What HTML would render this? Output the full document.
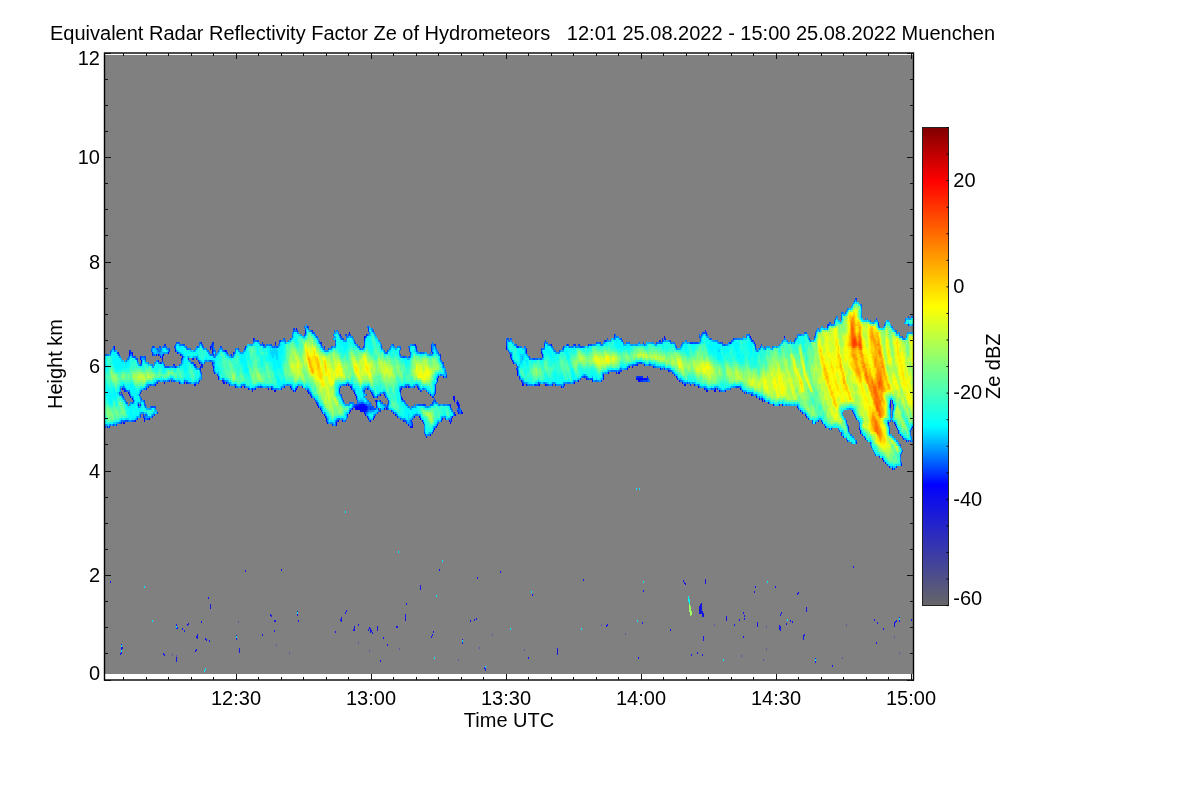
<!DOCTYPE html>
<html><head><meta charset="utf-8"><title>Ze</title>
<style>html,body{margin:0;padding:0;background:#fff}body{width:1200px;height:800px;overflow:hidden}svg{display:block}</style>
</head><body>
<svg style="will-change:transform" width="1200" height="800" viewBox="0 0 1200 800">
<rect width="1200" height="800" fill="#fff"/>
<rect x="105" y="55" width="808" height="619" fill="#808080"/>
<g fill="none" stroke-width="1" shape-rendering="crispEdges">
<path stroke="#1212e4" d="M252.5 390v2"/>
<path stroke="#0a0af0" d="M351.5 388v2m100 30v2"/>
<path stroke="#0303fb" d="M124.5 390v2m20 28v2m14-68v2m26 26v2m39-2v2m45 4v2m3-2v2m24 0v2m41 30v2m2-4v2m12-36v2m10 18v4m1-4v4m1-4v4m1-4v4m1-4v4m1-4v4m0 4v2m36-28v2m7-4v2m4 38v2m39-10v2m2-24v2m1-2v2m4 14v2m64-32v4m4-2v2m13-2v2m35-4v2m45-12v2m8-6v2m10-6v2m27-30v2m4 32v2m38 18v2m34-4v2m22 10v2"/>
<path stroke="#0000ff" d="M123.5 422v2m1-2v2m5-30v2m6 24v2m6-62v2m3 56v2m5-2v2m6-36v2m8-32v2m1 26v2m4-32v2m14 2v2m4 24v2m13-22v2m11-18v4m12 30v2m2 0v2m20 2v2m30 2v2m1-50v2m0 46v2m15-6v2m6 0v2m12 2v2m9 10v2m1 0v2m8 10v2m1 2v2m9 0v2m12-42v2m6 6v2m3 12v4m1-4v4m1-4v4m1 0v2m6-6v2m7-12v2m22 16v2m8 4v2m7 4v2m10-10v2m14 8v2m15-10v2m1 0v2m3-26v2m2 14v2m7-4v2m44-66v2m7 12v2m4 6v4m6 10v2m22-2v2m16 0v2m17-8v2m8-4v2m32-8v2m14-8v2m6 10v2m1-2v2m1-2v2m20-12v2m22 12v2m2 0v2m14 0v2m9 2v2m7-2v2m1-4v4m36 2v2m5 0v2m3 0v2m47 16v2m82 4v2m2-20v2m2 62v2"/>
<path stroke="#000bff" d="M109.5 426v2m5-82v4m7 72v2m1-36v2m6 2v2m1-42v4m1 40v2m2-46v4m0 42v2m6 4v2m2-48v2m1 2v2m5 24v2m10-36v2m1 26v2m3-28v2m2-2v4m13-10v2m2 0v2m2 28v2m1-30v2m13 2v2m1 4v2m0 18v2m1-2v2m5-20v2m1-4v2m1-2v2m10-18v6m0 8v2m1 2v2m1 4v2m4 2v4m7-30v2m1 30v2m3 0v2m6 0v2m6-2v2m7 0v2m5-52v2m2 48v2m29-4v2m7 0v2m2 0v2m3-64v2m1 56v2m8-56v2m2 56v2m3 2v2m1 0v2m5 4v2m4 4v2m4 4v2m1 0v2m1 2v2m16-2v2m4-38v2m3-54v2m0 78v2m1-4v2m2-4v2m3-16v2m0 10v4m1-14v2m0 8v4m3-6v2m1-2v2m1-2v2m0 4v2m1-8v2m0 4v2m1-8v2m0 4v2m1-76v4m0 64v2m0 4v4m1-4v2m1-4v2m1-22v2m0 26v2m1 0v2m2 0v2m1-30v2m1 0v2m1 22v2m1-4v2m2-18v4m1-8v2m3-4v2m4-2v2m0 12v2m2-2v2m7 2v2m4 2v2m3-28v2m2 6v2m4-14v2m2 36v2m4-2v2m2-10v2m1-74v2m2 40v2m1 0v2m1 26v2m3 2v2m4 14v2m4-44v2m0 38v2m3-6v2m3-6v2m1-50v2m1-4v2m4 40v2m1-44v2m9 38v2m2-20v4m3 0v4m1-4v6m3 4v2m45-68v2m4 6v2m1 2v2m1 0v2m5 12v2m4 4v2m5-32v2m15 0v2m1 0v2m9-12v2m1 38v2m12-2v2m28-6v2m11-8v6m5-8v2m8-2v2m13-8v2m7 10v2m1-2v2m1 0v2m1-2v2m2-4v2m1-2v2m1-2v2m1-16v2m0 12v2m1-2v2m1-2v2m7-14v2m23 8v2m1 0v2m2 0v2m6 2v2m9-2v2m10 2v2m15 0v2m6-2v2m25-56v2m14 62v2m4 0v2m5 0v2m9-2v2m2-70v2m13 68v2m3 2v2m2 0v2m3 0v2m17 6v2m3 2v2m3-104v2m31 102v2m1 0v4m5 4v2m17 18v2m1 0v2m6 4v2m1-68v4m0 2v2m4 14v2m1 0v2m1 0v2m5 36v2m5-26v2"/>
<path stroke="#002dff" d="M105.5 426v2m2-2v2m9-4v2m1-74v2m1-2v2m3 38v2m1 0v2m2-8v2m1 0v2m4-42v2m1-2v4m1-2v2m2 46v2m4 16v2m3-64v2m0 34v2m0 10v2m1-16v2m2 22v4m5-32v2m4-36v4m0 60v2m1-72v2m1 66v2m3-4v2m1-54v2m2 0v2m2-4v2m2-18v2m1-2v2m4 4v2m0 28v2m2-2v2m2-18v2m1-20v2m0 16v2m1-18v2m0 16v2m6-10v2m7-2v2m4-2v2m3 4v2m1-8v2m2 0v2m0 20v2m1-4v2m1-14v4m1-30v2m1 22v2m9-22v2m1-6v6m0 16v2m1-24v2m0 10v2m0 12v4m4 2v2m6 4v2m3-32v2m5 2v2m2-4v2m12-8v2m7 40v2m1-50v2m1-4v2m6 46v2m2-46v2m1 0v2m12-2v2m5-6v2m1 46v2m13-62v2m3 0v2m5 54v2m3-58v2m2-6v2m5 2v2m8 10v2m1-2v4m0 64v2m1 0v2m2-68v2m8 76v2m7-38v4m1-58v2m0 50v2m7 26v2m4-30v2m2 2v2m1 14v2m2-10v2m0 4v2m1-2v2m1-2v2m5-60v2m1-8v2m0 48v2m1-56v2m0 66v2m1-72v2m0 74v2m1-6v4m1-82v4m2 58v2m0 16v2m5-10v2m1 2v4m2 0v2m2-10v2m0 8v2m5-16v2m3 4v2m3 6v2m10-16v2m5 24v2m3-76v2m2 70v2m0 4v2m3-42v2m2-42v4m4 40v2m3 12v2m0 16v2m1-20v2m1 28v2m6-90v6m1 0v2m0 42v2m0 4v2m0 28v2m2-40v2m1-52v2m0 40v8m0 6v2m2-22v2m0 42v2m3-72v4m1 62v2m4-4v2m1-44v2m4 26v4m4 4v4m2-14v2m1-4v2m0 8v2m2-8v4m2 2v2m45-70v4m4 10v2m6 10v2m1-24v2m0 18v2m1-22v2m1 28v2m7-30v2m0 2v2m9 30v2m3-2v2m3-36v2m1 4v2m2-14v2m2 38v2m9-2v2m8-40v2m0 38v2m4-44v2m7-2v2m1-2v2m4-2v2m5 30v2m4-34v2m13 34v2m4-42v2m9-8v4m7 32v2m16 4v2m1-2v2m1-2v2m1-2v2m0 2v2m1-6v2m0 2v2m1-6v2m0 2v2m4-2v2m1-6v4m12-40v2m1-2v2m2-4v4m2-4v2m0 28v2m1-32v2m7 32v2m2 0v2m16 8v2m2-44v2m13-14v2m1 0v2m11 54v2m13-48v2m3-6v2m4 46v2m5 2v2m2 0v2m2-2v2m5-56v2m1 0v2m2 0v2m1 0v4m7 50v2m17 4v2m19 2v2m10 8v2m7 2v2m3-4v2m3-2v2m6-96v2m4 100v2m10 2v4m2 0v2m4 2v2m1-16v4m4-20v2m1 0v2m1 0v2m1 0v2m1-120v2m0 118v2m0 22v2m6-10v2m16-112v2m1 130v2m6 4v2m3-40v2m4-26v4m1 0v2m1 62v2m2-4v2m1-40v2m1 0v4m2 0v2m2 0v2m1 0v2m5-116v2m0 114v2m3-14v2m1-4v2"/>
<path stroke="#004fff" d="M106.5 354v2m4-4v2m3-8v2m0 76v2m6-72v2m0 36v2m4-6v2m0 6v2m2 22v2m1-32v2m0 10v2m0 16v2m1-2v2m2-30v2m3 8v2m0 16v2m1-66v2m0 62v2m1-66v2m0 62v2m1-66v2m1 0v2m1-2v4m2 32v2m1-32v2m0 48v4m1-62v2m0 40v2m3-44v2m0 42v4m0 12v2m1-62v4m0 44v2m0 8v2m2 2v2m1-2v2m2-36v2m1-36v2m0 54v2m1-62v2m0 58v2m1-2v2m1-54v2m0 50v2m1-2v2m2-60v2m2-4v2m0 6v2m1-10v2m1 14v2m2-18v2m1 16v2m1 0v2m1-2v2m1-2v2m1-2v2m1-20v2m4 30v2m1-16v2m0 12v2m1-38v2m1-4v2m2-2v2m3 16v2m1-4v2m1-16v2m1-2v2m2 0v2m1 0v2m0 32v2m1-2v2m3-22v2m1-2v2m1-2v2m2 2v2m1-2v2m1-22v2m2 20v2m1-28v2m1 22v2m0 4v2m1-30v2m1 0v2m1 14v2m6-4v2m1-18v2m2-2v2m0 4v2m7-6v2m1-2v2m3 2v2m3 0v2m6 0v2m1-4v2m4-6v2m6-2v2m1-2v2m12-10v2m1-2v2m0 44v2m3-2v2m3-44v2m7-2v2m0 40v2m1 0v2m2-44v2m2-2v2m1-2v2m2-8v4m5-6v2m9-12v4m2 56v2m9-56v2m1-8v2m3-4v2m0 62v2m1 0v2m2-64v2m1 0v2m1-2v2m1 64v2m1 0v2m1-66v2m8 10v2m4-2v2m3-4v2m4-8v2m0 2v2m1 74v2m1-2v2m2-88v2m0 56v2m1-58v2m1-2v2m0 56v4m1-60v2m0 58v2m1-62v2m0 60v2m2-68v2m0 84v2m1-88v2m1 80v2m1-84v2m1-2v2m1-2v2m3 70v2m1-68v2m0 62v2m1-64v2m0 60v2m2-6v2m2-56v2m2 54v2m1-2v2m2-62v4m1 42v2m0 22v2m1-20v2m0 8v2m1-72v2m0 74v2m1-86v2m0 78v4m1-4v4m0 10v2m1-16v2m1-2v4m1-4v4m1-80v2m0 74v4m1-2v2m1-2v2m0 4v2m2-16v2m0 10v2m2-4v2m1-4v2m1-64v2m1 54v2m1-12v2m3-42v2m0 52v2m1-58v2m0 46v2m0 4v6m1-10v2m5-58v2m7 2v2m0 4v2m0 32v2m0 2v2m0 24v2m1-34v2m0 10v2m2-44v2m1-2v2m0 42v2m0 18v2m1-36v2m0 32v2m4-72v2m0 4v2m0 28v2m1-36v2m1 68v2m1-6v2m0 2v2m2-80v2m1 0v2m1 2v2m3 52v2m1-54v2m0 50v2m1-16v2m1 12v2m2 26v2m1-30v2m1-16v2m2 0v2m3-50v2m2 50v2m0 2v2m1-58v2m0 52v2m1-54v2m0 36v2m1-4v2m2-32v2m0 68v2m2-66v2m2 2v2m1-2v4m3 8v2m3 28v2m2 2v2m7-2v4m1-4v6m47-74v2m1-4v2m1-2v2m0 10v2m1 0v2m1-16v2m1 14v2m5-12v2m0 18v2m1 2v2m2 8v2m4 2v2m6-28v2m4 0v2m1-2v2m0 24v2m2-2v2m1-28v2m1 22v2m2-26v2m1-12v2m3-8v2m0 2v2m1-8v2m2 42v2m1-2v2m2-42v2m9 4v2m4-4v2m5-6v2m5-2v2m5-2v2m2 0v2m0 30v2m1-34v2m1-2v2m1 28v2m2-2v2m1-2v2m1 0v2m1-2v2m2-36v2m0 32v2m1-36v2m0 32v2m1-2v2m4-38v2m4-2v2m4-4v2m2-2v2m1-4v2m12 30v2m1-2v2m1-34v2m1 0v2m11 22v2m2-2v2m1-2v2m0 10v2m3-16v2m1-2v2m1-2v2m2-22v2m0 36v2m1-2v2m1-2v2m2-2v2m1-4v2m1-16v2m7-24v2m6 24v2m7 0v2m1-32v2m0 28v2m6-26v2m11 34v2m3-42v2m1-2v2m3-2v2m1-2v2m1-2v2m1-2v2m2-8v2m2-4v2m1-4v2m1-2v2m1-2v2m1-2v2m1 0v2m0 52v2m4-52v2m1 48v2m3-2v2m6-48v2m2-2v2m2 0v2m5-4v2m1 44v2m1-50v2m5 44v2m2-2v2m11-54v2m2 4v2m1 52v2m1-56v2m6 6v2m1-4v2m1-4v2m0 52v2m33-60v2m1-4v2m10-8v2m4 4v2m3 80v4m2-88v2m1-6v4m9 88v2m3-102v2m2-4v2m0 104v2m1-108v2m4-2v2m1-6v2m4 110v2m7-12v2m0 16v2m1-16v2m1 4v2m6-132v2m1-4v2m4 126v2m5 8v2m6 4v2m1 2v2m4 6v2m1-138v2m2 2v2m6 0v2m3 138v2m2-38v6m1-26v2m0 10v2m2-2v2m1-16v4m7 34v2m0 8v2m1-4v2m0 8v2m1-128v2m0 112v2m6-136v2m2 112v2m0 8v2"/>
<path stroke="#0071ff" d="M105.5 354v2m2-2v2m1-2v2m2-6v2m0 72v2m1-76v2m2-4v2m1 0v2m0 72v2m4-72v2m1 66v2m1-36v2m0 4v2m0 26v2m1-30v2m0 24v2m1-26v2m0 22v2m1-36v2m0 32v2m1-24v2m0 20v2m1-34v2m0 10v2m1-42v2m1-4v2m0 30v2m0 10v2m1-48v4m0 60v2m1-66v2m0 32v2m1-38v2m1 64v2m1-66v2m6 48v2m2-12v2m1-34v2m1-10v2m1-2v2m0 42v2m1-14v2m0 14v2m1-46v2m0 44v2m0 10v2m1-34v2m0 26v2m0 2v2m2-58v2m1 20v2m1 20v2m1-60v2m0 34v2m1-22v2m1-12v2m0 28v2m1-40v2m0 36v2m1 22v2m1-28v2m1-24v2m1-14v4m0 28v2m1-32v2m0 10v2m0 16v2m1-34v4m1-4v2m1 4v2m1 6v2m0 16v2m1-36v2m1-2v2m0 32v2m1-36v2m1 0v2m0 30v2m1-34v2m0 30v2m1-16v2m3-2v2m3-22v2m1 18v2m1-26v2m1 8v2m1-12v2m0 20v2m1-22v2m1-2v2m0 8v2m0 6v2m1-20v2m2 34v2m4-34v2m1 32v2m1-36v2m0 32v2m5-2v2m1-2v2m2-38v2m1-6v4m1 16v2m1-20v2m0 16v2m0 10v2m0 2v2m1-34v2m4 0v2m0 10v2m1-12v2m1-2v2m1 0v2m0 6v2m1-8v2m1-2v2m0 4v2m1-8v2m1-10v4m0 12v2m1-14v2m0 4v2m1-8v6m3-6v2m4-4v2m1 0v2m1 28v2m2-30v2m2 28v2m2-30v2m1 0v2m1-2v2m2 26v2m1-38v4m0 32v2m2 0v2m6-4v2m1-2v2m5 2v2m2-2v2m2-2v2m1-50v2m0 46v2m1-50v2m1-2v2m1 44v2m2-2v2m1-44v2m1-2v2m1-2v2m0 40v2m2-42v2m2-4v2m1-2v2m0 40v2m2-44v2m1-2v2m2 0v2m0 38v2m1-42v2m0 40v2m2-2v2m1-2v2m2-46v2m5-8v2m2 0v2m2 42v2m3-48v2m1 46v2m1-54v4m2-8v2m1-2v2m1-2v2m8-6v2m1 6v2m0 52v2m2-2v2m1-62v2m2 0v2m0 60v2m1 0v2m3-64v2m1 0v2m2 0v2m0 64v2m1 0v2m1-66v4m1 62v2m2-62v2m1 0v2m3 66v2m6-72v2m1-14v2m1-6v2m1 10v2m0 78v4m2-96v2m1 0v2m0 84v2m1-2v2m1-26v2m1-58v2m2 44v2m1-2v2m2-50v2m0 80v2m1-84v2m2 46v2m0 16v2m0 6v2m1-10v2m1-2v2m0 4v2m1-74v2m0 50v2m0 12v2m1 0v2m1-64v2m0 46v2m3-48v2m0 56v2m1-58v2m0 54v2m1-2v2m1-56v2m0 52v2m2-56v2m1 40v2m0 10v2m1-58v2m0 44v2m2-58v2m0 74v2m1-88v2m0 76v2m1-20v4m0 10v2m0 2v2m0 4v2m1-80v2m0 68v4m1-4v4m1-2v2m1-78v4m0 60v2m1 0v2m0 20v2m1-22v2m4 12v2m1-18v2m0 4v2m2-58v2m0 56v2m3-54v2m0 40v2m0 10v2m1-54v2m0 50v4m2-56v2m1 50v2m0 2v2m1-62v2m1-4v2m2-4v2m4 68v2m1-70v2m2-2v2m0 2v4m1-8v2m1 8v2m1-2v2m0 28v2m0 12v2m1-2v2m1-16v2m1-32v2m0 44v2m1-48v2m0 46v2m0 14v2m1-38v2m0 18v2m1-60v2m0 8v2m0 26v2m0 20v2m1-62v2m1 6v2m0 30v2m0 32v2m1 2v2m1-82v2m0 60v2m1-64v2m1 58v2m1 8v2m1-32v2m0 28v2m1-66v2m0 52v2m0 8v2m1-30v2m0 16v2m1-18v2m1 26v2m1-66v2m0 50v2m1-54v2m1-2v2m0 34v2m1 34v2m0 4v2m4 2v2m2-84v2m0 50v2m1-2v2m1-64v2m0 60v2m1-62v2m0 56v2m1-4v2m1 24v2m1-80v2m0 52v2m1-54v2m2 2v2m0 48v2m1-32v2m1-16v2m0 12v2m2-10v2m0 36v2m1-2v2m1-36v2m2 32v2m1-2v2m2 14v2m2-12v2m1 0v2m4-6v2m3-2v6m46-76v2m2 0v2m1-2v2m2-4v2m0 16v2m4-14v2m1 0v2m4-2v2m2 32v2m2-36v2m1-2v2m2 36v2m2-28v2m0 24v2m1-28v2m1 24v2m1-28v2m3-2v2m1-2v2m1 24v2m2-4v2m2-26v2m1-12v2m1-2v2m1 32v2m2-42v2m1-2v2m2 0v2m2 0v2m1-2v2m1 0v2m0 32v2m1-34v2m1-2v2m3 0v2m4-6v2m1 34v2m3-42v2m1 36v2m1-2v2m1-38v2m0 34v2m2-38v2m1-2v2m1 34v2m1-4v2m1-36v2m4-2v2m3 28v2m1-32v2m6-4v2m0 32v2m5-36v2m1 34v2m1-2v2m1-40v2m1-2v2m0 36v2m1-40v2m2 0v2m1-2v2m9 24v2m1-2v2m1-2v2m1-34v2m0 30v2m1-38v2m0 34v2m1-36v2m0 32v2m2-2v2m2-34v2m0 28v2m3-28v2m3-2v2m1 22v2m1-26v2m0 22v2m1-26v2m3 20v2m2-2v2m3-4v2m1-2v2m1-22v2m5 0v2m4 34v2m1-2v2m1-18v2m4 0v2m1-2v2m2-26v2m1-2v2m1-2v2m1-2v2m1-2v2m2-4v2m4 26v2m1-2v2m1-30v2m2 0v2m0 26v2m2-30v2m1-2v2m1 0v2m5 34v2m1-38v2m0 34v2m1-40v2m2 38v2m1-2v2m1-44v2m3 0v2m0 38v2m4-42v2m5-2v2m0 40v2m1-52v2m0 50v2m1-52v6m5 46v2m2-56v2m0 52v2m2-52v2m2-2v2m1 48v2m1-2v2m4-50v2m2 0v2m1 46v2m1-50v2m0 46v2m1-48v2m1-2v2m2-2v2m6-4v2m1-4v2m2-4v2m1-2v2m0 46v2m1-50v2m2-2v2m1 46v2m1-2v2m6-52v2m1-4v2m1-2v2m0 56v2m1-58v2m1 0v2m2 52v2m1 0v2m2-48v2m0 44v2m1-48v2m0 44v2m1-46v2m2 44v2m5-52v2m1 0v2m7-4v2m10-8v2m2-4v2m3 0v2m4 0v2m6-10v4m2-4v2m1-2v2m4-4v2m2-2v2m4 6v2m4-4v2m2-10v2m2-4v2m11-6v2m2-2v2m3-6v2m2-6v2m2 110v2m3-118v8m1-8v2m3-2v2m1-4v2m0 110v2m1-116v2m3 124v2m1-2v2m5-136v2m0 138v2m2-22v2m1 0v4m2-122v4m4 10v2m2 120v2m3-122v2m0 122v2m3 4v2m1 0v2m5-128v2m6-6v2m4 102v2m1-14v2m2-90v2m0 82v6m0 50v2m3-138v2m1-2v4m3 0v2m1 120v2m0 2v2m3-124v2m1-2v2m1-22v4m5 110v4m1-120v2m0 120v2m1-124v2m0 122v2"/>
<path stroke="#0093ff" d="M105.5 424v2m1-2v2m2 0v2m1-4v2m1-72v2m2-8v2m0 74v2m3-76v2m2 70v2m1-2v2m1-68v2m0 36v2m1-40v2m0 32v2m2-6v2m1 10v2m1-14v2m4 2v2m1 12v2m0 14v2m1-28v2m0 6v2m0 16v2m1-68v2m0 40v2m0 4v2m1-8v2m1 0v2m0 2v2m2-46v2m1 58v2m1-4v2m1-56v2m0 38v2m1-40v2m0 40v2m1-10v2m0 2v2m1-46v2m0 40v2m0 10v2m1-2v2m1-56v2m0 28v2m0 22v2m1-56v2m1 28v2m0 26v2m1-12v2m0 8v2m1-34v4m0 28v2m1-34v2m1 22v2m0 6v2m1-10v2m1-46v2m0 50v2m1-70v2m0 16v2m0 16v2m0 28v2m1-64v2m0 12v2m0 46v2m1-54v4m1-12v2m0 6v2m0 18v2m1-36v2m0 10v2m1-12v2m0 28v2m1-30v2m0 8v2m1-16v2m0 2v2m1 0v2m1 0v2m1-12v2m1 4v2m1-2v2m0 12v2m0 12v2m2-34v2m0 2v2m1-2v2m1-4v2m2 14v2m1-2v2m0 10v2m1-2v4m1-16v2m2 12v2m1-32v2m2 28v2m1-38v2m0 6v2m1 10v2m0 16v2m2-30v2m1 0v2m2-12v2m0 32v2m1-34v2m0 30v2m1-2v2m1-26v2m1-10v2m0 10v2m1-2v2m3 2v2m1-16v2m0 14v2m0 14v2m1-36v2m1-4v2m0 8v2m0 10v2m1-14v4m0 8v2m2-10v2m1 10v2m1 2v2m2-30v2m1-2v2m1 10v2m3-10v2m0 6v2m4-2v2m1-10v2m0 2v2m0 6v2m1-18v2m0 12v2m0 2v2m0 2v2m1-16v2m0 14v2m1-20v2m1-4v2m2-6v2m1-2v2m1-2v2m1 0v2m0 26v2m1-2v2m2 0v2m1-2v2m1-28v2m0 24v4m1-30v2m3 28v2m4-34v2m1-6v2m0 36v2m1-40v2m1 0v2m1-2v2m1 0v2m0 32v2m1-4v2m1-34v2m0 30v2m1-36v2m1-2v2m1 34v2m1-42v2m0 38v2m5-44v2m2-4v2m6-2v2m4 2v2m2-2v2m1 38v2m2-44v2m0 40v2m6 0v2m1-44v2m2 40v2m1-44v2m0 40v2m1-46v2m2-6v2m0 44v2m1-48v2m0 44v2m1-48v2m0 44v2m1-48v2m1 0v2m1 40v2m2-46v2m0 42v2m1-2v2m1-2v2m1-48v2m1-8v2m0 54v2m1-58v2m1 56v2m2-6v2m1-56v2m1-2v2m0 50v2m3-52v2m3 0v2m2-14v4m2 60v2m1 0v2m3 4v2m2-64v2m2 64v2m1-64v2m1-2v4m0 60v2m1 2v2m2-62v2m0 60v2m3 2v2m1-64v2m0 62v2m1-66v2m1-2v2m0 66v4m1 0v2m1-76v2m1-2v2m0 72v2m1-76v2m0 72v2m1-2v2m1-86v2m0 84v2m1-94v2m0 2v2m0 8v2m1-16v2m0 12v2m0 72v2m1-92v2m1 86v2m4-2v2m1-36v2m0 14v2m0 16v2m1-80v2m0 60v2m0 16v2m1-82v2m0 60v2m0 16v2m1-82v2m0 42v2m0 18v2m1-68v4m0 62v2m1-24v2m1-48v2m0 44v2m0 20v2m1-2v2m1-70v2m0 46v2m0 22v2m1-74v2m0 46v2m1 0v2m0 18v2m1-70v2m0 62v2m3-60v2m0 48v2m1-50v2m2 0v2m2-2v2m2-2v2m0 42v2m1-6v2m0 6v2m0 4v2m2-6v2m0 2v2m0 10v2m1-30v2m0 12v2m0 10v2m1-80v2m0 80v2m1-30v2m0 20v2m1-2v2m1-84v2m0 80v2m1-2v2m1-80v2m0 58v2m0 16v2m1-80v2m0 80v2m1-82v2m0 60v2m1-2v2m0 10v2m1-16v2m0 10v2m1-68v2m0 52v2m1-56v2m1 0v2m0 48v2m0 8v2m1-56v2m1-2v2m0 42v2m1 10v2m1-54v2m1 38v4m1 0v2m2-48v2m2-4v2m1-6v2m1 64v2m1-66v2m1-2v2m0 64v2m1-2v2m2 0v2m1-70v2m1 6v2m0 32v4m1-36v2m0 28v2m0 6v2m1 22v2m1-2v2m1-34v2m0 30v2m1-18v2m0 14v2m1-36v2m1-2v2m2 36v2m1-18v2m0 12v6m1-82v2m0 10v2m0 50v2m0 12v4m1-82v2m0 60v2m1-22v2m1-2v2m0 18v2m0 8v2m2-34v2m0 20v2m1-4v2m1-54v2m0 30v2m1-34v2m1-2v2m0 60v2m3-28v2m2-38v2m0 34v2m0 36v4m1-24v2m1-2v2m1-2v2m0 26v2m1-30v2m1-54v2m0 78v2m1-82v2m1-2v2m1-12v8m1 0v2m0 74v2m1-38v2m0 32v2m1-80v2m0 52v2m1-54v2m0 72v2m1-74v2m0 48v2m0 18v2m1-70v2m0 18v2m0 28v2m2-46v2m0 42v2m1 12v2m1-4v2m1-44v2m1-10v2m0 8v2m0 38v2m1-50v2m0 2v2m0 2v2m0 26v2m0 10v2m1-46v2m0 30v2m2 12v2m1-2v2m1-12v2m0 8v2m1-10v2m0 4v2m2-4v2m54-68v2m3 2v2m1-14v2m0 10v2m1-12v2m1 16v2m1-18v2m0 16v2m4 6v6m1-30v2m1 30v2m1-34v2m2 32v2m1 0v2m1-36v6m0 28v2m1-2v2m1-30v2m1 0v2m0 26v2m2-2v2m1-28v2m1 24v2m6-28v2m1-2v2m1 22v2m2-32v2m1 28v2m1-36v2m1-8v2m0 38v2m1-2v2m2-40v2m1 38v2m1-2v2m1-2v2m1-4v2m2-2v2m2-32v2m0 30v2m1-34v2m0 30v2m1-2v2m1-34v2m0 30v2m1-36v2m0 32v2m1-2v2m1 0v2m1-6v2m1-38v2m0 34v2m1-2v2m1-2v2m4-38v2m0 34v2m2-2v2m1-38v2m0 32v2m2-2v2m1-36v2m1-2v2m0 32v2m1-36v2m3 28v2m3-32v2m0 26v2m3 0v2m5-34v2m1-2v2m1 34v2m3-2v2m3-38v2m2 28v2m1-34v2m1-2v2m1 28v2m2-34v2m0 30v2m1-34v2m0 28v2m1-2v2m1-32v2m0 28v2m3-34v2m2-4v2m2-2v2m0 32v2m1-36v2m1 0v2m2 0v2m0 26v2m3-2v2m1-2v2m1-2v2m1-28v2m4 0v2m0 18v2m1-22v2m3-2v2m1-2v2m0 16v2m1-20v2m1-4v2m4 18v2m3-20v2m1 18v2m2-2v2m3-24v2m0 20v2m1-24v2m1-2v2m2 0v2m1-2v2m0 20v2m1-2v2m1-2v2m2-2v2m1 0v2m1-28v2m3-4v2m1 26v2m2-30v2m1 26v2m1-28v2m2-2v2m1 28v2m2-28v2m1 0v2m1-2v2m0 26v2m3-32v2m0 30v2m1-34v2m1-4v2m0 34v2m1-40v2m0 38v2m2-44v2m1 40v2m1-42v2m1 38v2m4-2v2m3 0v2m2-2v2m2-44v2m1 42v2m1-52v2m1-4v2m2 50v2m1-2v2m2-52v2m1-2v2m2 50v2m3-50v2m1-2v2m1-2v2m1-2v2m2 0v2m1 44v2m3 0v2m1-2v2m1-2v2m2-48v2m1-2v2m0 42v2m1-48v2m0 44v2m5-50v2m0 44v2m1-2v2m3-50v2m2-2v2m1-2v2m1-2v2m0 48v2m1-52v2m1-4v2m2 52v2m1-58v2m3 56v2m1-2v2m1-2v2m2-52v2m1 0v2m2 4v2m4 46v2m1-4v2m2 0v2m3-54v2m2-2v2m1 54v2m3-56v2m1-4v2m3-2v2m3-4v2m6-8v2m0 64v2m1-2v2m3-2v2m1-66v2m4 0v2m0 60v2m1-66v2m1-4v2m1 64v2m1-72v2m3-2v2m2-2v2m5 0v2m7-2v2m2-10v2m2 0v2m3-6v2m5 0v2m5-6v2m1-2v2m4-10v2m5 94v2m1-102v2m2 104v2m2 6v2m1-120v2m1 98v2m0 22v2m1-26v2m1-104v2m0 134v2m1-140v2m0 130v2m1-136v2m0 132v2m2 2v2m5-138v2m1 2v10m6 0v2m5 128v2m1-128v2m1-4v2m1-2v2m2-2v2m1 4v2m5-2v2m4-8v2m0 100v2m1-104v2m0 98v2m1-18v4m1 2v4m0 2v2m1-92v2m0 70v2m0 18v2m1-4v2m0 18v2m1-110v2m0 138v2m2-48v2m1 16v2m1-2v2m1-110v2m0 108v2m1-112v2m0 110v2m1-110v2m0 108v2m0 10v2m1-124v2m3-16v2m0 114v2m1-2v2m1-104v2m1-6v2m1-2v2m1-16v2m1 12v2m1-2v2m0 102v2m0 2v2m1-118v2"/>
<path stroke="#00b5ff" d="M107.5 424v2m2-72v2m2 68v2m4-2v2m1-76v2m0 70v2m4-38v2m0 32v2m1-64v2m0 26v2m1-28v2m1 22v2m1 14v2m1-42v2m0 40v2m2 0v2m3-2v2m3-10v2m1 2v2m1 16v2m1-4v2m1-56v2m0 38v4m1-42v2m0 50v2m1-26v2m0 2v2m0 4v2m0 10v4m1-28v2m0 8v2m0 4v2m0 4v2m2-56v4m0 38v2m3-16v2m1-26v2m0 20v2m0 22v2m0 2v2m1-52v2m0 44v2m0 4v2m1-52v2m0 42v2m0 6v2m2-54v2m0 50v2m1-4v2m1-66v2m1 60v2m1-66v2m0 2v2m0 28v2m0 28v2m1-66v2m0 60v2m1-62v4m0 26v2m0 28v4m1-62v2m3-2v2m0 26v2m1-32v6m1-4v2m0 8v2m0 16v2m1-18v2m2-14v2m1 26v2m4-4v2m6-36v2m0 34v2m1-32v2m0 14v2m2-2v2m0 12v2m1-30v2m1 10v2m0 16v2m1-24v4m1 18v2m1-38v2m0 8v2m4 2v2m2 0v2m1-14v2m0 30v2m2-34v2m0 4v2m0 24v2m1-28v2m1-8v2m0 4v2m1-10v2m1 32v2m1-26v2m0 8v2m0 10v2m1-36v2m0 30v2m1-20v2m0 14v4m2-18v2m2-4v2m1-14v2m2 10v2m2-8v2m4 4v2m1 2v2m0 2v2m4-18v2m0 18v4m1-26v2m0 24v4m6-28v2m4 2v2m0 24v2m1-28v2m0 24v4m2-2v2m1-30v2m0 26v2m1-32v2m2 28v2m2 0v2m1-2v2m2-36v2m2-2v2m2 30v2m2 0v2m1-2v2m1-44v2m1-2v2m0 42v2m2-46v2m3 40v2m1-2v2m2-46v2m2 40v2m3 0v2m1-2v2m1-2v2m4-2v2m1-2v2m1-42v2m8 40v2m1-2v2m3-6v2m1-2v2m1-2v2m4-46v2m1-2v2m1 42v2m1 0v2m1 0v2m2-4v2m4-4v2m1-52v2m1 48v2m2-50v2m2-12v2m1 4v2m1-6v2m2 0v2m2 60v2m2 2v2m2-62v2m2 62v2m3-58v2m1 60v2m1-60v2m0 58v4m2-62v2m1 60v2m3-64v2m0 66v4m1 0v2m4-78v2m0 74v2m1 0v2m1-90v4m1-8v2m0 84v2m3-84v2m0 48v2m0 6v2m1-58v2m0 44v2m0 32v2m1-36v2m0 12v2m2 18v2m3-38v2m0 30v4m1-14v2m0 6v2m2-6v2m3-72v2m0 44v2m0 18v2m1-66v2m0 46v2m1-2v2m1-46v2m0 46v2m2 2v4m1 0v2m1-2v2m1-2v2m1-2v2m1-14v4m0 8v2m1-14v2m0 4v4m0 2v2m1-16v2m1-50v2m0 46v2m0 6v2m0 6v2m1-18v2m1 14v2m0 10v2m1-14v2m0 8v2m1-88v2m0 6v2m0 82v2m1-8v2m0 4v2m1-90v2m0 58v2m0 26v2m1-30v2m1 22v2m1-82v2m0 58v2m0 14v2m1-76v2m1-2v2m0 74v2m1-10v2m0 2v2m1-10v2m2-58v2m1 46v2m1 10v2m0 2v2m1-60v2m0 56v2m1-4v2m2-14v2m2 10v2m3-62v2m2 62v2m2-64v2m1-2v2m0 62v2m2 2v2m1-32v2m0 28v2m2-18v2m4 2v2m0 12v2m2-62v2m0 46v2m0 12v4m1-66v2m1 24v2m1 32v2m1-34v2m0 20v2m0 8v2m1-4v2m1-34v2m0 28v2m1-10v2m0 6v2m1-68v2m3 34v2m0 28v2m1-30v2m1 0v2m0 24v2m1 2v2m2 0v2m2-70v2m0 34v2m1-38v2m0 80v2m1-82v2m1-2v2m1 50v2m0 24v2m1-42v2m0 38v2m1-40v2m0 36v2m1-80v2m0 38v2m1-50v4m0 44v2m0 8v2m0 20v2m1-44v2m0 4v2m0 10v2m2-52v2m0 24v2m1-4v2m0 42v2m1-2v2m2-2v2m1-60v2m0 40v2m0 10v2m1-54v4m0 6v2m0 28v2m1 10v2m1-50v6m1 0v2m5 40v2m57-78v8m3-8v2m2 16v2m3 2v2m3 2v4m1 4v2m1 0v2m1 0v2m1-24v4m2-12v2m2 4v2m1 26v2m6 0v2m4-4v2m5-26v2m1-6v4m4-14v2m5 2v2m1 0v2m2 0v2m0 28v2m6-34v2m1-2v2m0 32v2m1-36v2m2-6v2m1-2v2m2-2v2m3 34v2m5-4v2m2-4v2m5-6v2m2-2v2m2-30v2m1-2v2m4 28v2m1 2v2m2-38v2m4 34v2m1-2v2m1-4v2m1-8v2m0 2v4m1-8v2m1-2v2m2-2v2m3-34v2m2-4v2m4-2v2m4 28v2m3-2v2m1-26v2m0 22v2m1-26v2m1-2v2m3 18v2m1-2v2m1-22v2m0 18v2m3-22v2m1-2v2m6-2v2m2-2v2m1-2v2m0 16v2m1-2v2m1 0v2m1-24v4m1-4v2m0 20v2m1-24v2m1-2v2m0 18v2m1-22v2m2 20v2m1-2v2m1-2v2m5 0v2m4-2v2m1-28v2m0 24v2m1 0v2m1-30v2m1-2v2m3 26v2m2 0v2m2 0v2m1 0v2m1-2v2m2-28v2m0 28v2m1-32v2m0 28v2m1-32v2m3 30v2m1-40v2m2-2v2m2-2v2m2 38v2m3-2v2m1-2v2m2 0v2m3-2v2m2 0v2m1-2v2m1-2v2m2-54v2m1 0v2m0 48v2m2 0v2m1-2v2m3-50v2m2 44v2m1-2v2m1-2v2m1-46v2m0 42v2m1 0v2m2-2v2m6-2v2m3-2v2m2-4v2m1-2v2m9-2v2m2 2v2m1-2v2m3 0v2m7 0v2m3 0v2m1-50v4m0 44v2m2-50v2m1-4v2m1-2v2m0 48v2m1-50v2m1-2v2m0 48v2m1 0v2m2-56v2m1 52v2m1-56v2m2 0v2m3-4v2m0 56v2m3-60v2m1 56v2m2-62v2m1-4v2m1-2v2m1-4v2m0 62v2m3-66v2m1 62v2m1-64v2m0 60v2m1-64v2m2 60v2m2-64v2m5 62v2m3 2v2m1-78v2m0 74v2m1 0v2m1-2v2m1-2v2m1 0v2m1-82v2m0 80v2m1-80v2m1 0v2m2-2v2m2-2v2m3-10v2m0 86v2m1-92v2m0 88v2m2-4v2m1-92v2m0 88v2m1-94v2m3 0v2m2 96v2m2-102v2m2-4v2m4-2v2m1-6v2m2-4v2m1 0v2m1-2v2m2-2v2m1 92v2m0 16v2m1-120v2m0 94v2m0 22v2m1-122v2m0 102v2m2-108v2m0 110v2m1-116v2m0 96v2m1-2v2m0 30v2m1-2v2m1-134v2m1 98v2m1-2v2m1 0v2m1-110v2m0 108v2m0 24v2m1-140v2m0 112v2m0 26v2m6-14v4m5-114v2m2-2v2m1-2v2m2 120v4m1-124v2m4-4v2m6 134v2m1 0v2m1-134v2m0 132v2m1-138v2m2 94v2m1 4v2m1 6v2m1-112v2m0 92v2m0 14v2m0 30v2m1-34v2m1-108v2m1 106v2m1-108v2m0 106v2m1-2v2m0 26v2m1-44v2m3-90v2m0 94v2m1 28v4m1-18v2m1-112v2m3-2v2m1-22v2m0 14v2m0 102v2m1-122v2m0 120v2m1-124v2m1 4v2m0 6v2m1-16v2m0 116v2m1-114v2m0 100v2m1-96v2"/>
<path stroke="#00d6ff" d="M108.5 424v2m3-74v2m1-4v2m1-2v2m0 70v2m1-2v2m1-2v2m1-72v2m1 0v2m0 36v2m1-2v2m1-6v4m0 28v2m1-64v2m1 0v2m0 34v2m0 20v2m1-22v2m1-40v2m2 0v2m0 54v2m1-32v2m0 28v2m1-60v2m0 56v2m1-60v2m0 44v2m0 10v2m1-62v2m1-4v2m0 34v2m1-38v2m0 36v2m1 22v2m2-18v2m0 14v2m3-26v2m1-2v2m1-6v2m0 20v2m1-26v2m1-2v2m0 14v2m1-44v2m0 24v2m1 12v2m1-44v2m0 44v2m0 4v2m1-52v2m0 48v2m2-32v2m2-20v2m2 42v2m2-62v4m0 30v2m1-34v2m0 56v4m1-62v4m1 8v2m5 16v2m1-34v4m5-2v2m1 26v2m1-2v2m4-2v2m3-32v2m1 30v2m1-38v2m0 4v2m0 14v2m1-22v2m1 32v2m1-30v2m1 28v2m1-30v2m0 2v6m0 16v2m1-4v2m3-24v4m2-4v2m1-8v2m2-2v2m0 4v2m0 24v2m3-16v2m0 10v2m1-2v2m1-34v2m0 4v2m1 22v2m1-10v2m0 4v2m1-34v2m0 28v2m1-16v2m5-12v2m0 6v2m8 0v2m1 8v2m1 0v2m1-20v2m0 16v2m3 4v2m4-2v2m2-26v2m2 0v2m0 22v2m11-30v2m1 30v2m5-36v2m2-8v4m1-4v2m1 40v2m5-46v2m0 42v2m4-4v2m1-42v2m2 38v2m5-40v2m3-2v2m1-2v8m1-4v6m1-8v10m1-10v10m0 28v2m1-40v6m1-6v8m1-8v12m1-10v10m2-14v2m1-6v4m0 40v2m2-4v2m2-44v2m2-2v2m6-6v2m0 44v2m1-52v4m1 50v2m3-6v2m2-52v2m1 48v2m2-50v2m0 46v2m4-58v4m0 2v2m0 50v4m1-4v2m1-58v2m1 56v2m1 0v2m1-60v2m1 60v2m2 0v2m1 0v2m1-2v2m2-58v2m1 60v2m1-60v2m2 58v2m1 4v2m3 0v2m1 0v2m1-2v2m3 2v2m3-88v2m0 2v2m0 80v4m3-92v2m1 0v2m0 50v8m1-10v2m1 10v2m4 6v2m0 12v2m1-6v2m0 2v2m1-8v2m2-2v2m1-78v2m0 44v2m2 22v2m4-20v4m3 6v2m2-2v2m1-2v2m1-2v2m1-14v2m1 6v2m1-56v2m0 56v2m1 0v2m2-18v2m0 28v2m1-88v2m0 56v2m0 24v2m0 2v2m1-90v2m0 2v4m0 52v2m1 22v2m1 4v2m1-30v2m0 20v2m1-2v2m1-4v4m1-76v2m0 70v2m1-74v2m0 62v2m0 6v2m1-6v2m1-66v2m0 48v2m1-48v2m0 56v2m1-2v6m1-4v2m1-18v2m0 14v2m1-18v2m3 4v2m1 0v2m1-50v2m0 48v4m0 4v2m1-2v2m1-2v2m1-64v2m2 0v2m6 46v2m0 18v2m1-2v2m3-34v2m4 28v8m1-64v2m0 48v2m0 8v2m1-74v2m0 2v2m1 0v4m0 60v2m3-68v2m0 32v2m1-36v2m1 0v2m0 52v2m0 4v2m1-2v2m4-26v2m1 28v2m1-34v2m1 18v2m0 14v2m1 4v2m0 2v2m1-46v2m1 0v2m1-2v2m0 40v2m1-44v4m1 12v2m2 22v2m1-82v2m0 40v2m1-48v4m0 36v4m1-40v2m0 72v2m1-50v2m0 2v2m0 40v2m1-50v2m0 28v2m2-48v2m0 14v2m0 44v2m4-54v2m1 4v2m2 42v2m1-2v2m2-14v2m3 4v2m56-66v2m1 0v2m3 0v6m1-16v4m1 14v2m2 0v2m3 0v4m1-14v10m1-10v10m1-16v2m0 4v2m0 4v2m0 16v2m1-32v2m0 4v6m0 18v2m1-30v6m2 4v2m1-6v2m1 24v2m7-2v2m1-2v2m2-4v2m3 0v2m1-34v2m0 30v2m1-26v2m4 22v2m1-2v2m3-2v2m23-38v2m3 30v2m2-2v2m3-6v2m3-30v2m1 26v2m2 0v2m5 0v2m3-36v2m0 32v2m4-2v2m3-36v2m2-4v2m2 26v2m4-32v2m1-4v2m4 0v2m2-4v2m2 26v2m1-2v2m5-24v2m0 20v2m3-24v2m6 16v2m3-20v2m1-2v2m2-2v2m9 16v2m4-20v2m1 18v2m6 0v2m1-2v2m11 2v2m1-28v2m3 28v2m4 2v2m3 0v2m1-40v2m2 36v2m4 0v2m4-2v2m5-42v2m1-6v4m1-6v2m1-4v2m5 2v2m3 0v2m0 44v2m7-40v4m0 34v2m1-38v2m2 36v2m3-2v2m1-2v2m3-46v2m1-2v2m1 40v2m10-4v2m2 2v2m1-52v2m1-2v2m1-2v2m1-2v2m0 50v2m3-54v2m3 2v2m1 48v2m2-44v2m2 42v2m3 0v2m6-50v2m0 50v2m1-2v2m2-2v2m1-54v2m0 52v2m3-2v2m2-58v2m0 56v2m1-2v2m1-2v2m1-60v2m0 54v2m1-58v2m3 54v2m2-64v2m0 62v2m1-66v2m2 0v2m3 60v2m2-64v2m0 60v2m1-2v2m2-2v2m1-2v2m1-68v2m1 64v2m1 2v2m1-2v2m4-76v2m3 0v2m1 78v2m1 0v2m3-80v2m3 78v2m3-92v2m0 86v2m2-90v2m1 86v2m1 0v2m1-94v2m2-2v2m0 94v2m1-98v2m1 96v2m1-2v2m2 0v2m1-4v2m1-2v2m4-110v2m4 2v2m1 106v2m1-2v2m0 2v2m1-20v2m0 14v2m2-120v2m0 104v2m1-14v2m0 26v2m1-10v2m1 2v2m1-126v2m2 126v2m1-132v2m0 134v2m1-36v2m0 28v2m1-30v2m2-110v2m2-2v2m2 124v2m1-112v2m1-2v2m0 112v2m1-114v2m1-2v2m1-2v2m0 114v2m5-116v2m0 116v2m1-120v2m3-2v2m3-2v2m0 130v2m1-2v2m1-2v2m2-128v2m1-2v2m4-10v2m0 140v2m1-40v2m1 38v2m1-64v2m0 4v2m0 10v2m0 42v2m1-68v2m1 66v2m1-50v2m1-10v2m0 8v2m0 44v2m1-64v2m0 14v2m0 44v2m2-134v2m0 128v2m1-132v2m0 106v2m1 0v2m0 18v2m1-36v2m2 2v2m0 14v2m1-18v2m1 0v2m2-116v2m2 10v2m1-14v2m1 106v2m1-108v2m0 102v2m1-112v2"/>
<path stroke="#00f8ff" d="M105.5 356v14m0 24v2m0 26v2m1-60v4m0 26v2m1-6v6m1-8v12m1-10v12m1-10v10m0 20v2m1-70v2m0 38v10m1-52v4m1-4v12m0 24v10m1-46v14m0 24v8m1-46v16m0 24v6m1-44v16m1-14v14m1-14v12m0 26v2m1-38v12m0 16v2m1-28v10m1-8v6m1-6v6m0 16v2m0 32v2m1-58v6m0 50v2m1-58v2m0 20v2m0 32v2m1-56v4m0 18v2m1-26v6m0 36v4m1-46v6m0 20v2m0 16v2m1-46v4m0 22v2m1-30v4m0 22v4m0 16v4m0 2v8m1-36v8m0 14v10m1-32v10m0 10v16m1-36v12m0 8v4m0 6v4m1-32v10m0 8v6m0 4v6m1-62v2m0 28v8m0 2v2m0 4v6m1-20v16m0 2v2m0 2v6m1-58v2m0 30v14m0 6v4m1-24v2m0 2v6m0 4v4m1-18v2m0 6v2m0 6v2m0 4v2m1-8v4m1-46v2m0 40v4m1-10v2m0 2v2m0 2v2m1-48v2m0 36v2m1-44v2m0 42v2m1-20v2m1 20v2m3-28v2m1-2v2m1-2v2m1-2v2m1 28v2m2-48v2m0 12v2m1-2v2m0 30v2m5-50v2m1-2v2m1-2v2m0 12v2m1-32v4m0 14v6m1-24v2m0 18v2m1-22v2m2 28v2m3-4v2m1-2v2m1-2v2m2 0v2m1-12v2m1-24v2m1-4v6m1-4v4m0 28v2m1-32v4m1-6v6m0 14v2m1-22v6m1-6v8m0 10v2m1-20v2m0 2v4m0 10v4m1-14v2m0 2v14m1-18v18m0 6v2m1-20v10m0 8v2m1-2v2m1-30v4m0 24v4m1-2v2m1-26v2m0 22v2m1-26v2m1 6v2m2 2v2m0 10v2m2-4v2m1-30v2m0 28v2m1-26v2m1 0v2m0 12v4m2-30v2m1 0v2m1 10v4m2-6v2m2-8v2m1 0v2m1 0v4m1-4v4m1-4v4m1-4v4m1-2v2m1-8v2m0 4v2m1-2v12m1-4v4m1-4v4m1 0v2m1-20v2m0 18v4m1-26v2m1-2v2m0 26v2m3-28v2m1 0v2m1 22v2m1-24v2m0 20v2m4 2v2m4-2v2m1-34v2m1 32v2m3-32v2m0 2v4m1-8v8m1-8v10m1-10v10m0 18v2m1-32v18m0 12v2m1-28v2m0 2v12m1-24v2m0 14v8m1-4v4m4 14v2m1-2v2m1-44v2m0 40v2m4-46v2m0 40v2m2-2v2m3-40v2m0 36v2m1-38v2m1 34v2m3-40v4m1-4v12m1-10v12m1-6v6m1-12v2m0 6v6m0 22v2m1-28v4m0 22v2m1-28v10m1-14v16m1-14v14m1-10v6m1-18v2m0 10v8m0 8v2m0 2v2m1-34v20m0 10v8m1-38v20m0 12v8m1-42v22m0 14v4m1-44v12m0 28v4m1-42v10m0 28v2m1-42v4m0 34v4m1-2v2m3-42v2m0 38v2m1-42v2m0 38v2m5 2v2m1-56v2m0 52v2m1-56v2m0 2v2m0 46v2m1-54v2m0 4v2m0 44v2m2-52v2m3 0v2m2 48v2m2-52v2m0 48v2m8-54v2m3 2v2m1 0v2m0 56v2m1 0v2m1 0v2m1 0v2m3 4v2m1-2v2m5 6v4m1-2v2m2-74v2m3 68v2m1-80v2m0 2v4m1 44v2m1-10v2m0 8v2m0 20v2m1-80v2m0 76v2m1-78v4m0 54v2m1-60v4m1-4v6m0 56v2m0 12v2m1-76v6m1-6v10m0 64v2m1-76v8m0 32v2m0 28v2m0 2v2m1-76v6m1-10v2m0 2v4m1 64v2m3-30v2m0 20v2m1-24v2m1-42v2m0 42v2m1-44v2m2 42v2m0 2v2m1-6v4m0 2v2m1-8v10m1-8v10m1-8v6m1-2v2m1-12v2m0 4v2m0 2v2m1 0v2m1-52v2m0 48v4m1-60v6m1-8v2m1-6v2m0 46v2m1-50v2m1-8v2m0 4v6m1-12v2m0 8v2m0 74v2m1-30v2m1-58v2m0 78v2m0 2v2m2-82v2m0 54v2m1-56v2m1 0v2m0 52v2m1-56v2m1 50v2m1 8v2m0 2v2m1-60v2m0 56v2m1-58v2m5 40v2m3 10v2m1-56v2m1-4v4m1 56v2m1-62v2m1 60v2m3-64v2m0 62v2m1 0v2m1-68v2m0 6v2m0 34v2m1 4v2m1-16v2m0 16v2m1-20v2m0 16v4m0 10v2m1-60v2m0 24v2m0 16v4m1-48v2m0 44v6m0 6v2m1-60v4m0 44v12m1-60v2m0 46v14m1-12v12m1-12v6m1-2v6m1-70v2m0 34v2m0 28v4m1-68v2m0 4v2m0 52v4m1-60v2m0 52v8m1-8v6m1-68v4m0 58v6m1-62v2m0 54v6m1-32v2m0 24v4m1-30v2m0 24v2m2-26v2m1-32v2m0 30v2m1 28v2m1-32v2m0 18v2m1 10v2m1-34v2m1-2v2m0 38v2m0 2v2m1-78v2m1 32v2m3 0v2m0 38v2m1-40v2m0 36v2m1-4v2m1-76v2m0 26v4m0 4v2m1-40v2m0 28v2m0 40v2m1-74v2m0 28v2m0 38v2m1-70v2m1-2v2m1 16v2m1-18v2m0 2v2m1 10v2m0 42v4m2-52v2m1 0v4m1 40v2m1-2v2m1 0v2m3-10v2m0 6v2m1-4v2m1-4v4m1-2v2m56-74v6m1 0v2m1 0v2m1-10v2m2 14v2m2-14v2m2 0v2m0 14v2m1-18v8m0 6v4m1-16v14m0 8v2m1-24v4m0 10v2m0 8v2m1-28v2m0 2v2m0 10v2m1-14v2m0 8v4m1-14v2m0 6v2m1-6v2m0 22v2m1-28v4m0 2v2m1-6v4m0 2v4m1-6v6m1-8v2m1 22v2m1-2v2m1-2v2m1-24v2m2 20v2m3-4v2m2-2v2m4-30v2m2-10v8m1-8v8m1-6v8m0 26v2m1-36v8m0 26v2m1-36v2m0 2v6m0 26v2m1-38v12m0 24v2m1-36v10m1 22v2m1-30v2m1-2v4m1 22v4m1-2v4m1-2v2m1-2v2m1-2v2m1-2v2m2-2v2m1-4v2m1-34v2m1-2v6m1-6v6m1-8v2m0 2v8m0 22v2m1-28v4m0 22v2m1-2v2m2-10v2m1-4v8m0 2v2m1-10v8m1-4v4m1-2v2m5-4v2m1-4v2m5-30v2m4-2v2m0 28v2m1-4v4m1-4v2m3 0v4m1-4v2m1-34v2m0 32v2m2-36v2m0 32v2m2-8v6m5-36v2m5 24v2m1-2v2m2-30v2m1-2v6m1-8v2m0 2v4m0 22v2m1-32v10m0 20v2m1-30v8m1-8v8m1-8v8m1-6v2m0 2v2m1-6v2m1 2v2m0 18v2m1-2v2m2-22v2m1-4v4m0 16v2m1-22v4m4 14v2m1-2v2m1-2v2m2-4v2m1-2v2m2-2v2m1-2v2m1-2v2m4 0v2m3-2v2m5-20v2m4-2v2m1 18v2m13 2v2m3 0v2m1-24v2m0 22v2m3 2v2m2-2v2m1-30v2m1-4v2m0 30v2m1-36v2m1-2v4m1-4v6m1-6v6m0 30v2m5-38v2m1-2v2m2-2v2m1-2v2m3 36v2m4-44v2m2 42v2m2-48v4m1 44v2m1-44v6m1-6v4m1-8v10m1-8v2m0 2v6m1-8v8m1-10v12m0 32v2m1-46v8m1-8v8m1-8v12m1-10v14m1-14v4m0 4v8m1-16v6m0 2v8m0 26v2m1-44v16m1-16v2m0 10v2m1-12v2m0 40v2m1-44v2m0 40v2m1-44v8m3-6v4m1-2v2m0 34v2m1-2v2m1-44v2m2-4v2m1-2v4m0 38v2m1-46v10m0 34v2m1-46v10m0 34v2m1-44v10m0 32v2m1-44v12m0 30v2m1-44v6m0 2v2m0 2v4m0 26v2m1-32v4m0 26v2m1-26v2m1 22v2m2-30v2m0 30v2m4-54v2m0 52v2m1-56v2m0 52v2m1-52v12m0 38v2m1-52v10m1-8v12m1 36v2m2-46v2m1 8v2m1 34v2m2 0v2m1-46v2m0 42v2m2-2v2m1-48v2m3 48v2m4-52v2m2 52v2m1-2v2m7-2v2m1-2v2m1-2v2m2-2v2m7-62v2m8-8v2m1 68v2m2 0v2m2 0v2m3-78v2m7 84v2m1-82v2m0 80v2m1-86v2m1-6v2m1 82v2m4-92v2m1-2v2m1 92v2m2-2v2m1 0v2m3 0v2m1-2v2m3-2v2m1-2v2m1-2v2m1-2v2m1-108v2m2 0v2m1 106v2m1-20v2m1-98v2m1 100v2m0 10v2m1 2v4m1-30v2m0 26v2m2-8v2m0 6v2m2-6v2m1-30v2m0 28v4m1-132v2m1 128v4m1-138v2m0 136v2m2-32v2m1 2v2m1-116v2m0 114v2m1-2v2m1-116v2m0 114v2m1-106v2m2 2v2m1 112v2m1-2v2m1-2v2m1 2v2m1-120v2m2 118v2m7 12v2m3-128v2m1-2v2m0 126v2m1-2v2m2-130v2m0 126v2m2 2v2m1-2v2m1 0v2m1-142v2m0 108v2m1-112v2m0 76v2m0 8v6m1-90v2m0 136v2m1-30v2m0 26v2m1-68v2m0 64v2m1-136v2m0 82v4m0 20v2m1-34v2m1 32v2m0 22v2m1-44v2m1 2v2m0 36v2m1-132v2m0 92v2m1 34v2m1-34v2m0 18v2m4-18v2m1-2v2m1-100v2m1-18v2m0 114v2m1-2v2m1-8v2m1 4v2m1-16v2m1-2v2"/>
<path stroke="#0dfff2" d="M105.5 370v2m0 16v6m0 2v2m1-42v8m0 4v2m0 14v10m0 2v2m0 24v2m1-60v6m0 16v4m0 6v4m1 0v2m1-14v2m0 12v2m0 18v2m1-34v2m0 10v2m1-48v2m0 4v2m0 22v2m0 2v4m0 10v2m0 16v2m1-68v8m0 24v16m0 18v2m1-60v2m0 32v2m1-34v2m0 20v2m0 8v2m1-32v2m0 28v2m0 20v2m1-52v2m0 20v12m0 16v2m1-52v2m0 18v2m0 2v2m1-28v2m0 18v4m1 4v2m1-14v2m0 10v2m0 20v2m1-52v2m0 12v4m0 12v2m1-32v2m0 12v2m1-16v2m0 12v2m0 16v2m1-38v4m1 0v2m0 14v2m0 18v2m1-38v2m0 16v2m0 20v2m1-26v4m0 20v6m1-48v4m0 14v4m0 20v10m1-54v4m0 16v2m0 24v2m1 4v4m1-38v2m1 24v6m1-30v2m0 24v4m1-28v2m0 8v2m0 12v8m1-30v2m0 16v2m0 2v2m1-50v2m0 24v4m0 14v6m1-48v2m0 24v2m0 18v6m1-26v2m0 4v4m0 10v4m1-26v2m0 8v4m1-16v2m1-22v2m0 18v2m0 20v2m1-4v6m1-26v2m1-26v2m1 20v2m2-22v2m0 46v2m3 0v2m1-6v4m1-32v2m0 24v2m1-30v2m0 26v4m2-48v2m1-2v6m1-8v8m0 8v2m1-16v2m0 12v2m1-16v4m0 10v2m1-14v2m0 10v2m1-14v2m0 10v2m1-14v6m1 6v2m1-30v2m0 18v2m1-22v2m0 16v2m0 8v2m1-30v2m0 16v2m3-2v2m1-2v2m4-2v2m3 8v2m2-2v2m2-14v2m0 12v2m1-16v2m1-20v2m0 18v2m0 8v2m1-30v4m0 18v2m1-26v2m0 2v2m0 18v2m1-24v10m0 10v4m0 2v2m1-28v4m0 6v2m0 2v14m1-24v2m0 8v2m0 2v2m0 4v4m1-28v4m0 24v2m1-28v2m0 24v2m1-28v4m0 8v4m1-16v4m1-4v4m0 10v2m1-16v4m1-4v4m1-6v6m0 14v4m0 2v2m1-26v2m1-6v2m0 26v2m2-20v2m2 0v2m2-4v2m1-4v2m1-2v2m1-4v2m0 2v2m1-4v4m8-4v10m0 4v2m1-14v2m0 2v4m0 4v2m1-18v6m0 6v4m1-4v6m6 6v2m1-24v2m3 22v2m1-2v2m1-24v2m3-4v2m0 24v2m1-30v2m1-4v2m1-4v2m1 0v2m1 0v2m0 2v2m1-4v2m0 4v2m1-2v2m0 18v2m1-20v4m0 14v2m1-20v8m1-2v4m1-22v4m0 2v2m0 12v2m1-24v4m0 4v6m0 8v2m0 10v2m1-36v6m0 16v2m1-22v8m0 10v6m1-18v2m1 24v4m1-4v2m3-42v2m1-4v4m1-4v4m0 38v2m1-42v10m1-4v4m3 2v10m1-10v6m1 22v2m1-38v2m1 34v2m1-30v6m0 22v2m1-36v2m0 4v4m0 24v2m1-28v4m0 22v2m1-26v2m1-2v2m1 0v2m1-2v2m1 4v4m1-2v2m0 14v2m1-18v6m0 10v2m1-22v12m0 8v2m1-20v8m0 2v2m0 2v6m1-12v2m0 8v2m1-20v4m0 6v2m1-12v4m0 8v2m1-28v20m1-32v2m0 10v6m0 12v2m0 6v2m1-36v14m0 18v2m1-36v4m0 2v6m0 22v4m1 0v2m4-2v2m1-2v2m1-44v2m0 40v2m1-2v2m1-46v2m0 44v2m1-52v4m0 46v2m1-52v2m0 2v4m1-8v4m0 2v4m1-10v2m0 6v2m1 38v2m1-2v2m7-48v2m0 46v2m1-56v2m0 52v2m1 0v2m2 0v2m2-56v2m0 56v2m2-58v2m1 58v2m1-2v2m1-56v2m2 0v2m2 2v2m0 54v2m1-2v2m1-56v2m0 56v2m2 0v2m1 0v2m1 0v2m1-2v2m1 0v2m1 0v2m2 0v2m1-2v2m1-4v2m1-86v2m0 12v2m1-14v4m0 2v2m0 48v2m1-52v4m0 40v4m0 4v2m1-60v12m1-8v12m1-8v8m1-8v4m0 52v2m0 14v2m1-72v6m0 30v2m1-36v6m0 28v2m0 20v2m1-54v2m0 28v2m0 28v4m1-66v2m1-4v2m1-10v2m0 4v4m0 30v2m0 28v2m1-70v2m0 2v2m0 32v2m1-44v4m0 64v2m1-70v4m0 40v2m0 20v4m1-70v6m0 36v2m1-42v6m1-2v2m0 38v2m1 0v2m1-2v2m1-2v2m0 2v2m1-6v2m0 4v2m1-46v2m0 36v2m1 0v2m1 0v2m1-4v8m1-2v2m1-12v2m1-2v2m1 14v2m1-64v2m0 2v4m1-8v6m1-6v10m1-6v8m0 64v2m1-80v4m0 2v8m0 64v2m1-84v2m0 8v8m0 64v2m1-70v4m1-16v2m2 58v2m1-54v2m1 46v4m1-52v2m0 46v2m0 10v4m1-2v2m1-16v2m2-42v2m0 38v2m2-38v2m1-2v2m0 34v2m2 2v2m1-44v2m0 42v2m1 0v2m0 6v2m1-56v2m0 48v2m1-52v4m1-8v4m3-2v4m0 56v2m1-62v4m1-4v2m0 38v12m1-50v4m0 28v8m0 2v8m1-18v2m0 8v2m0 18v2m1-32v2m0 14v2m0 4v2m0 6v2m1-12v2m0 4v4m1-56v2m0 52v4m1-10v4m0 2v6m1-58v2m0 20v2m0 26v6m1-54v2m0 18v2m1-24v6m1-6v4m0 18v2m1-24v4m0 18v2m1 26v2m1-54v2m0 50v4m1-68v4m0 64v2m1-64v2m0 30v2m1-40v4m0 32v2m2-2v2m2 22v2m0 2v2m1-6v8m1-60v2m0 56v2m2-60v2m0 58v2m1-62v2m1-2v2m0 50v2m1 12v2m1 2v2m1-40v2m0 38v4m0 2v2m1-6v6m1-46v2m0 18v2m1-22v2m0 40v2m1-76v2m0 70v2m1-2v2m1-38v2m0 32v2m1-42v4m1-40v2m0 28v2m0 22v2m0 16v2m1-48v2m0 42v2m1-48v2m0 28v2m0 14v2m1-4v2m1-62v2m1 12v2m1-12v2m1 0v4m0 4v2m1 40v2m1-2v2m1-6v4m4-8v2m2 2v2m60-70v2m1 6v2m1-8v2m1 10v2m1-12v2m1 12v2m1-14v2m1 0v8m0 4v2m1-8v4m1-12v2m0 18v4m1-24v2m0 16v2m1-18v2m0 14v2m0 8v2m1-28v2m0 14v2m1-18v2m0 10v8m1-12v4m1-4v2m0 2v4m0 6v2m1-4v4m1-16v2m0 6v2m0 12v2m1-22v6m0 14v2m2-2v2m1-22v2m2-2v2m1-2v2m1-2v2m5-2v2m0 18v2m1-22v2m2-12v2m0 28v2m1-32v8m0 22v2m1-30v4m0 18v2m0 2v4m1-30v2m0 24v4m1-28v2m0 22v2m1-26v2m0 22v2m1-32v2m0 6v2m0 22v2m1-24v2m1-2v4m0 18v2m1-32v12m0 16v2m1-26v8m0 10v4m0 4v2m1-26v6m0 10v10m1-28v2m0 16v6m1-24v2m0 2v2m0 14v6m1-24v4m0 14v8m1-28v6m0 18v4m1-6v6m1-6v6m1-6v8m1-10v8m1-4v2m1-30v4m0 26v2m1-2v2m1-28v2m0 24v2m1-34v2m0 8v2m1-10v4m0 4v4m1-14v4m0 4v2m1-10v4m1-4v2m0 18v4m0 2v4m1-30v2m0 18v2m0 8v2m1-32v2m1-2v2m0 24v2m1-28v2m0 26v2m1 0v2m3-4v2m2-30v2m0 20v4m1-26v2m0 20v4m1-2v2m1-2v2m3 0v2m1-28v2m1-4v2m0 28v2m1-6v4m1-30v2m0 22v4m1-4v4m1-2v6m1-6v8m1-8v4m1-2v2m1 0v2m1-34v2m0 32v2m6-36v2m1-2v2m0 24v2m1-28v2m0 24v2m1-30v4m1 22v2m1-2v2m1-2v2m3-2v2m1-28v4m0 22v2m1-24v2m0 20v2m1-24v2m1 0v2m1-2v2m0 18v2m1-22v2m1-2v2m1-6v2m0 2v4m0 12v2m1-22v6m0 14v4m1-20v2m0 14v2m1-20v4m0 14v2m1-20v2m0 18v2m1-20v2m1-2v2m1-2v2m1-4v4m1-4v2m1 14v2m15-2v2m1-20v2m4 16v2m2-2v2m1-2v2m2 0v2m1-2v2m2-22v2m0 18v2m1-22v2m0 18v2m1-22v2m1-2v4m1-6v8m0 14v2m1-24v2m0 20v2m1-24v2m0 22v2m1-22v2m1-2v2m0 18v2m1-2v2m1-26v2m0 22v2m1-24v4m1-4v2m2-2v2m1 0v2m2 24v2m3 2v2m2-28v2m0 24v2m2-32v2m0 30v2m1-32v2m1 0v2m0 28v2m1-32v4m1-10v10m1-4v4m0 26v2m1-2v2m1-38v2m0 34v2m1-2v2m1-36v4m0 30v2m1-38v8m1-6v4m1 30v2m1 0v2m1-40v2m0 36v2m3 0v2m1-44v2m1-6v2m0 2v2m0 40v2m1-50v2m0 46v2m1-52v2m1 0v6m0 42v2m1-44v4m1-8v12m1-10v4m0 6v2m1-12v4m0 4v6m1-4v4m0 32v2m1-44v2m0 6v2m1-12v2m0 8v2m0 32v2m1-34v2m1-6v6m1-6v6m1-2v4m1 0v2m4-14v2m0 6v2m0 2v4m0 22v4m1-40v2m0 6v6m0 22v4m1-40v4m0 4v2m0 28v2m1-34v2m1-10v8m1-8v6m0 34v2m1-42v2m0 4v4m0 30v2m1-42v4m0 2v4m1-10v6m1-6v2m1-4v2m0 38v2m1-42v4m1-2v8m1-4v4m1-4v4m1-14v2m0 10v8m1-20v2m0 12v6m1-20v2m0 6v2m0 2v2m0 4v2m1-18v12m0 4v4m1-16v2m0 2v10m0 2v2m1-14v12m1-8v6m0 26v2m1-44v2m0 2v2m0 2v4m0 2v4m1-14v2m0 6v2m0 30v2m1-2v2m1-48v6m1-6v6m1-10v14m0 2v4m1-6v8m1-10v12m0 28v2m1-38v4m0 32v2m1-48v12m1-12v2m0 6v4m1-8v16m1-12v4m0 2v6m0 28v2m1-42v6m1-6v2m6 42v2m11 4v2m7-60v2m4 56v2m4-2v2m5-2v2m2-64v2m2-4v6m1-8v8m0 60v2m1-70v2m1-2v4m1-4v10m0 62v2m1-74v8m3 68v2m1 0v2m2 0v2m3 0v2m1-2v2m0 2v2m3-88v2m3 78v2m1-2v2m2 0v2m2 2v2m2-2v2m2-96v2m7-8v2m1-4v2m1 104v2m2 0v2m1-2v2m1-20v2m1-98v2m0 2v2m0 96v2m2-10v2m1 12v2m4-18v2m1 32v2m1-36v2m0 30v2m2 0v2m1-34v2m0 30v4m1-142v2m0 106v2m4 6v2m1-114v2m0 114v2m0 2v2m1 0v2m2 2v2m5 6v2m3-2v2m2 6v2m1-4v2m1 4v2m1-2v2m1-130v2m7 132v2m2-138v2m2 104v4m0 30v2m1-140v2m0 72v2m0 16v4m4-18v2m0 8v2m1-12v2m0 4v2m1-6v2m0 14v2m4 6v2m1 18v2m1-18v2m2 0v2m3-116v4m1 98v4m1-106v2m1 0v2m0 104v2m0 4v2m0 2v2m1-14v2"/>
<path stroke="#1effe1" d="M105.5 372v2m0 6v8m0 10v2m0 20v2m1-52v2m0 10v2m0 14v2m1-30v2m0 10v4m0 14v2m0 20v2m1-56v2m0 16v2m0 14v2m0 18v2m1-38v2m0 16v2m1-50v2m0 30v2m0 14v2m1-48v4m0 20v4m0 2v2m1-26v2m0 20v2m0 16v2m1-40v2m0 18v2m1-20v2m0 16v2m1-18v2m0 16v4m0 8v4m1 0v2m1-20v4m0 6v2m0 2v6m0 14v2m1-52v2m0 14v2m0 32v2m1-52v2m0 46v2m1-50v2m0 10v2m3-14v2m1-4v2m0 12v2m0 18v2m1 2v2m1-24v2m0 24v4m1-46v2m0 44v4m1-48v2m0 10v2m1-16v2m1-12v8m0 16v2m1-26v4m1-4v4m0 20v2m1-26v4m2-2v2m2 26v2m1-24v2m0 20v2m1-24v2m3-2v2m0 36v2m1-44v8m0 36v6m1-4v2m1 0v2m1-30v2m0 26v2m1-46v2m0 42v2m1 2v2m1-2v2m1-6v2m1-46v2m1 0v2m1-2v2m1-2v4m1-6v6m1-2v2m0 6v2m1-10v2m1-6v4m3-2v2m2 2v2m1-2v2m0 4v2m1-10v2m2-4v2m1-2v2m3-2v2m2-2v2m0 6v2m1-8v2m1-2v2m0 6v2m1-12v2m0 8v2m4-12v2m0 8v2m1-12v2m0 8v2m1-12v2m0 10v2m1-12v2m1-24v2m0 24v4m1-28v2m0 22v4m1-4v2m1-22v2m0 6v2m1-2v2m0 2v2m0 2v4m1-20v2m0 6v2m0 10v2m1-22v2m0 8v2m1 12v4m1-16v2m1 0v2m0 10v2m1-12v4m1-4v10m1-6v2m1-6v10m1-30v6m0 16v4m1-28v6m0 2v2m1-12v2m0 4v4m1 2v2m1-4v2m1-8v10m1-6v4m1-8v6m1-4v4m1 0v2m10-2v2m0 2v2m1-2v6m1-12v12m1-10v6m0 4v12m1-20v4m0 6v6m1-22v2m0 22v2m1-26v2m0 22v2m1-24v2m0 20v2m4 0v2m1-22v2m1-2v2m2-2v2m0 22v2m3-28v2m0 6v2m1 16v2m1-32v2m0 18v2m1-20v2m0 12v2m0 14v2m1-30v2m0 2v4m0 20v2m1-22v2m1-2v2m1 2v4m1 0v2m2 0v4m0 4v2m1-30v4m0 16v4m1-30v2m0 6v12m0 6v2m1-30v2m0 2v2m0 16v2m0 6v2m1-24v4m0 2v4m0 12v6m0 2v2m1-26v4m0 14v6m1-22v4m0 16v2m4-38v2m0 36v2m1-40v4m0 2v2m1 0v2m1-12v6m0 4v2m0 26v2m1-38v2m0 2v6m1-10v2m0 6v12m1-20v2m0 6v2m0 10v2m1-20v4m0 10v4m1-16v2m0 4v2m0 2v2m0 2v2m1-16v8m0 6v2m1-16v12m1-14v4m0 2v2m1-4v4m0 4v2m2 0v2m0 20v2m1-24v4m0 18v2m1-22v4m1-4v6m1 14v2m1-14v6m1-2v2m1 0v8m2-18v4m0 2v2m1-4v6m1-6v2m0 2v4m1-6v2m0 4v2m1-22v4m0 4v4m0 2v6m1-20v2m0 12v4m1-30v2m0 6v4m1-16v4m0 32v2m1 0v2m3-42v2m4 38v2m1-46v4m1 0v2m1 0v2m1-10v6m0 2v2m0 36v2m1-42v2m2-8v2m0 44v2m1-2v2m2 0v2m1-48v2m0 46v2m5-2v2m2 0v4m2 2v2m3-56v2m1 54v2m2 2v2m1-54v2m0 52v2m2-54v2m1 54v2m3-56v2m1-2v2m0 58v2m2-64v2m1 64v2m1-68v2m5-18v2m0 12v2m0 36v6m0 2v2m1-62v2m0 2v4m0 4v2m0 36v2m0 4v2m0 24v2m1-70v4m0 30v2m1-2v2m0 12v4m1-18v2m0 16v2m0 14v2m1-70v6m1-2v4m0 48v2m1-52v2m0 60v2m2-66v2m1-4v4m0 26v2m1-32v6m1-18v4m0 2v2m0 2v2m1-8v6m1-6v4m1-2v2m1 34v2m1-36v2m0 34v2m1-38v2m0 36v2m1-2v2m1-40v2m0 36v2m4 2v2m1-4v2m1-38v2m1-2v2m2-4v2m0 34v2m1-40v2m0 36v2m1-42v4m1 0v2m1 0v2m0 32v2m1-36v2m0 34v2m1-54v8m0 8v4m0 62v2m1-74v2m0 4v4m0 34v2m0 24v2m1-68v2m0 38v2m1-52v2m0 50v2m1-52v2m1 2v2m0 40v6m1-50v2m0 42v4m1-46v2m0 40v4m1-46v4m0 40v4m1-42v2m0 32v6m1 0v2m2-40v2m0 34v2m1-2v2m2-36v2m1-2v2m2-4v2m0 42v2m1-44v2m0 32v2m0 8v4m0 2v2m2-54v4m1-6v2m0 2v4m0 38v2m0 10v2m1-60v4m0 42v2m1-44v2m0 32v4m1-38v2m0 32v10m0 12v2m1-60v4m0 32v2m0 12v2m1-56v4m0 4v2m0 24v2m0 8v2m0 8v2m0 8v2m1-32v2m0 12v14m1-52v2m0 22v2m0 18v4m0 2v6m1-56v4m0 44v4m0 4v2m1-56v2m0 44v6m1-52v2m0 48v2m1-50v2m0 16v2m1-18v2m1 0v2m0 14v2m1-20v4m1-4v2m1-6v4m2 20v2m1-40v6m0 4v2m0 22v4m1-34v2m1 30v2m3-30v2m1-2v2m0 26v2m1-2v2m0 22v6m1-28v2m0 20v2m0 4v2m1-28v2m3 30v2m1-12v2m0 10v4m1-16v2m0 10v6m0 4v2m1-46v2m0 38v2m1-42v2m0 36v8m1-76v2m0 28v2m0 40v2m1-42v2m1 16v2m0 18v2m1-46v10m0 14v2m1-28v2m0 24v2m0 16v2m1-72v2m0 20v4m1-6v2m0 2v4m2-10v2m1-18v2m0 2v2m0 44v2m0 10v2m1-14v2m0 10v2m1-6v2m1-2v2m1-44v2m0 34v2m1-4v8m1-8v4m1-4v2m0 2v4m2-8v2m0 8v2m1-10v2m0 6v2m1-8v6m1-4v2m59-72v4m1-2v6m2-2v4m1-6v10m1-2v2m0 2v2m1-8v8m1-10v8m0 2v2m1-4v2m1 0v2m5 8v2m1-10v12m0 4v2m1-14v6m0 2v2m0 4v2m1-16v4m0 4v2m0 4v2m1-14v4m0 6v2m1-14v6m0 6v2m1-20v6m0 12v4m1-22v2m0 16v2m1-18v4m0 12v4m1-20v2m0 18v2m1-2v2m3-24v2m0 18v2m1-22v2m3 0v2m1-2v4m0 14v2m1-22v6m0 14v2m1-22v2m1 12v2m0 2v2m1-24v2m0 14v2m0 2v2m1-24v4m0 16v4m1-2v2m1-22v2m1 0v8m0 12v2m1-20v6m0 12v4m1-20v4m0 12v2m1-18v2m0 8v6m1-8v2m0 4v4m1-18v2m0 6v2m1-16v8m0 4v4m1-16v2m0 2v4m0 2v8m1-20v2m0 4v4m0 8v2m1-14v2m0 12v4m1-24v2m0 16v4m1-24v2m0 18v4m1-22v2m0 16v4m1-22v4m1-6v2m0 22v2m1 0v2m1-26v2m1 0v4m2-12v2m0 12v2m0 14v2m1-28v4m0 2v8m0 12v2m1-28v2m0 10v8m1-22v4m0 26v2m1-32v4m1-4v4m0 16v2m1-22v4m0 18v2m1-24v4m0 20v2m1 0v2m2-2v2m1-10v4m1-24v2m0 18v8m1-8v2m1-2v2m1-22v4m1-4v4m0 18v2m1-2v4m1-2v2m1-26v6m0 14v6m1-24v2m0 18v6m1-28v2m0 20v6m1-28v2m0 18v4m1-24v2m0 18v2m1-2v2m1 0v2m1-2v2m1-2v2m1 0v2m1 0v2m1-2v4m1-32v2m0 28v2m1-32v2m0 28v2m1-32v2m1-2v2m1 22v2m1-2v2m3-4v2m1-28v4m2-4v4m1-4v6m2-8v8m1-2v2m2 0v2m2 0v2m1-2v2m0 14v2m1-18v2m0 12v2m1-4v2m1-14v2m3-4v2m0 14v2m3-16v2m1-2v2m1-4v2m1-4v4m1-4v4m3 10v2m3-2v2m4-2v2m2-16v2m1-2v2m1-2v4m1-4v2m2 12v2m3-18v2m0 16v2m3-2v2m1-18v2m1-2v2m4-2v2m0 16v2m1-18v2m0 14v2m2-22v6m1-6v6m1-8v4m0 2v2m1-8v4m0 2v2m1-8v8m1-6v4m1 0v2m0 16v2m1-22v2m1-4v2m0 22v2m1-24v2m3 2v2m2 22v2m2-26v2m0 22v2m2-28v4m1-4v4m1-2v2m0 26v2m1-28v2m2 0v2m1-12v6m0 4v2m0 20v4m1-36v4m0 2v2m0 26v2m1-34v2m0 30v2m1-34v4m1 0v2m0 26v2m1-28v2m0 26v2m1-4v4m1-36v4m0 28v2m1-36v2m2-2v2m1 36v2m2 0v2m2-48v6m1-8v2m0 2v2m1 0v2m1 2v2m0 36v2m2-34v2m0 32v2m1-34v2m0 30v2m1-34v2m2-2v2m1 0v2m1-2v2m1-2v2m0 26v2m1-28v2m1 0v2m0 22v2m1-26v2m0 22v2m1-26v2m1-2v2m0 22v4m1-40v6m0 28v2m1-34v6m0 6v2m0 18v2m1-32v4m0 2v4m0 22v2m1-30v2m0 26v4m1-34v2m0 28v2m1-34v8m0 24v2m1-30v4m0 24v2m1-30v2m0 26v2m1-34v8m1-12v2m0 4v8m1-16v4m0 6v2m0 2v2m1-14v10m0 26v2m1-32v2m1-2v4m1-4v6m2 0v2m1-2v2m1-22v2m1 0v4m0 2v2m1 12v2m1-24v2m0 2v2m0 4v4m0 6v2m0 22v2m1-46v4m0 2v2m0 2v2m0 10v2m1-24v8m0 2v6m0 2v4m1-22v14m1-14v2m0 6v8m1-18v4m0 6v4m0 2v6m1-8v2m0 4v2m1 0v2m1 0v4m1-8v8m1-10v10m1-20v6m0 4v10m0 24v2m1-28v2m0 26v2m1-30v2m1-8v8m1-12v4m0 34v2m1-42v2m1-2v2m1-4v8m0 36v2m1-44v6m1 36v2m1-46v4m1-4v6m0 40v2m2 0v2m2-52v2m5-2v2m4 52v2m2-56v4m1-6v2m2-4v2m1 54v2m3 0v2m2-2v2m3-2v2m2-60v4m1-4v4m1-6v2m1-2v4m1-6v4m0 58v2m3-66v6m1-4v2m1 4v2m1-4v8m1-16v8m0 2v6m0 58v2m1-78v2m0 4v2m0 8v2m0 58v2m1-54v2m1-22v2m3 78v2m1-2v2m3 0v2m1-82v2m0 76v2m1-2v2m1-88v2m1 82v2m3-2v2m2 0v4m4 2v2m2-2v2m5-2v2m1-102v2m0 98v2m3 0v2m3-106v2m0 84v2m0 4v2m1-6v2m4 22v2m1-124v2m0 92v2m0 24v2m1-28v2m0 30v2m1-4v4m2 0v2m1-36v2m4 6v2m1 0v2m1-114v2m2 2v2m0 4v2m0 2v2m0 100v2m0 2v2m1-6v4m1 6v2m2 0v2m2 2v2m1 0v2m1-2v2m1-2v2m1-2v2m2 6v2m1-2v2m1 0v4m1-6v6m1-130v2m0 126v2m1 0v2m1-2v2m2 0v2m4-128v2m2 90v4m1-102v2m0 102v2m1-24v2m0 12v2m0 14v2m1 26v2m2-68v2m1-68v2m1 86v2m1 44v2m1-134v2m1 86v2m0 20v2m3 2v2m0 4v4m1-28v4m4 2v2m2-16v4m0 12v2m1-118v2m0 14v2m0 82v2m1 2v4m1-2v2m0 8v2m1-14v2m2-104v2"/>
<path stroke="#2fffd0" d="M105.5 374v2m0 2v2m0 20v4m0 12v4m1-48v2m0 4v4m0 18v4m0 14v4m1-66v8m0 8v2m0 28v2m1-48v2m0 2v2m0 2v4m0 2v4m0 10v2m0 18v2m1-42v6m0 14v2m1-28v8m0 18v4m1-24v2m0 40v2m1-42v2m0 16v2m1-18v2m0 30v2m0 18v2m1-52v2m0 28v2m0 18v2m1-18v2m1-16v2m1-20v2m0 24v2m1-28v2m0 22v2m1-26v2m0 10v2m1-14v2m0 24v2m1-30v2m0 8v2m0 18v2m1-32v2m0 28v2m1 0v2m0 12v2m1-48v2m0 32v2m1-36v2m0 10v2m0 24v2m0 6v2m1-48v2m0 10v2m0 30v4m1-48v2m0 10v2m2-2v2m1-18v2m0 12v2m1-20v4m0 14v2m1-20v8m1-8v6m0 14v2m1-24v2m0 2v4m1-6v4m0 20v2m1-24v2m1 0v2m0 18v2m5-20v2m0 16v2m2-24v6m0 14v2m0 24v2m1-48v2m1-2v4m2-2v2m0 42v4m1-34v2m0 28v4m1-2v2m2-34v2m0 28v2m1-42v2m1 6v2m1-2v2m1-8v2m1-2v2m2-6v2m1-2v2m1 0v2m0 4v2m1-6v2m3-2v2m1-4v2m0 6v2m3-4v2m1-4v2m2-8v2m1 0v2m3-2v2m1 2v4m1-2v2m1-10v2m1 0v2m1-2v4m1-4v2m0 2v2m0 2v2m1-8v6m6-14v6m0 2v2m0 2v2m1-12v2m0 6v4m1-10v2m1-2v2m0 10v2m1-12v4m1 0v6m4-10v2m1-18v2m1-6v2m0 4v2m1-10v10m1-8v6m0 2v2m2-10v4m16-2v2m0 8v4m1-10v2m0 4v6m0 6v4m1-22v2m0 6v2m0 2v8m1-8v2m0 2v4m1-2v2m1-20v2m2 0v2m1-2v2m3 0v2m0 18v2m1-22v4m1-6v6m0 2v2m0 14v2m1-20v2m1-6v4m0 2v2m1-14v2m0 8v8m1-18v2m0 8v8m0 2v2m1-18v10m0 2v6m1-12v6m1-4v2m0 14v2m1-18v2m0 2v2m1 0v2m2 0v4m1 0v4m1-4v6m1-8v6m0 2v2m1-38v2m0 10v4m0 2v2m0 10v8m1-40v2m0 4v2m0 20v2m0 6v2m1-26v2m0 4v2m1-20v2m0 12v2m0 4v2m1-4v2m0 18v2m1-2v2m1-2v2m1-38v2m1 0v2m0 2v2m1 0v2m1-2v2m0 4v6m1-20v2m0 6v10m0 16v2m1-36v6m0 12v2m0 14v2m1-34v2m0 16v2m1-16v2m0 10v2m1-14v2m0 2v2m0 2v2m0 2v6m1-14v6m0 2v6m0 10v2m1-36v2m1 2v2m1 8v2m1-2v4m1-2v2m1 0v4m1-2v2m1 0v2m1 10v2m1-6v2m0 2v4m1-8v2m0 4v2m3-14v2m2 0v2m1 0v4m1-16v4m1-6v2m0 8v2m1-14v2m0 14v2m1-30v8m0 22v2m1 0v2m1-2v2m1-2v2m1-2v2m2-2v2m1-2v2m1-42v2m1 0v2m3 2v2m1-12v4m0 4v4m1-12v2m2 6v2m1 36v2m1-46v2m2 44v2m2-54v4m0 46v2m1 0v2m2-54v2m0 52v2m1-54v2m2 0v2m1 0v2m0 54v2m1-58v2m0 48v2m3-46v2m0 52v2m1-54v2m2 54v2m3 4v2m1-58v2m0 54v2m1 0v2m2-60v2m0 58v2m1 0v2m1-66v2m1 66v2m1-70v2m1-4v2m0 68v2m1-72v2m0 66v2m1-34v4m0 28v2m1-34v2m0 30v2m1-82v2m0 10v2m0 32v2m0 12v2m1-2v2m1-46v2m0 46v2m1-50v2m0 48v2m1-50v4m0 24v2m0 18v2m1-48v2m1-2v2m1-4v2m0 50v2m1-2v2m0 2v2m1-58v2m0 54v2m1-56v2m1-8v2m0 54v4m1-62v2m1-4v2m1-2v2m0 30v2m1-34v2m0 30v2m1-32v2m0 30v2m1-34v2m1-4v4m2-2v2m0 34v2m2 0v2m1-38v2m1-2v2m1 32v2m6-36v2m0 30v2m2-32v2m2-20v2m0 4v4m0 10v2m1-20v2m0 8v2m0 2v4m1-8v2m0 40v2m1-34v2m0 26v6m0 2v2m1-38v2m0 34v2m1-50v4m1-2v2m1 0v2m0 34v4m2-36v2m0 30v6m1-2v2m1-4v2m1-32v2m0 28v2m2 2v2m1 0v2m1-40v2m0 38v2m1-42v2m0 32v6m1-38v2m0 32v4m0 12v2m1-52v2m0 30v10m0 8v2m1-52v2m0 34v2m0 2v2m1-46v2m0 40v2m0 2v4m1-48v4m0 36v2m0 2v2m0 8v2m1-24v2m0 4v4m1-10v2m0 10v4m1-46v2m0 26v4m0 22v2m1-54v2m0 18v4m0 22v2m0 4v2m1-54v2m0 50v4m1-54v2m1 20v2m1-2v2m1-22v2m0 16v4m1-10v2m0 2v2m1-14v2m0 10v4m1-14v4m1-4v6m1-8v4m1-6v4m0 14v2m1-24v4m0 16v4m1-4v4m2-32v2m1-2v2m1 0v2m1-2v2m0 24v2m4-26v2m0 24v2m0 24v2m1-26v2m0 20v2m0 4v2m1 2v2m1-2v2m1-64v2m0 52v2m1-56v2m0 62v2m1-2v2m1-12v2m0 12v4m1-4v2m1-16v2m0 14v4m1-2v2m1-72v2m0 32v2m3 14v2m0 12v2m1-68v2m0 48v2m0 4v6m0 2v2m1-48v2m0 44v2m1-64v2m0 56v4m1-10v2m1-48v2m0 44v2m1-4v8m1-6v6m1-44v2m0 34v2m0 2v4m3-6v2m1-4v2m0 6v2m1-8v2m62-64v2m2-2v4m1-4v2m2 0v6m0 2v2m1-10v4m1 6v2m1 0v2m3 6v2m1-2v2m0 4v2m1-8v2m0 6v2m1-6v2m0 2v2m1-4v4m1-2v4m1-4v4m1-8v6m1-6v6m1-12v6m0 4v2m1-16v4m0 8v4m1-12v2m0 8v2m1-14v2m0 12v4m1-20v2m1-2v2m0 16v2m1-20v2m0 16v2m2-20v2m1 14v2m1-20v4m2 2v2m1-2v4m1-8v4m1-8v2m0 12v2m0 2v2m1-20v2m1-2v2m0 12v2m1-18v6m0 12v2m1-18v8m0 10v2m1-2v2m1-2v2m1-12v2m0 6v4m1-14v4m0 2v2m1-10v4m1-2v2m0 2v2m1-6v4m1-4v2m1 0v6m1-10v12m1-12v10m1-18v2m0 14v2m1-20v2m0 2v2m1-6v2m0 18v2m1-18v2m0 16v2m1-22v2m0 20v2m1-22v2m1 14v6m1-18v2m0 12v6m1-6v4m1-12v2m1-14v4m0 2v4m0 8v2m0 6v2m1-18v4m0 10v2m1-26v2m1 12v2m3-22v2m0 24v2m1 0v2m1-12v10m1-28v2m0 16v2m0 4v4m1-10v2m3 0v4m1-4v2m1-22v4m0 16v2m1-22v4m0 16v4m1-6v2m1 0v2m1-2v2m1-20v2m1-2v2m0 14v2m1-2v2m1 0v2m1-2v2m1-2v2m1 0v2m1-26v2m0 24v2m1-28v2m1 26v2m1-4v4m1-28v2m0 20v2m1-2v2m1-26v2m3-2v2m1-2v2m1-2v2m1-6v4m1 0v2m1 0v2m1-10v10m1-2v2m1-2v2m1-2v2m2 0v2m3 10v2m1-12v2m1 8v2m1-14v2m0 10v2m1-14v2m2 12v2m1-16v2m1 0v2m0 8v2m1-12v2m0 8v2m1-14v2m0 10v2m5-18v2m2-2v2m6-2v2m0 12v2m1-2v2m1-14v2m0 10v2m2-14v2m0 12v2m3-4v2m1-18v2m4 0v2m3-4v4m1-2v2m1-2v2m1 0v2m4 0v2m1-2v2m0 14v2m1-18v2m1-2v2m1-4v2m2-2v2m1-4v2m1 20v2m1-22v2m0 18v2m3-20v2m0 20v2m1-24v2m1-2v2m0 22v2m2-24v2m1-2v2m0 22v2m2-26v2m2 0v2m1 22v2m1-6v2m1-28v2m0 2v4m0 20v2m1-30v2m0 26v2m1-2v4m1-28v2m0 22v2m1-2v4m1-30v2m0 24v2m2-32v4m0 30v2m1-36v2m0 32v2m2-38v2m1 36v2m4-46v2m0 2v2m1 0v2m2 4v2m4 2v2m1 0v2m1 0v2m0 24v2m1-28v2m0 24v2m1-28v2m1 24v2m2-24v2m1-2v2m0 20v2m1-24v2m0 18v2m1-22v2m0 16v2m1-18v2m1-4v4m0 16v2m1-26v2m0 20v4m1-28v4m0 22v2m0 2v2m1-28v2m0 20v2m1-2v2m1-26v4m1-2v2m0 22v2m1-36v4m0 8v2m0 20v2m1-36v6m0 2v2m0 2v2m1-6v4m1-6v2m1 0v2m0 22v2m2-24v2m2 0v2m1-2v2m1-24v2m0 22v2m0 16v2m1-44v2m0 2v6m0 14v2m0 16v2m1-42v2m0 2v4m0 12v4m1-2v2m0 20v2m1-26v2m0 22v2m1-34v4m1-2v2m0 30v2m1-38v2m0 6v2m0 26v2m1-30v2m0 26v2m1-28v2m1 2v2m1-2v2m1-2v2m1-2v2m1-2v2m1-2v2m1-2v2m1-10v10m1-14v2m0 2v2m0 4v6m1-16v2m1 2v2m1-12v4m0 6v6m1-14v10m1-6v6m1-4v2m1-8v6m0 4v2m2-14v2m1 2v2m0 44v2m1-2v2m1 0v2m3-2v2m3 0v2m2-54v2m1 0v2m1-6v4m2 48v2m1-60v2m1 58v2m1-62v2m1-2v4m1 56v2m3-2v2m1-60v4m1-4v4m0 54v2m1-56v2m0 52v2m1-56v2m1-6v6m0 52v2m1-58v6m0 50v2m1-60v10m1 48v2m2 2v2m1-66v2m1 4v2m2-6v2m0 6v2m1-18v4m0 2v2m0 4v2m0 2v4m1-20v8m0 12v2m0 2v2m1-22v2m0 2v4m0 64v2m1-74v2m0 72v2m1-74v2m1-2v4m2 52v4m1-2v2m1 16v2m3-4v2m2-12v2m1-2v4m1-80v2m1 84v2m1-4v4m5 6v2m8-2v2m2-104v2m1 102v2m1-2v2m1 0v2m1-110v2m0 86v2m1-2v2m1 10v2m0 10v2m1-10v2m0 8v2m1-122v2m0 90v2m0 18v2m1 6v4m5-130v2m1 96v2m2 0v2m1 2v2m2 2v2m2-108v4m0 104v2m1-100v2m4 110v2m1 0v2m6 6v4m4 2v2m1-124v2m0 122v2m1-124v2m1 122v2m3 0v2m2 0v2m1-132v2m0 92v2m0 36v2m2 0v2m1-56v8m3-86v2m0 132v2m2-64v2m1-2v2m0 8v2m0 28v2m1-108v2m0 66v2m2 20v2m0 18v2m1-20v2m0 34v2m1-38v2m0 20v2m0 6v8m3-32v2m1-22v6m2 0v4m0 10v4m1-18v2m0 14v2m1-10v2m1-6v2m0 6v2m1-112v2m2 0v2m1-6v2"/>
<path stroke="#40ffbf" d="M105.5 376v2m0 36v2m1-42v4m0 26v2m0 10v2m1-44v8m0 22v2m1-48v2m0 2v2m0 10v2m0 6v2m1-28v8m0 8v4m0 4v4m0 22v2m1-42v4m0 10v4m0 22v2m0 12v2m1-56v2m0 12v2m1 0v2m0 22v2m1-38v2m0 12v2m0 16v4m1-4v2m1 14v2m1-48v2m0 14v2m0 16v2m0 10v2m1-36v2m0 20v2m1-24v2m0 12v4m0 2v6m0 8v2m1-46v4m0 4v2m0 14v4m0 8v2m1-38v2m0 4v2m1 34v2m1-38v2m0 20v2m0 12v2m1-38v2m0 22v2m1-26v2m0 24v2m0 8v2m1-46v2m0 6v2m1-10v2m0 6v2m1-10v2m0 6v2m1-10v2m0 6v2m1-12v4m0 6v2m1-14v2m1-4v4m1 10v2m1-14v2m1-8v2m0 4v2m0 14v2m1-20v2m1-2v2m0 18v2m1-20v2m1 16v2m1-2v2m1-20v2m1-2v2m0 14v2m2-16v2m2-6v4m2 10v2m1-2v2m2-16v2m0 12v2m1-14v2m0 10v2m1-12v2m1 6v2m2-8v2m3-4v2m1-2v2m1-2v2m0 4v2m1-6v2m1 2v2m4-6v2m1 2v2m1-2v2m2-8v2m1 2v2m3-4v2m0 2v2m1-6v2m1-2v2m1-6v6m1-6v2m0 4v2m1-6v2m0 4v2m2-4v4m1-6v2m0 2v2m7-8v2m1-4v2m1 0v2m0 2v4m1-8v2m0 6v2m1-4v4m7-32v2m20 4v2m1-4v2m1 0v2m0 2v6m0 2v2m1-14v4m0 6v4m0 2v2m1-16v4m0 8v6m1-16v2m0 14v4m1-20v8m0 8v4m1-18v12m0 4v2m1-14v6m1 8v2m1-20v2m1 0v2m2 0v2m0 2v2m1-12v6m0 2v4m1-12v2m0 8v2m0 10v2m1-26v8m0 8v2m1-18v8m0 12v2m0 4v2m1-28v2m1 12v6m0 2v2m1-12v4m1-4v2m1 10v2m1-8v2m0 4v2m4 0v2m1-20v2m1-18v4m0 12v6m0 2v2m1-28v2m0 8v2m0 8v2m0 6v4m1-22v4m0 18v4m1-36v2m0 8v8m0 2v4m0 12v2m1-32v8m1-14v4m0 2v4m0 2v2m1-10v6m1 0v4m1-2v2m0 2v6m0 14v2m1-26v4m1 4v2m1 0v4m1-24v2m0 2v2m0 16v4m0 8v2m1-32v2m0 14v4m0 10v2m1-32v2m0 28v2m1-12v2m1-12v8m1-8v2m0 14v6m1-6v6m1-18v2m0 14v2m1-18v4m0 12v2m1-14v2m0 10v2m1-14v6m0 2v2m0 2v2m1-6v6m1-12v2m0 4v4m1-2v2m1-2v4m8-20v8m1-10v2m0 10v2m1-20v4m1-2v2m2-16v2m1-2v2m0 32v2m1-38v2m0 36v2m2-42v2m2 40v2m1-40v2m0 36v2m1-38v2m0 34v2m1-36v2m1-10v2m0 6v2m0 30v2m1-44v6m0 2v2m0 32v2m1-44v8m0 34v2m1-40v2m0 2v2m1-10v2m1 42v2m1 0v2m1-48v2m1-2v2m0 42v2m2-2v2m1-52v2m0 48v4m1-2v2m1 0v2m2 4v2m1-6v4m1-2v2m0 2v2m1-54v2m0 50v2m1-52v2m0 48v2m1 0v2m2 2v2m1-52v2m1 50v2m1 0v2m1-54v2m3 56v2m3 2v2m5-34v2m0 4v6m1-12v2m1-34v2m1 0v2m0 44v2m0 14v2m1-14v2m1-50v2m3 50v2m0 4v4m1-6v2m1-58v2m0 24v2m1-26v4m0 46v2m1-50v2m0 46v2m1-56v8m1-10v2m0 28v2m1-34v2m0 30v2m1-34v2m1-2v2m0 26v2m2-28v2m0 30v2m1-2v2m1-36v2m0 2v2m0 28v2m1-2v2m1 0v2m1-36v2m5-2v2m2-4v2m1-2v2m0 32v2m2-32v2m1 0v2m1-2v2m0 30v2m1-50v2m1 2v4m0 8v2m0 30v2m1-48v6m0 2v4m0 2v6m0 24v4m1-46v6m0 6v2m0 2v2m0 22v2m0 6v2m1-46v2m0 6v2m0 28v2m1-38v4m0 30v4m1-38v4m0 28v2m0 2v2m1-36v2m0 28v4m1-32v2m0 26v4m1-2v2m1 0v4m1-34v2m0 28v2m2-30v2m0 30v2m3 2v2m1-8v2m0 6v2m1-10v2m0 6v4m1 0v2m1-42v2m0 34v2m0 2v2m0 6v2m1-50v2m0 32v2m1-4v4m0 6v2m1-46v2m0 38v4m1-44v2m0 20v4m0 2v2m0 16v2m0 2v4m1-52v2m0 18v6m0 20v2m1-46v2m0 44v4m1-50v2m0 16v4m1-20v2m0 14v4m1-20v4m0 14v2m1-20v4m1 6v8m1-16v2m0 4v4m0 2v2m1-8v8m1-6v2m0 4v4m1-8v2m0 4v2m1-12v4m0 6v2m1-14v6m0 6v2m1-18v4m0 8v4m1-22v2m0 18v2m1-2v2m1-26v2m0 24v2m2-2v2m2-2v2m3 28v2m1-56v2m0 24v2m1 0v2m0 28v2m1-32v2m0 22v2m1-26v2m0 30v2m1-34v2m1-2v2m1-30v2m0 62v2m1-66v2m1 64v2m1-66v2m0 26v2m0 20v2m1-22v2m0 34v2m1-70v2m0 22v2m0 42v2m1-70v2m0 18v4m0 42v2m1-50v2m0 32v6m0 4v2m1-48v2m0 32v4m0 6v2m1-62v2m0 48v2m0 2v8m1-60v2m0 46v2m0 2v4m1-52v2m0 46v2m1-42v2m0 38v4m0 2v2m1-54v4m0 2v2m1-4v2m0 36v2m5 0v6m1-4v2m1-2v2m63-68v2m9 24v4m1-4v2m1-2v2m1 2v2m6-4v4m1-10v4m0 2v2m1 0v2m1-10v2m0 8v2m1 0v4m1-4v2m2-18v2m1 0v2m0 12v2m1-20v6m1-2v4m0 8v4m1-16v2m0 12v2m1-12v2m1 0v2m0 4v4m1-14v14m1-20v2m0 8v2m1-2v2m1-12v2m1 0v4m1 0v2m0 6v2m1-10v10m1-10v2m0 6v2m1-6v4m1-6v2m1-4v4m1-4v2m3-4v2m2-10v6m1 6v2m1-12v2m0 8v4m1-14v2m1-6v2m0 2v4m0 10v2m1-18v2m0 2v2m0 12v2m1-18v4m0 8v4m0 2v4m1-20v4m0 4v4m0 6v2m1-18v2m0 8v2m1-10v2m0 6v2m1-6v4m0 2v4m1-20v2m0 14v6m1-26v4m0 2v2m1 4v2m1-14v2m1-2v2m0 14v2m1-18v2m0 16v2m1-24v4m1-6v2m0 24v2m1-28v2m1 14v2m2 0v2m1-18v2m0 14v2m1-16v2m1-2v2m1-2v2m0 12v2m1-16v2m0 12v2m1-14v2m1-4v2m0 12v2m1-18v2m1 14v2m2-22v2m1-2v2m0 18v2m1-22v2m1-2v2m1-2v2m1 0v2m1-2v2m0 22v2m1-26v2m1-2v2m1 0v2m1-4v2m2-4v2m1-2v2m1 0v2m0 18v2m1-22v2m2-4v2m1 0v2m0 16v2m4-18v2m1-2v2m1-2v2m2 0v2m1-2v2m0 10v2m1-14v2m1 0v2m0 4v2m1-10v2m2 8v2m1-14v2m0 10v2m1-14v2m1 0v2m0 8v2m3-12v2m1-4v2m0 8v2m1-12v2m0 8v2m1-16v4m0 10v2m1-16v2m0 12v2m2-16v2m0 10v2m2-14v2m1-2v2m1-2v2m0 10v2m1-14v2m1-2v2m4 12v2m2-18v6m0 10v2m1-18v4m1-4v2m1 0v2m1-2v2m2-2v2m1 0v2m1 12v2m1-16v2m0 12v2m1-16v2m0 12v2m1-16v2m1-2v2m1 0v2m1-2v2m1-2v2m1-2v2m1 0v2m1-2v2m3-4v2m1-2v2m1-2v2m0 14v2m1-20v4m1-4v4m2-2v2m0 18v2m3 0v2m2-22v2m2 0v2m1-4v2m1 22v2m1-24v2m1 0v2m1-2v2m0 18v2m1-22v2m1-2v2m0 16v2m1-26v2m0 2v4m0 16v2m1-26v4m0 20v2m1-2v2m1-22v2m0 18v2m1-24v2m1-4v2m0 24v2m1 0v2m1-32v2m1-4v4m0 30v2m2-38v2m0 34v2m1-38v4m0 32v4m1-40v6m0 32v2m1-40v6m1-6v2m0 36v2m1-38v2m0 34v2m1-36v2m1 2v2m0 30v2m1-32v2m1 0v2m1-2v2m0 26v2m1-30v4m0 24v2m1-28v2m0 24v2m2-26v4m1-4v2m1-2v2m1 0v2m1 18v2m1-2v2m2-20v2m1 0v2m0 12v2m1-16v2m0 12v2m1-22v2m0 6v6m0 2v4m1-20v2m0 18v2m2-22v2m1 20v2m1-22v2m1 0v2m1-2v2m2-8v4m1-2v2m1-2v2m0 20v2m1-22v2m1-2v2m2 0v2m0 16v2m2-42v2m0 22v2m2 16v2m1-22v2m1-8v6m0 22v2m1-30v4m1 0v2m1-2v2m1 0v2m0 22v2m3-2v2m5-22v2m1-14v2m0 2v4m0 6v4m0 18v2m1-38v4m0 2v8m0 22v2m1-34v4m2-4v4m1-4v2m1-4v6m1-8v4m0 2v2m0 32v2m1-48v4m0 8v2m1-12v2m0 44v2m1-50v2m0 2v2m1-6v6m2 44v2m1-52v2m0 48v2m2-2v2m1 0v2m3-56v2m0 2v2m0 46v2m1-48v2m0 44v2m1-50v2m0 46v2m3-58v4m1-6v2m1 0v6m1-4v6m1-8v2m0 2v2m1-2v8m2-12v2m2 2v4m1-2v2m1-2v2m1-2v4m1-2v2m2-10v2m1 56v2m2 2v2m1-58v2m0 54v2m1-56v2m0 54v2m2-66v4m0 8v8m1-20v8m0 2v2m0 6v4m1-24v2m0 4v2m0 4v6m1-18v4m1-2v2m0 68v2m1-70v2m2 54v2m1-6v2m0 2v2m4 6v2m1-8v12m1-12v2m0 2v2m0 4v2m2-10v4m1 2v4m1-4v2m1 2v2m0 2v2m1-2v2m1-2v2m1 0v2m3 0v2m1-2v2m1-2v2m1-2v2m3-104v2m1-2v2m0 100v2m3-18v6m2 14v2m2-24v2m0 22v2m1-26v2m0 24v2m3-124v2m0 122v4m2-34v2m1-2v2m2-100v2m1-4v2m0 100v2m2 2v2m1 2v2m2-106v4m2 104v2m0 4v4m2 2v2m6-110v2m0 112v2m1-2v2m3 6v2m1-2v2m1-124v2m1 122v2m4 4v2m1 0v2m2-2v2m1-36v2m2 2v2m0 32v2m1-42v2m1-96v2m0 72v6m0 10v2m2-20v2m0 38v2m0 24v2m2-68v2m0 64v2m1-66v2m0 64v2m1-68v2m1 6v2m0 54v2m1-10v2m0 6v2m1-42v2m0 30v6m0 2v2m1-12v10m2-36v2m0 22v2m1-114v2m1 74v2m2 0v4m0 10v4m1-18v2m0 4v2m1 0v2m1-88v2m0 78v2m0 16v2m1-104v2m0 92v2m0 6v2m1-14v2m1-104v2m1-4v2m0 100v2m1-104v2m0 100v2"/>
<path stroke="#51ffae" d="M105.5 404v2m1 0v2m0 6v2m1 2v4m1-46v6m1-12v2m0 4v4m0 40v2m1-44v2m0 28v2m1-2v2m0 10v2m1-54v2m0 38v2m0 10v2m1-40v2m0 22v8m1-30v2m0 18v4m0 4v8m1-48v2m0 12v2m0 18v2m0 8v2m1-10v2m0 6v2m1-10v2m0 8v2m1-46v4m0 2v4m0 18v2m0 6v2m1-32v2m0 24v4m0 2v6m1-42v4m0 20v2m0 8v2m0 2v4m1-46v2m0 4v2m0 22v2m0 10v2m1-2v2m1-10v2m1-36v2m0 34v2m1 0v4m2-40v6m3-8v8m1-10v6m0 2v2m1-10v2m1-2v2m2-4v2m0 14v2m1-18v2m1 14v2m1-18v2m0 14v2m1-18v2m1 14v2m2-16v2m1 12v2m1-16v2m1 10v2m1-16v2m1-2v2m1-2v2m1-4v2m1 0v2m4 2v2m2 0v2m1-2v2m1-4v2m2-2v2m1 0v2m2-2v4m1-4v2m1-2v4m2-8v2m2-2v2m3-2v2m0 2v2m1-4v4m3-2v2m2-6v4m1-2v4m1-4v2m10-4v4m1-2v2m1-2v6m1-4v2m28-22v2m2 2v6m1-4v8m1-8v14m1-8v8m1-2v4m1-16v4m0 6v2m1-12v2m0 6v4m1-10v2m0 4v2m0 8v2m2-16v4m1 2v2m1-2v2m1-2v2m1 2v4m0 2v2m2-6v8m1-8v2m0 2v4m1-6v4m1-10v4m0 2v2m1-6v2m1 0v2m1 0v4m5-12v2m1-24v8m1-8v2m0 2v4m0 12v4m1-24v2m0 2v4m0 14v2m1-26v6m0 8v4m1-14v2m0 4v2m0 2v4m1-8v4m0 2v2m1-4v4m0 18v2m1-24v2m1 6v2m1-2v4m1 0v2m2-2v2m1-2v2m1 0v4m0 2v2m1-12v14m1-20v2m0 2v10m1-14v2m0 8v4m1-10v2m0 8v4m1-12v2m0 6v2m1-8v4m0 2v2m1-4v2m0 2v2m1-10v6m1-4v4m11-14v4m0 4v2m1-14v4m0 12v2m1-34v14m0 2v4m0 12v4m1-30v2m0 8v4m0 12v4m1-34v4m0 28v2m1-34v2m0 28v2m1 0v2m1-38v2m0 34v2m1-2v2m1-38v4m0 34v2m1-38v2m5-2v2m0 2v4m1-6v2m0 2v6m1-18v4m0 6v2m0 30v2m1-36v2m2-8v2m0 40v2m2-4v2m1-46v2m0 42v2m1-50v2m2 0v2m1 48v2m1-50v2m0 46v8m1-54v2m0 50v2m1-52v4m0 42v2m0 4v2m1-54v2m0 44v2m0 4v2m3-48v2m1 0v2m0 48v2m1-2v2m1 0v2m5-48v2m2 54v2m1-60v2m0 58v2m2 2v2m1 0v2m3-70v2m0 42v2m1-46v2m0 44v2m1-46v2m0 26v2m0 32v2m1-36v2m1-28v2m0 24v2m0 32v2m1-60v2m1 0v2m0 44v2m0 8v2m1-58v4m0 52v2m1-58v4m1-6v2m0 22v2m0 26v2m1-54v4m1 18v2m1-20v2m0 16v2m0 28v2m1-50v2m0 16v2m2-30v2m1 24v2m2-28v2m0 24v4m1-28v2m1-4v4m0 26v2m1-32v2m0 2v2m0 24v2m1-32v6m1-6v2m0 30v2m2 2v2m1-4v2m2-4v2m1-2v2m1-34v2m0 30v2m1-2v2m1-34v2m1 0v2m2 30v2m2-50v2m0 18v2m0 28v2m1-50v4m0 14v4m1-8v2m0 28v2m1-36v2m0 2v2m0 26v2m1-34v2m0 8v2m0 22v2m1-32v6m0 18v2m0 2v2m1-6v4m0 2v2m1-32v2m0 22v2m1-24v2m2 26v2m1-2v2m1 0v2m1 0v2m1-32v2m0 30v2m2-4v6m1-36v2m1 0v2m1-2v2m0 26v2m0 12v6m1-46v2m0 26v4m0 8v2m1-42v4m0 38v2m0 2v2m1-50v6m0 22v4m0 12v4m1-22v2m0 14v10m1-52v2m0 16v2m0 4v2m0 20v2m1-30v2m0 28v4m1-48v2m0 12v2m1-16v2m1 0v2m1 0v4m1-4v4m0 10v2m1-18v2m0 2v4m1-6v4m1-2v2m1 4v4m1-2v4m1-6v6m1-6v6m1-12v6m1-12v2m0 12v2m1-20v2m0 16v2m1-22v2m6-2v2m0 22v2m1-2v2m1 26v4m1-56v2m0 50v2m0 2v2m1-58v2m2 58v2m1-62v2m0 58v2m1-34v2m0 32v2m1-36v2m0 24v2m1-54v2m1 24v2m0 38v2m1-44v6m0 20v2m1-2v2m1-2v2m1-54v2m0 56v2m1-60v2m1 50v2m1-50v2m0 46v2m1-40v2m0 40v6m1-4v2m1-48v2m1 0v2m6 40v4m1-4v4m74-44v4m8-6v2m1-4v2m0 2v2m1-6v2m0 4v2m1-12v2m0 10v2m2-14v2m0 12v2m1-16v2m0 12v2m1-14v2m1-2v2m0 8v2m2-12v2m0 8v2m1-8v2m0 4v4m1-8v4m2-14v4m0 2v2m1-10v2m0 6v2m1-8v2m0 6v2m1-6v2m0 4v2m1-6v6m2-6v6m1-6v2m9-14v12m1-2v2m1-2v6m1-10v10m1-14v2m0 2v6m0 2v4m1-12v8m0 4v2m1-12v4m1-4v2m1 0v2m0 2v2m1 0v2m2-16v2m0 2v2m1-8v2m0 6v2m2-10v2m1-2v2m1-4v2m0 16v2m1-24v2m0 14v8m1-10v2m2-2v2m1-16v2m0 12v2m2 0v2m1-2v2m2-14v2m1 8v2m1-12v2m0 8v2m1-14v2m0 12v2m1-16v2m1-2v2m1-6v4m0 12v2m2 0v2m1-20v2m1-2v2m0 18v2m2-20v2m4-2v2m1-4v2m0 18v2m1-22v2m1-2v2m2 16v2m1-20v2m0 16v2m1-20v2m0 16v2m1-18v2m1-2v2m0 14v2m1-18v2m0 14v2m1-18v2m2 14v2m1-2v2m1-16v2m0 12v2m1-14v2m0 10v2m2-8v2m2-8v8m1-2v2m1-10v2m1-2v2m1 8v2m2-10v2m1-2v2m1-2v2m3-6v2m1-4v2m1-2v2m0 8v2m2-2v2m4-2v2m3-12v2m2 0v2m1-2v2m1-2v2m1-4v2m1-4v4m1-2v2m0 10v2m1-14v2m0 10v2m1-16v2m0 12v2m1-14v2m0 10v2m2-14v2m1 0v2m1-2v2m1-2v2m0 10v2m1-14v2m0 10v2m1-2v2m1-12v2m0 8v2m1-2v2m1-12v2m0 8v2m1 0v2m1-12v2m1-4v2m0 10v2m1-2v2m1-14v2m0 10v2m1-2v2m4-16v2m2 18v2m1-2v2m2-20v2m0 18v2m1-2v2m1-20v2m0 18v2m2-22v2m0 20v2m1-24v2m1 22v2m1-4v4m1-22v2m0 14v2m1-18v2m0 12v2m2-22v2m1 0v4m0 14v2m1-20v2m0 16v2m2-20v2m0 18v2m1-24v4m1-6v4m1 24v2m2 0v2m1-6v4m1-32v6m1-4v2m0 28v2m1-32v2m0 30v2m1-38v6m0 2v4m1-10v4m1-2v2m0 30v2m3 0v2m1-28v2m2 0v2m1-2v2m2 0v2m1-2v2m2 16v2m1-2v2m1-18v2m0 14v2m1-16v2m0 10v2m1-12v2m1-2v12m1-18v6m0 6v2m1 2v2m1-18v2m0 16v2m1-2v2m1-20v2m3 18v2m1-22v4m1-4v4m0 16v2m1-22v2m1-2v2m3 0v2m0 16v2m1-18v2m1-2v2m2-2v2m0 14v2m1-18v4m1-4v2m1-4v2m1-4v4m1-2v2m1-2v2m1 0v2m1 0v2m0 18v2m1-22v2m0 18v2m1-22v2m1-2v2m1-2v2m0 20v2m3-22v2m2-12v2m0 8v4m1-10v4m0 24v2m1-30v4m0 24v2m1-30v2m1-4v2m1 0v2m1-2v2m1-12v8m0 2v4m0 28v2m1-48v2m0 2v2m0 6v2m2-8v2m1-4v2m0 42v2m1-50v2m5-4v2m1-2v2m0 50v2m1-48v2m1 0v2m1-4v2m1-8v8m0 44v2m1-56v2m2-4v6m0 50v2m1-52v6m0 44v2m1-50v4m1-10v2m0 2v4m1-10v4m0 8v2m1-14v10m1-8v2m1 0v2m1 2v2m1-2v2m1-2v2m1 0v2m1-2v4m1-4v2m1-8v10m1-14v2m0 10v4m1 44v2m1-62v2m3 8v2m0 52v2m2-58v2m0 12v2m0 42v2m1-62v4m0 6v8m1-22v2m0 6v6m0 30v2m2-44v2m0 44v6m0 2v2m0 12v2m1-72v4m0 46v4m0 2v2m1-8v2m0 18v2m1-32v4m0 14v2m0 10v2m1-18v6m0 10v2m1-26v6m0 4v8m1-72v2m0 52v4m0 6v2m0 6v2m0 4v2m1-84v2m0 56v2m0 8v2m0 4v2m0 2v4m2-6v4m1-10v2m0 4v6m1-6v6m1-6v2m2 0v4m0 2v2m1-2v2m1-2v2m3-94v2m7-4v2m2 98v2m3-20v2m0 8v2m1-96v2m0 82v2m0 10v2m1-102v2m0 108v2m1-8v2m2 8v2m3-30v2m6 0v2m1 0v2m3-96v4m3 102v2m0 6v2m2 0v2m3 4v2m1-2v2m3 0v2m1 0v2m3 2v2m2 2v2m1 0v2m7-34v2m0 36v2m1-134v2m1-2v2m0 104v4m1-38v2m0 18v2m0 42v2m1-136v2m0 68v2m3 40v2m0 6v2m1 8v2m0 4v2m1-50v2m0 2v2m0 32v2m0 2v4m0 2v2m1-12v4m1-4v2m0 2v2m1-38v2m0 38v2m1-126v2m1 66v4m2 20v4m1-22v4m0 2v2m1-8v2m0 6v2m0 10v4m1-22v4m0 4v2m1 8v2m1-16v2m0 14v2m1 0v2m1-16v2m0 10v4m2-116v2m0 100v2"/>
<path stroke="#62ff9d" d="M105.5 406v2m0 2v4m1-6v2m1-4v2m0 8v2m1-12v2m0 10v4m1-14v2m1-36v4m1-10v2m0 8v2m0 38v2m1-50v2m0 38v4m1-42v2m0 42v4m1-48v2m0 8v2m0 24v4m1-30v4m0 22v2m0 4v2m1-32v4m0 26v2m1-42v2m0 4v4m0 32v2m1-40v2m0 32v2m0 2v2m1-40v2m0 24v2m1 0v4m0 2v2m1-40v2m0 28v4m0 2v2m1-40v2m0 4v2m0 24v4m1-36v2m0 34v2m0 4v2m1-38v2m0 30v2m0 2v2m1-42v6m0 34v2m1-42v6m2-2v2m1-6v6m1-10v2m1 4v2m1 0v2m1 0v2m1-12v2m0 10v2m1-14v2m1-2v2m0 12v2m3-2v2m1-4v2m1-14v2m0 10v2m1 0v2m3-16v4m1 6v2m2-12v2m1-4v4m1-2v2m1-2v2m1 6v2m1-8v2m2 0v4m1-2v2m1-2v2m1-4v4m1-6v2m0 2v2m1-4v2m2-2v2m4-2v4m1-6v2m2 0v2m2-6v2m4 2v4m1-2v2m4-4v4m48-6v6m1-16v6m0 4v6m1-12v2m0 2v8m1-14v6m0 4v6m1-12v2m0 10v2m2-2v2m1-10v2m1 4v2m1-2v4m3-10v6m1-2v2m0 2v2m1-6v4m1-2v2m7-12v6m1-24v2m0 20v6m1-28v2m0 20v2m0 6v2m1-18v6m0 2v2m0 6v4m1-20v4m1-8v2m0 2v4m0 10v6m1-20v4m0 12v2m1-14v2m1 0v2m0 8v2m3-8v2m1-2v2m1-2v8m1-4v2m2-14v2m1-2v8m1-4v8m1-4v2m0 4v2m1-6v2m0 2v2m14-14v4m1-6v2m1-4v4m0 6v2m1-32v6m0 2v8m0 4v4m0 4v4m1-26v8m0 8v4m0 6v2m1-30v2m1-6v4m0 28v2m1-2v2m1-36v2m0 32v2m1-32v2m0 30v2m2-34v2m1 0v2m1 30v2m1-32v2m1 0v2m1-6v2m0 28v2m1-30v2m1-10v4m0 2v2m1-10v2m2 40v2m1-10v6m1-42v2m0 38v2m1-46v2m0 44v2m1-46v2m0 42v2m1 0v2m1-48v2m0 44v2m1-2v2m1-44v2m0 42v6m2-48v2m1 0v2m0 46v2m1-48v2m1 46v2m2-46v2m0 44v2m2-46v2m1-2v2m1 52v2m1-2v2m1 0v2m1-56v2m3-4v2m0 58v2m1-62v2m2-4v2m0 64v2m1-32v2m0 26v2m2-64v2m0 26v2m0 28v6m1-18v2m1 0v2m1-46v2m0 46v2m1-26v2m0 22v2m0 8v2m2-36v2m0 24v2m1-28v2m0 26v4m1-54v4m1-2v2m0 46v2m1-50v2m2 0v2m1-12v12m0 2v2m1-6v2m2-14v2m0 20v4m1-24v2m0 20v2m1 0v6m1-4v2m1-2v2m2-28v2m1 30v2m1-34v2m1-2v2m1-2v2m0 28v2m4-34v2m3 2v2m0 26v2m1-28v2m1-2v2m2 22v6m1-26v2m0 16v4m1-32v2m0 24v4m1-30v4m0 6v2m0 14v6m1-24v2m0 18v2m1-28v2m1 0v2m0 18v2m0 2v2m1-24v2m0 18v4m1-26v4m0 20v4m1-30v2m1 2v2m1 0v2m0 22v2m1-26v2m1-2v2m0 26v2m1-32v2m0 28v6m1-36v2m0 26v2m1-28v2m0 24v2m1-2v2m1-26v4m1-2v2m0 22v2m0 14v2m1-40v2m0 16v10m0 12v2m1-42v2m0 16v4m0 20v2m1-50v8m0 4v4m0 4v6m1-24v6m0 8v2m1-16v2m0 12v2m1-2v2m1-12v2m0 10v2m1-12v6m1-2v2m0 6v2m1-10v10m1-14v2m7 6v2m1-16v2m0 2v4m2 10v2m1-26v2m0 24v2m2-4v2m1-24v2m1-2v2m0 22v2m2-24v2m1-2v2m1 50v2m1 2v2m1-60v2m0 56v2m1-60v2m0 52v2m1-2v2m1 4v2m1 2v2m1-62v4m0 20v2m0 24v2m1-52v4m0 18v2m1-26v2m0 20v2m2-8v2m0 34v2m0 8v2m1-50v2m0 42v2m1-48v2m1-14v2m0 10v2m1-2v2m2-8v6m82 2v2m10-4v2m1-2v4m1-8v2m1-4v4m0 8v2m1-12v2m0 8v2m1-12v2m0 8v2m1-2v2m1-10v8m1-8v2m0 4v2m1-2v2m1-4v4m3-10v2m1-6v4m1-2v6m1-2v4m14-12v6m1-6v4m2 4v2m3-4v6m1-4v2m4-12v4m1-6v4m0 6v2m1-10v2m0 8v2m1 0v2m1-4v4m1-20v2m1 8v2m2-14v2m2 0v2m0 10v2m2-12v2m1-2v2m1 8v2m1-10v2m0 4v2m2-10v2m2 8v2m2-2v2m1-18v2m1 16v2m2-18v2m0 18v2m1-2v2m1-22v2m0 20v2m1-24v2m0 18v2m2-20v2m0 14v2m1-20v2m1 16v2m1-2v2m2-20v2m1-2v2m1-2v2m5 14v2m2-16v2m1 10v2m1-2v2m1-12v2m0 6v2m1-10v2m1 0v4m2-8v2m0 4v2m1-2v4m1-8v2m0 4v2m1-10v2m4 2v6m1-10v8m1-8v2m0 2v4m1-8v2m1-4v2m1-2v2m1-4v2m3 8v2m3-12v2m0 8v2m1-12v2m2 0v2m0 6v2m2 0v2m2-12v2m2-2v2m1-2v2m1-4v2m1 0v2m1-2v2m0 8v2m1-2v2m2-10v2m3-2v2m2-2v2m4 0v2m1-4v2m1 0v2m1-4v2m1-2v2m1-2v2m0 12v2m1-16v4m0 10v2m1-2v2m1 0v2m2-18v2m1-2v2m4 2v2m1-2v2m1-2v2m1-2v2m0 12v2m0 4v2m1-20v2m0 10v6m1-16v2m0 10v2m2-2v2m1-16v2m0 12v2m2-18v2m0 12v2m1-16v2m0 14v2m1-18v2m0 14v2m1-18v2m0 16v2m2-26v2m1-2v2m0 26v2m1-34v4m0 28v2m1-34v4m1 26v4m1-28v2m0 24v2m1-28v6m1-6v2m0 26v2m1-30v6m0 22v2m1-30v2m1 0v2m1 0v2m0 26v2m1-28v2m2 0v2m0 20v2m1-2v2m1-22v2m1 0v2m1-2v2m0 16v2m1-20v2m0 16v2m1-20v2m0 14v4m1-20v2m0 12v2m1-16v2m0 10v4m1-14v2m0 10v2m1-12v2m0 6v2m1-8v4m0 2v4m3-18v4m0 2v10m1 0v2m1-18v2m0 14v2m1-16v2m0 14v2m1-18v2m0 16v2m1-18v2m0 14v2m1-18v2m1-2v2m0 14v2m1-18v2m1-4v2m2 16v2m1-20v2m0 16v2m1-18v2m3 0v2m1-2v2m2-2v2m0 14v2m1-20v4m0 14v2m1 0v2m1-22v2m0 18v2m1-22v2m0 18v2m2-18v2m1-2v2m1-2v2m1 16v2m2-22v2m1-2v2m0 20v2m1-20v2m0 16v2m1-18v2m2-8v2m1-2v2m1-4v2m0 24v2m1-30v4m0 26v2m1-2v2m1-30v4m1-2v2m1-6v4m1-12v2m1 0v2m1-10v4m0 2v4m1-8v6m1-6v2m1-4v2m1-4v2m1-2v2m0 50v2m1-52v2m1-2v4m1 2v2m2-2v2m1-12v2m1 0v2m0 2v4m1-8v2m0 48v2m1-50v4m1 2v2m1-2v2m0 42v2m1-48v4m1 0v2m1-6v10m0 36v2m1-54v4m0 10v2m1-14v2m3 2v2m0 44v2m1-46v2m1 0v2m1-4v4m0 40v2m1-56v2m0 10v4m1-2v2m0 36v2m1-56v2m1 0v2m0 22v2m1-20v2m0 50v2m1-52v2m0 50v2m1-52v2m1 6v2m0 42v2m1-42v2m1-2v2m1-22v6m0 6v6m0 2v2m0 32v2m0 8v2m1-68v4m0 14v12m0 16v4m0 2v10m0 4v2m1-64v4m0 38v2m0 6v2m0 2v2m0 8v2m1-72v2m0 4v4m0 2v2m0 2v2m0 18v4m0 10v2m0 4v2m0 14v2m1-72v12m0 2v2m0 24v2m0 6v2m0 8v2m1-56v6m0 38v4m1-8v10m0 6v2m1-18v2m0 6v4m0 8v2m0 4v2m1-28v2m0 4v6m0 2v6m0 4v2m1-80v2m0 52v2m0 2v8m0 2v4m1-8v4m1-2v2m2 0v2m1 2v2m1 0v2m2 0v6m2 2v2m1 0v2m1-2v2m2-98v2m1-2v2m1-2v2m1 94v2m1-2v2m1-2v2m3 0v2m1-20v2m0 6v2m0 8v2m1 0v2m2-112v2m0 2v2m0 84v2m1 20v2m1-4v6m1-4v4m2-28v2m8 0v2m1-104v2m0 106v2m1 0v2m1-108v2m0 106v2m3 4v2m4 8v2m1 0v2m2-2v2m4 6v2m3-120v2m1 120v2m1 0v2m3 2v2m1-2v2m2-36v2m0 34v2m1-34v2m1-6v2m0 6v2m1-30v2m0 28v2m0 28v2m2-130v4m0 126v2m2-2v2m1-18v2m0 14v2m1-16v2m0 6v2m0 2v4m1-66v2m0 14v2m0 2v2m0 32v2m0 2v2m0 4v2m1-64v4m0 6v2m0 40v2m0 4v2m1-56v4m0 52v4m2-58v2m0 18v2m0 20v2m1-24v2m0 24v2m1-114v2m0 64v6m0 12v4m1-18v4m0 2v2m1-8v2m1 18v2m1-20v2m1 0v4m2-70v4m0 66v2m0 10v2m2-8v2m1-10v2"/>
<path stroke="#73ff8c" d="M105.5 408v2m1 0v4m1-6v2m0 4v2m1-8v2m1 6v4m1-50v4m0 36v2m0 4v4m1-10v4m0 2v2m1-38v2m0 32v2m0 2v2m1-6v2m2-6v4m1-40v2m0 4v4m0 26v4m1-38v4m0 30v6m1-2v2m1-14v2m1-2v4m1-30v2m0 30v2m0 2v2m1-40v2m0 32v6m1-36v2m0 30v4m1-40v4m0 34v2m4-40v4m4-6v2m3 8v2m1-2v2m1-14v2m0 10v2m1-14v2m0 10v2m1-14v2m0 10v2m1-14v2m2 10v2m1-12v2m1-2v2m0 8v2m2-14v2m1-2v2m3 0v2m2-2v2m2 2v2m5-4v2m5 0v2m3-4v2m1-6v2m2 0v2m4 0v2m56-12v2m1 4v4m1-4v2m1 0v2m1-2v2m1 0v6m17-2v2m1-10v2m0 4v2m1-10v10m0 2v4m1-16v10m1-10v2m0 8v2m1 0v2m2-10v2m0 6v2m1-8v2m1 0v2m1-2v6m7-10v2m0 2v2m16-14v2m0 2v8m1-8v6m1-6v4m1-14v2m0 2v4m0 4v6m1-26v4m0 16v6m1-28v2m1-6v4m1-4v2m2 0v2m0 32v2m1-34v2m1 0v2m0 28v2m1-32v2m1 0v2m1 0v2m0 22v2m1-24v2m1-6v6m1-18v2m0 8v2m0 28v2m1-38v4m0 22v2m1-4v10m1-6v10m1-10v2m1 0v4m1-42v2m0 40v2m1-46v2m0 2v2m0 38v2m1-44v4m0 40v2m1-2v2m2-40v2m0 38v2m1 0v2m2-40v2m0 40v4m1 0v2m2-44v2m0 44v2m2 0v2m1 0v2m1 0v2m2-50v2m5-2v2m1-2v4m0 56v2m1-64v2m0 62v2m1-4v2m1-66v2m0 32v2m0 2v8m0 8v10m1-62v2m0 26v2m0 26v8m2-62v2m0 54v4m1-60v2m2 2v2m1 0v2m0 18v2m0 30v2m1-52v2m0 48v2m1-52v4m2-4v2m0 4v4m1-10v2m0 10v4m0 30v2m1-48v2m0 10v2m1-12v10m1-10v2m0 2v4m0 6v2m1-28v10m0 2v8m0 6v2m1-30v2m0 16v4m0 2v2m1-8v4m1 0v2m2-20v2m1 0v2m1-2v4m0 20v2m1-28v2m0 2v2m1-8v4m1-2v2m3-4v2m3 26v2m1-30v2m1 0v2m1 0v2m1 24v2m1-26v2m0 24v2m1-28v2m1 18v2m1-18v2m0 12v2m1-18v2m0 12v2m1-14v8m0 4v2m1-16v2m0 10v4m1-22v2m0 18v2m2-2v2m1 0v2m1-24v4m0 22v2m1-24v2m2 22v4m1-26v2m0 20v4m1-28v4m0 22v2m1-28v2m0 22v2m1-2v2m1-24v4m0 18v2m1-4v2m0 2v2m1-22v2m0 14v6m0 18v2m1-40v6m1-6v6m1-6v4m0 4v4m1-12v8m1-12v2m2 2v6m0 2v2m1 0v2m1-2v2m10-10v2m0 2v4m1-16v2m1-4v2m0 16v2m2-22v2m1-2v4m1-2v2m1-2v2m1-2v2m3 22v2m2 26v2m2-30v2m1 26v2m1-54v2m1 22v2m0 36v2m1-58v2m0 44v2m0 10v2m1-64v4m0 46v2m1-54v2m0 16v4m0 30v4m0 8v2m1-12v8m1-62v2m1-2v4m1-2v2m1 0v2m1 0v2m95 2v2m0 4v2m1-2v2m1-2v2m2-8v2m2 0v4m1-6v6m5-8v2m17-4v2m10-4v2m1-4v2m0 2v2m2-8v2m0 8v2m1-14v4m0 6v2m1-14v2m0 8v2m1-16v2m1-2v2m0 10v2m1-12v2m0 8v2m1-12v2m0 8v2m2-10v2m0 8v2m1-2v2m1-2v2m1-10v2m0 4v2m1-6v4m1-6v2m0 4v2m1-8v2m0 6v2m1-12v4m0 6v2m1-12v2m1-4v2m1-6v4m3-2v2m1 16v2m1-2v2m3-18v2m3-4v2m2-2v2m0 14v2m3-16v2m1-2v2m0 10v2m1-14v2m2 12v2m1-16v2m1-2v2m0 10v2m1-2v2m1-12v2m2 4v2m1-6v4m3-6v4m1-4v4m1-2v4m1 0v2m1-8v2m0 4v2m1-2v2m1-6v4m3-6v2m2-4v2m0 4v2m1-8v2m1-4v2m1-4v4m1-4v4m0 6v2m1-12v2m1-2v2m1-2v2m1 0v2m2-2v2m3 0v2m1-2v2m1 4v2m1-10v2m1 0v2m1-2v2m1-4v2m3-2v2m1 0v2m0 6v2m2-10v2m1-2v2m5 0v2m0 6v2m1-8v2m0 6v2m1-10v2m1-4v4m1-2v2m1-4v2m4-2v2m1-4v2m0 12v2m1-16v2m0 14v2m1-2v2m1 0v2m2-18v2m2 2v2m0 14v2m1-18v2m1-2v2m0 14v2m1-8v2m0 2v4m1-8v2m1 0v2m1-12v4m1-6v2m1 0v2m0 8v2m1-14v4m0 4v6m1-4v2m2-12v2m1-2v2m1-6v4m0 18v2m1-2v2m1-26v4m1-6v4m0 2v2m0 18v2m1-28v6m1-2v2m2 2v2m0 20v2m1-24v2m0 18v2m2-26v2m1 0v2m0 24v2m3-24v2m0 20v2m2-22v2m1 18v2m1-18v2m0 14v2m1-4v2m1-16v8m0 6v2m1-16v14m1-14v2m0 8v2m1-12v2m1 8v2m1-8v2m1 2v2m3-10v2m1-4v2m0 10v2m2 0v2m1-14v2m3 0v2m1-2v4m1 8v2m1-18v2m1-2v2m1 0v2m1 0v2m1-2v2m1-2v2m0 10v2m2-12v2m1-2v4m0 8v2m1-14v2m1 10v2m1-18v4m1-2v2m2-2v2m6 0v2m0 18v2m1-22v4m3 0v2m1-6v4m1-4v2m1-4v2m2-4v2m1 2v2m0 22v2m1-2v2m1-40v6m0 6v2m1-12v6m1 32v2m1-38v2m1-4v4m0 36v2m1-46v2m1-4v4m0 42v2m1-50v6m0 42v2m1-50v2m1 0v2m0 46v2m1-48v4m1 0v2m1-2v2m1-2v4m0 36v2m1-44v4m1-10v2m0 4v12m0 30v2m1-50v6m1-2v2m0 42v2m3-42v2m0 40v2m1-42v6m0 34v2m1-38v4m1-16v2m0 4v4m0 2v2m1-14v2m0 46v2m1-2v2m1-2v2m2-2v2m1-42v4m0 26v2m0 8v2m1-42v6m1-4v2m0 32v6m1-48v2m0 6v2m0 32v2m0 2v2m1-4v6m1-56v2m0 16v4m0 2v2m0 26v6m1-6v4m1-48v2m0 46v2m1-48v4m0 44v2m2-38v2m0 28v4m1-34v2m0 16v4m0 10v2m0 6v2m1-46v2m0 2v6m0 12v2m0 2v2m0 6v2m0 2v2m1-56v14m0 12v4m0 10v2m0 4v2m1-44v14m0 4v10m0 24v4m0 2v2m1-72v2m0 10v2m0 2v2m0 2v2m0 12v4m0 4v2m0 18v2m1-48v2m0 2v2m0 20v2m1-38v2m0 10v2m0 22v2m0 4v4m0 12v2m1-56v2m0 32v4m0 18v4m1-70v4m0 40v4m0 22v4m1-76v6m0 66v2m2-22v8m1-68v2m0 66v2m1-2v4m1-2v2m1 2v2m2 2v2m2 4v2m1-88v2m0 86v2m1 0v2m1-94v2m0 90v2m1 0v2m7-100v2m0 96v2m1-100v2m1 0v2m0 80v4m3 12v4m1-8v6m1-22v2m0 18v2m1-22v2m1-2v2m1-92v2m0 88v2m5-2v2m1-2v2m2-102v2m2 104v2m1-102v4m1 4v2m1 96v2m1-2v2m1 0v2m1 8v2m2 0v2m2 0v2m1 0v2m3 0v2m2-114v2m0 114v2m3-116v2m0 116v2m3 4v2m1-2v2m3 0v2m1-32v2m1 30v2m1 0v2m1-132v2m0 68v2m0 2v2m0 4v6m0 22v2m1-110v2m1 0v2m0 4v4m0 120v2m1-132v12m0 114v8m1-132v2m0 62v2m0 62v2m1-12v2m0 6v4m1-64v2m0 50v6m1-6v2m1-32v2m0 22v2m0 14v4m1-18v2m1-44v2m0 48v2m1-52v2m0 2v2m0 40v2m1-112v2m0 62v2m0 4v2m1-10v4m1 2v2m0 4v2m0 10v4m1-22v2m0 10v2m0 8v4m1-24v2m1-70v2m0 86v2m1-6v2m1-82v2m0 68v2m0 10v2m0 2v2m1-90v4m0 4v4m0 76v4m1-98v2m0 8v2m0 70v2m1-10v2m1 4v2m1-2v2m1-84v2"/>
<path stroke="#83ff7c" d="M107.5 410v4m1-4v4m0 2v2m1-8v6m1-4v4m1-46v2m0 2v4m0 36v2m1-44v2m0 4v2m0 36v2m1-44v2m0 4v2m1-8v2m1-2v2m0 4v2m1-6v2m6-2v2m1-4v2m9-2v4m1-6v2m0 4v2m1-8v2m0 6v2m1-10v2m0 6v2m1-10v2m4 6v2m1-2v2m1-10v2m1 8v2m2-10v2m0 4v2m4-10v2m0 4v2m1-2v2m1-8v2m0 4v2m2-4v2m1-4v2m14-4v4m1-4v2m2-2v2m1-2v2m60-2v2m0 4v2m1 0v2m19-6v2m1-4v2m0 2v2m1-2v2m2-10v8m1-8v2m0 6v2m3-4v2m0 2v2m1-2v2m27-22v2m1-8v4m0 10v2m1-20v4m0 18v4m1-28v6m0 20v2m1-30v2m0 26v2m1-28v2m0 6v2m0 18v2m1-30v2m0 28v2m2-28v2m1-2v2m1 24v2m3-22v2m0 18v2m1-28v2m0 6v2m0 8v2m1-30v2m0 4v6m0 12v4m0 2v2m0 6v2m1-40v2m0 34v4m1-42v2m0 28v2m1-32v2m3-2v2m0 34v2m1-38v4m0 34v2m1-42v2m0 38v2m1-42v2m0 40v2m1-2v2m1-38v2m0 36v2m1-40v2m0 38v2m2-38v2m0 38v4m1-44v2m2 44v2m1-44v2m0 42v2m2 2v2m1 2v2m3 2v2m1-56v2m1-2v2m0 54v2m1-56v4m0 50v2m1-54v4m0 50v2m2-28v4m0 12v8m1-58v2m1 0v2m0 40v2m0 8v2m1-54v2m0 42v2m0 6v4m1-2v2m1-8v2m0 8v2m1-56v2m0 18v2m0 26v4m2-4v2m0 2v2m1-48v2m0 42v4m2-50v4m1-2v2m0 6v2m0 4v2m1-16v2m0 2v6m1-10v4m0 2v4m0 2v2m1-4v4m1-6v6m1-6v6m1-12v2m0 4v2m1-22v2m0 12v2m1-14v2m1-2v2m0 18v2m1 0v2m1-20v2m2-4v2m1-2v2m0 24v2m1-28v2m0 26v2m1-4v2m2-4v2m1-2v2m1-30v2m0 26v2m1-30v2m1 0v2m0 24v2m1-26v2m0 22v2m2-24v2m2 24v2m1-26v4m0 12v2m1-4v2m1-14v2m0 8v2m1-4v4m1-12v6m1-12v2m0 14v2m1-18v2m0 14v2m1-16v2m1-2v2m0 14v2m1-18v2m0 18v2m1-20v2m0 16v4m2-22v2m1 0v2m0 14v4m1-20v2m0 14v6m1-24v2m1-2v2m1 18v2m1-18v2m0 12v2m0 2v2m1-6v2m1-8v2m0 6v2m1-10v2m0 6v2m3-18v2m0 2v6m1-10v2m0 6v2m1-2v2m1-2v4m1-4v2m10-4v2m1-10v8m0 2v4m1-16v8m1-12v2m0 8v2m0 10v2m1-22v2m0 18v2m2-2v2m1-20v2m2-2v2m1-2v2m0 18v2m1-24v2m3 54v2m2-58v2m0 22v2m1-24v4m0 54v2m1-56v2m1 0v2m0 12v2m1-18v2m0 12v2m0 32v2m0 8v2m1-64v6m0 8v2m0 38v4m1-60v2m0 2v2m1-4v2m0 8v2m1-10v4m98 4v4m1-6v6m1-6v6m1-6v2m0 4v2m1-6v6m36-14v2m1-4v8m1-8v8m2-12v4m0 2v2m1-4v2m4-8v2m3 0v2m0 4v2m1-6v4m2-4v2m1-2v2m0 2v2m1-6v2m0 2v2m1-8v4m0 2v2m1-10v2m0 6v2m1-12v2m1-4v2m0 12v2m1-16v2m0 12v2m1-14v2m0 12v2m1-16v2m1-2v2m1-2v2m0 16v2m1-20v2m1 14v2m1-16v2m1-4v2m0 12v2m2-18v2m2 0v2m1-2v2m1 10v2m2-2v2m1-14v2m0 10v2m1-14v2m5 2v2m0 4v2m1-8v4m7-6v2m0 2v2m1-2v2m1-4v4m1 0v2m4-8v6m3-8v2m0 2v2m3-8v2m2-2v2m2-2v2m1 6v2m1-8v2m1-2v2m0 4v2m2-6v2m0 2v2m1-8v2m1 4v2m3-8v2m1-2v2m1-2v2m1-2v2m2 0v2m3-2v2m1-2v2m1-2v2m1-2v2m1 0v2m1 0v2m1 2v2m1-6v2m0 2v2m1-6v6m1-8v2m0 2v4m1-10v2m0 8v2m1-12v2m1 0v2m1-6v2m0 2v2m1-2v2m1 8v2m1-2v2m1-14v2m1-2v2m0 14v2m1-2v2m1-16v2m0 14v2m2-14v2m0 12v2m1-16v2m0 8v4m1-16v4m0 2v4m1-8v2m1 0v2m1 6v2m1-12v2m0 8v2m1-10v2m0 2v4m1-8v4m1-8v2m0 4v4m1-10v2m0 10v2m2 0v2m1-16v2m0 14v2m1-24v6m1-2v4m0 16v2m1-24v2m0 2v2m1-4v2m0 16v2m1-2v2m1-22v2m0 20v2m1 0v2m2-22v2m0 18v2m1-24v2m0 22v2m1-2v2m1-24v2m0 20v4m1-24v2m0 20v2m2-22v2m0 16v2m1-4v4m1-18v2m2 0v2m0 10v2m1-6v6m2-12v2m0 4v2m1-2v2m1-8v8m1-4v4m5-10v2m0 4v4m1-12v2m0 10v2m1-12v2m1 10v4m1-14v2m0 10v2m1-14v2m0 10v2m1-12v2m1 0v2m1-8v4m1-4v2m0 12v2m3-2v2m1-12v2m0 8v2m1-12v2m1-2v2m0 8v2m1-10v2m1 0v4m1-6v4m0 6v2m1-14v6m1-6v4m0 8v4m1-16v2m1-4v2m1 0v2m0 14v2m2-16v2m1-2v2m1-4v2m1-2v2m0 16v2m1-18v2m1 0v2m1-2v2m1 0v2m1-2v2m0 12v2m1-18v2m0 14v2m1-20v2m0 16v2m1-2v2m1-24v2m1-2v2m2 0v2m1 24v2m1-34v6m0 26v2m1-38v2m1 0v2m0 32v2m1-36v2m1-8v2m0 40v2m1-44v2m1-2v4m1-8v8m0 38v2m1-46v6m1-2v2m0 38v2m1-40v2m0 36v2m1-40v2m0 36v2m1-38v4m1-6v10m0 28v2m1-32v2m1-14v2m0 4v6m1-12v2m1 0v2m0 38v2m1-42v2m1 0v2m1 4v2m1 0v2m1-4v4m0 30v2m1-40v2m1 8v2m1-20v2m1 0v2m1 0v2m1 28v2m1-24v2m0 22v2m1-28v4m1-16v2m0 10v2m1-4v6m0 2v2m1 2v2m0 22v2m1-46v2m0 14v6m1 24v4m1-42v2m1 2v2m0 16v2m0 6v4m0 6v2m0 2v2m1-24v2m0 8v6m0 4v2m1-20v2m0 4v4m0 2v4m0 2v2m1-12v6m0 6v2m1 0v4m1-44v4m0 10v2m0 26v2m1-48v2m0 6v4m0 16v2m0 14v4m0 2v2m1-74v4m0 26v2m0 2v2m0 2v4m0 4v2m0 2v2m0 12v2m1-64v4m0 8v4m0 2v2m0 44v2m1-66v8m0 2v2m0 2v2m0 22v4m0 26v4m1-70v4m0 34v2m1-40v4m0 34v6m1-2v2m1-58v2m0 28v2m0 26v2m1 4v4m1-68v2m0 64v2m1 0v2m2 6v2m2 0v2m1-6v2m0 4v4m4-90v2m2 94v2m1-2v2m1-98v2m5-4v2m0 2v4m0 74v2m0 4v2m1-90v6m0 86v2m1-14v2m1-82v2m0 2v4m0 72v2m0 16v2m1-102v10m0 72v2m0 20v2m1-112v2m0 8v4m0 96v2m1-112v2m5-8v2m1-2v2m2-4v2m1 94v2m1-2v2m1-102v4m1 98v4m1-104v2m0 6v4m0 94v2m2-94v2m2 0v2m0 102v2m1-8v2m1 6v2m2-108v2m2-2v2m0 108v2m2 0v2m2-112v2m0 112v2m2-116v2m0 116v2m8-114v4m1-4v2m1-2v4m0 6v2m1-14v2m1-4v2m0 68v4m0 30v2m1-30v4m0 6v6m1-90v4m0 62v2m0 62v2m1-66v2m0 40v2m0 18v2m1-118v6m0 48v2m0 56v2m1-122v18m0 2v2m0 90v6m0 4v4m1-106v4m0 38v2m0 54v2m0 2v2m1-124v2m0 106v2m0 2v2m1-114v4m1 60v2m0 50v2m1-114v2m0 80v2m0 30v2m1-34v2m1-20v2m0 20v2m1-24v2m0 18v4m1-14v2m0 8v2m1-18v2m0 10v2m0 4v2m1-84v2m0 84v2m1-88v2m0 64v2m0 12v2m1 0v2m1-84v2m0 68v2m0 16v2m1-90v4m0 2v6m0 52v2m0 6v2m0 14v2m1-90v2m0 12v2m0 58v2m1-78v2m0 4v2m0 2v8m0 52v2m1-2v2m0 2v4m0 4v2m1-88v2m0 76v2m0 4v4m1-88v2m0 78v2m1-44v2m0 44v4"/>
<path stroke="#94ff6b" d="M108.5 414v2m3-44v2m1 0v2m1 0v4m1-4v6m1-6v4m1-2v2m7-4v2m12 0v2m1-6v2m0 4v2m1-10v2m0 6v2m1-10v2m0 6v2m1-10v2m1-2v2m1-2v2m1 6v2m3-6v2m1-6v8m1-8v2m0 4v2m1-8v2m0 4v2m2-6v2m1-2v2m1-2v4m1-4v2m79-2v4m2-4v2m0 2v2m18-6v2m5-4v2m0 2v2m1-6v2m0 4v2m1-6v2m1 2v2m1-2v2m28-22v4m0 2v4m1-14v2m0 14v2m1 0v2m1-26v12m0 12v2m1-16v2m0 14v2m1 0v2m1-28v2m0 28v2m3-28v2m1 0v4m0 16v2m1-20v2m0 16v2m1-18v2m1-8v6m0 2v2m0 4v2m0 2v2m1-14v6m0 8v4m1-12v2m1 0v2m1-2v4m1-32v2m0 30v2m1-36v4m0 32v4m2-34v2m0 30v2m1-38v4m1 34v2m1-36v2m3 2v2m0 36v2m1-2v2m1-38v2m0 38v4m1-42v2m0 40v2m1-44v2m3 40v6m1-46v2m0 38v2m1 8v2m1 0v2m2-4v2m0 2v2m3-48v2m0 46v2m1-58v10m0 36v4m0 10v2m1-64v2m0 46v2m0 8v4m1-60v2m0 26v2m1-28v2m0 46v2m1-50v2m1-2v2m0 20v2m0 20v2m0 4v2m1-52v2m0 20v2m0 24v8m1 0v2m1-54v2m0 16v2m0 26v8m1-52v2m0 44v2m1-32v2m1-14v2m0 2v2m0 6v2m1-12v4m0 6v2m1-14v2m0 6v2m1-10v2m1 0v2m4-18v6m0 2v6m1-2v2m1 4v2m2-16v2m1 18v2m1-18v2m0 16v2m1-20v2m0 18v2m1-24v2m2-6v2m1 24v2m2-30v2m0 24v2m2-26v2m0 22v2m1-24v2m0 20v2m1-22v2m1-2v2m1 0v2m1 20v2m1-10v10m1-10v2m1-12v2m1-2v4m0 2v2m2-4v4m1-14v4m0 8v2m1-4v4m1 0v2m2-14v2m0 12v4m2-18v2m0 18v2m1-4v4m1-6v2m2-16v4m0 12v4m1-20v2m0 16v2m1-18v2m0 12v2m1-4v2m1-12v2m1 10v2m1-6v6m3-14v2m1-2v6m3 2v2m11-6v2m1-4v2m0 2v4m1-18v8m0 10v2m2-18v2m1-2v2m2-2v2m3-2v2m1-4v2m0 22v2m0 26v4m1-56v2m0 22v2m0 28v2m1-56v2m0 22v2m1-26v2m1 0v4m1 18v2m0 28v2m1 4v2m1 0v2m1-56v2m0 8v2m1-12v2m0 50v4m1-62v2m0 2v2m0 6v2m1-12v4m1 0v2m1-6v6m1-4v2m1 0v4m98 0v4m40-14v6m1-6v2m1-10v8m1-8v2m2 0v2m0 4v2m1 0v2m1-2v2m1-8v8m1-6v4m3-2v2m1-2v2m1-2v2m1-2v2m1-6v2m1-4v2m0 6v2m1-12v2m1-2v2m3 12v2m1-14v2m0 12v2m1-2v2m1-16v2m0 10v2m1-2v2m1-14v2m1-4v2m0 12v2m1-2v2m1-16v2m0 10v2m1-2v2m2-12v2m1-2v2m1-2v2m2 8v2m1-2v2m1-12v2m0 6v2m1-10v2m0 6v2m1-8v2m0 2v4m1-6v4m8-6v2m1-2v2m7-4v4m1-4v4m1-4v2m1-4v2m0 2v2m1-6v2m2-4v2m0 4v2m1-2v2m1-6v2m1 4v2m1-8v2m3 0v2m0 2v2m2-6v4m1-6v2m1 0v2m0 2v2m1-6v2m0 2v2m1-2v2m5 0v2m1-8v2m0 4v2m1-8v2m1 4v2m1-6v2m2 2v2m1-4v4m1 0v2m1-6v2m1 0v2m2-4v2m1-4v4m2-2v2m1-2v2m0 4v2m1-12v2m0 2v8m1-2v2m1-12v2m1 12v2m2-14v2m1 0v2m1 0v2m1 0v2m0 6v4m1-12v4m0 2v2m1-8v2m1-2v6m1-4v2m0 2v2m1-6v2m1-4v2m1 0v2m2-6v4m1 4v2m1-10v2m0 8v2m1-12v2m1-2v4m1-6v2m0 14v2m2-16v2m0 12v2m1-18v2m1-4v4m1-4v4m1 16v2m1-18v2m0 14v2m2-20v2m0 18v2m1-22v2m1 0v2m1 18v2m1-20v2m0 16v2m1-4v2m1-16v2m0 10v2m1-12v2m0 8v6m1-14v4m0 6v4m1-14v6m0 2v2m3-8v4m1-6v2m7-2v4m1-6v2m0 6v2m1 0v2m1-10v2m1 6v4m1-10v2m0 4v4m1-8v10m1-8v8m1-12v10m1-12v2m1-4v2m1 0v2m0 10v2m1-12v2m1 0v2m1-2v2m1-2v2m1 0v4m0 2v2m1-4v4m1-6v6m1-6v6m1-8v8m1-10v6m0 6v2m1-12v2m0 8v2m2-14v4m1-2v4m0 8v2m1-14v2m0 10v2m1-16v2m2 0v2m1 0v2m1-2v2m1 0v2m0 10v2m1-14v2m1-4v2m1-4v2m0 12v2m1-20v2m0 16v2m1 2v2m1-24v2m1 0v2m1-2v2m1-4v2m1-2v2m1-10v4m1-2v2m1-2v2m1-8v8m1-8v2m0 2v2m1-4v4m0 28v6m1-38v4m0 2v2m1-8v2m0 4v2m1-8v2m2 0v2m1 2v2m3-10v4m0 6v2m1-4v6m1-2v2m1-12v2m0 36v2m1-38v4m1 2v2m2-14v2m0 12v2m0 20v2m1-34v2m0 2v2m0 2v8m1-8v4m0 2v2m3-16v2m0 28v2m1-28v2m0 20v2m0 4v2m1-8v4m0 2v8m1-6v2m1-50v2m0 2v2m0 14v2m0 26v2m1-40v6m0 6v2m0 2v2m0 22v2m1-48v2m0 12v2m1 10v2m0 16v6m1-42v2m0 18v2m0 14v2m0 2v2m1-20v8m0 12v6m1-38v2m0 12v2m0 2v6m0 4v6m0 2v2m1-34v2m0 8v2m0 2v8m0 12v4m1-38v2m0 22v2m0 8v2m1-32v2m0 32v2m3-46v6m0 34v2m0 4v2m1-50v2m0 4v2m0 2v2m0 2v2m0 28v8m1-74v2m0 20v4m0 12v4m0 26v6m1-74v2m0 12v2m0 2v8m0 12v2m1-32v4m0 18v4m0 2v6m1-34v4m0 2v2m0 14v12m1-46v2m0 14v10m0 20v4m1-30v4m0 2v4m0 20v2m1-2v8m1-8v4m0 4v2m1-66v2m0 64v2m1-8v2m0 10v2m1 0v2m1-78v2m0 70v8m1-80v2m0 70v8m1-80v2m0 72v2m0 2v4m1-6v4m0 6v2m1 0v2m1-2v2m1-2v4m1-4v2m0 2v2m7-98v6m0 78v2m0 10v2m1-92v4m0 78v2m1-86v10m0 64v2m1-82v8m0 92v2m1-100v2m0 4v2m0 86v2m2-104v8m0 4v2m1-14v2m3-8v2m1-4v2m1 90v2m1-2v2m3-98v2m1-2v2m1 88v2m0 6v2m1-100v2m0 96v2m1 4v2m1-106v2m0 106v2m3 8v2m1-104v2m3 106v2m1-110v2m0 106v2m2 0v2m1-110v2m3 112v2m1 0v2m3-114v2m0 114v2m1 0v2m1 0v2m2-120v2m0 118v2m1-118v4m1-6v4m0 2v8m0 74v2m0 28v2m1-118v2m0 2v2m0 2v2m0 108v2m1-100v2m0 68v2m0 26v2m1-96v2m0 68v2m0 2v2m0 20v2m1-90v4m0 24v2m0 60v2m1-126v6m0 30v2m0 86v2m1-120v4m0 98v2m0 12v2m1-110v2m0 94v2m0 6v2m1-102v2m0 86v2m0 10v4m1-122v2m0 12v6m0 4v2m0 94v2m1-96v6m1 2v2m0 26v2m0 46v2m0 2v2m1-80v4m0 22v2m0 14v2m1-16v6m0 4v2m1-72v2m0 60v4m0 2v2m0 10v2m1 0v4m0 28v2m1-54v2m0 18v2m1-32v2m0 8v2m0 14v2m1-26v2m0 10v2m1-12v2m0 10v2m1 20v2m1-86v2m0 54v2m0 8v2m0 14v4m1-86v4m0 54v6m0 2v2m0 16v2m1-76v6m0 48v2m1-52v2m0 48v2m1-68v4m0 62v2m0 2v2m0 4v2m1-84v2m0 28v6m0 46v4m1-56v6m0 40v2m1 0v2m0 4v4m1-52v2m0 2v2m0 40v2"/>
<path stroke="#a5ff5a" d="M112.5 376v2m21-4v2m1-2v2m0 2v2m1-6v4m1-2v4m1-6v2m0 2v2m2 0v2m2-4v2m2 0v2m1-8v2m0 4v2m1-4v2m2-6v2m2-2v2m2 0v2m82-4v2m0 2v2m1-4v2m23-4v2m1 0v2m1-2v4m30-18v2m1-8v8m0 4v2m1-16v2m0 2v2m0 10v2m1-12v2m1-12v2m0 2v2m0 4v2m0 10v2m1-24v2m0 4v2m0 2v2m0 12v2m1-24v2m0 6v4m0 10v6m1-26v2m0 20v4m1-26v2m0 22v2m1-24v2m0 18v2m2-18v2m1 0v2m0 12v2m1-14v4m1-14v2m0 22v2m1-30v4m0 10v2m1 0v2m1-4v4m1-26v2m0 26v2m1-30v2m0 28v2m1-32v2m0 30v2m2 0v2m1-38v4m1 34v2m2 2v2m1 0v2m1-36v2m0 32v2m1 0v4m1-36v2m0 36v2m1-2v2m1-2v4m1-42v2m0 42v2m1-46v2m0 36v2m1-4v4m0 2v4m0 2v2m1-12v2m1-38v2m1-2v2m0 40v8m1-50v2m0 44v2m0 2v2m1-52v4m0 44v6m1-50v2m0 26v4m0 16v2m1-22v2m0 6v8m0 4v2m1-46v2m0 20v4m0 8v2m0 4v10m1-60v4m0 2v2m0 2v2m0 24v6m1-40v2m0 38v2m0 4v2m2-46v2m0 40v2m1-44v2m1-2v2m1 50v2m2-34v2m1-14v2m1 0v2m1-4v2m0 4v2m7-16v2m1-6v2m1 0v2m0 10v2m1-14v2m0 14v2m1-16v2m0 14v2m3-14v2m2-6v2m1-4v2m1-4v2m0 22v2m1-4v4m1-4v2m1-2v4m1-4v2m1-20v2m0 16v2m1-18v2m0 16v2m1-20v2m0 18v2m2-22v2m0 8v2m0 8v2m1-22v2m0 8v4m1-10v6m0 2v2m1-8v2m0 4v2m1-6v2m3-8v8m1-12v2m0 6v2m1-8v2m0 2v2m0 2v4m1-12v2m0 10v2m2-12v4m0 8v4m1 0v2m1-4v2m1-4v2m1-12v2m0 8v4m2-14v2m0 12v2m1-14v2m0 8v2m1-12v2m1 0v4m0 4v2m1-4v4m20-8v2m1-4v2m0 2v4m1-16v8m0 8v2m1-2v2m2-16v2m0 14v2m1-18v2m0 14v2m1-18v2m0 14v2m1-18v2m1-2v4m1-6v2m2 50v2m1-54v4m0 16v2m0 32v2m1-4v2m1-50v2m0 14v2m0 34v2m1-52v2m0 12v2m1-6v4m0 32v2m1-40v2m0 38v2m1-48v2m0 2v2m1-8v2m0 2v2m1-6v2m1 0v2m1-2v2m1-4v4m142-16v8m1-8v2m0 4v2m2-6v2m0 2v2m1-6v2m0 2v2m9-4v4m1-6v2m1-4v2m2 8v2m1-12v2m0 10v2m1-14v2m2-2v2m0 10v2m4-14v2m4 8v2m2-4v2m1-2v2m1-2v2m2-10v2m2 4v2m1-4v2m20-6v2m2-4v2m2-2v2m1 2v2m6-2v2m2-4v2m3-2v2m1-2v2m0 2v2m2-6v2m0 2v2m1-6v2m1 0v2m1-2v2m1 2v2m1-6v2m1 2v2m1-6v2m0 2v2m1-6v4m2 0v2m1-2v2m4-2v2m1-6v4m0 4v2m1-2v2m1-6v4m2-10v4m0 2v4m1-8v2m0 6v2m1-10v2m1-2v2m1 10v2m1 0v2m1-10v2m0 8v2m1-10v4m1-2v2m3-2v2m1 0v2m1-6v6m4-10v2m0 2v4m1 0v2m1-8v2m0 6v2m1 0v2m1-14v4m1-4v2m0 12v2m1-14v2m0 8v2m1-14v2m0 10v2m1-14v2m0 10v2m1 0v2m1-16v2m1 12v2m1-16v2m0 14v2m1-18v2m0 14v2m1-18v2m0 14v4m1-2v2m2-2v2m1-16v2m0 8v4m1-12v2m0 6v2m1-4v4m1-4v6m1-4v2m4-6v4m8-6v2m1-2v2m0 4v2m1-6v2m0 4v2m1-8v6m1-4v4m4 0v4m1-12v2m0 8v4m1-4v2m2-6v2m1-2v4m2 0v2m5-2v6m1-14v4m0 2v2m1-6v4m1 0v4m0 6v2m2-12v2m1-4v2m0 10v2m1-16v2m1 2v2m0 10v2m1-12v2m0 8v2m1-12v2m0 8v2m2-2v2m1-2v2m1-14v2m0 8v2m1-16v2m0 12v2m1-18v2m0 18v2m1-20v2m0 18v2m1-20v2m1-2v2m0 16v2m1-22v2m0 20v2m2-30v8m0 20v2m1-30v4m1-4v2m0 28v2m2-38v2m0 2v4m0 28v2m1-34v2m1-2v2m0 2v2m0 24v4m1-36v2m0 4v2m0 28v2m2-38v2m1 0v2m1 2v2m0 26v2m1-28v2m1-2v2m1-2v2m1-14v8m0 30v2m1-38v10m0 2v4m1-2v2m1-10v2m0 22v4m1-6v6m1-24v2m0 14v8m1-40v2m0 16v2m0 14v4m0 2v6m1-42v2m0 6v2m0 26v6m1-46v2m0 6v6m0 8v2m0 20v2m1-44v2m0 14v12m0 14v2m1-22v2m0 2v4m1 0v4m0 2v2m1 0v2m2-28v2m0 22v2m1-46v2m0 18v4m1-26v2m0 26v2m0 18v2m1-20v2m0 16v4m1-42v2m0 10v2m0 8v2m1-4v2m0 2v2m0 10v2m0 2v2m1-20v2m0 8v2m0 2v8m1-20v2m2-8v2m0 8v2m0 22v2m1-24v2m0 20v2m1-30v2m2 4v2m1-22v4m1-2v2m0 2v2m0 2v4m1-4v4m1-26v10m0 6v2m0 4v2m1-24v2m0 2v6m1-24v2m0 4v8m0 10v4m0 4v6m0 4v2m1-30v4m0 26v4m1-28v8m0 16v4m1-18v2m0 12v4m0 4v4m1-62v4m0 56v4m1-68v2m0 6v6m0 50v4m0 2v4m1-66v4m0 50v6m0 6v2m1-6v2m1-2v2m2 8v6m1-86v2m0 84v2m1-88v2m0 82v4m1-4v4m1-2v2m0 2v2m1-4v4m1-2v2m2-96v2m3 4v2m0 2v2m0 70v2m1-74v4m1 0v6m1-14v14m0 72v2m0 2v2m1-90v2m0 6v4m1-14v2m1-2v2m1-14v12m1-16v4m0 82v2m1-26v2m0 22v2m2-2v2m3-94v2m0 90v2m1-2v2m1-20v6m1-4v6m0 2v10m1-18v4m0 4v2m0 2v6m1-8v8m1-96v2m0 86v14m1-4v4m1 4v2m2 0v2m1 0v2m1-98v2m1-2v2m0 104v2m2-10v2m1 8v2m3-108v2m0 108v2m1 0v2m1-2v2m2 4v2m4-114v2m1-2v2m0 116v2m1-118v4m1 2v6m0 106v2m1-116v2m0 8v2m1-12v2m0 6v12m1-26v6m0 14v4m0 2v4m0 36v2m1-34v4m0 26v2m0 4v2m0 14v2m0 34v2m1-126v2m0 34v2m0 4v2m0 82v2m1-90v2m0 2v2m0 64v4m0 14v2m1-114v4m0 22v8m0 66v2m0 8v2m1-106v2m0 2v2m0 86v2m0 2v2m1-92v2m0 12v2m0 22v2m0 48v2m1-110v4m0 6v2m0 20v4m1-24v12m0 8v2m0 26v2m1-38v8m1-30v2m0 28v2m0 22v4m0 20v4m1-50v8m0 16v4m0 16v4m1-44v2m0 2v2m0 34v4m0 34v2m1-72v4m0 14v2m0 8v2m0 6v2m1-38v2m0 2v2m0 10v2m0 12v2m1-22v2m0 20v2m0 2v4m1-32v2m0 2v4m0 4v2m0 16v4m1-32v2m0 2v2m0 24v6m1-84v2m0 52v2m0 6v2m0 16v2m1-28v2m0 8v2m1-62v6m0 46v2m0 6v2m1-50v2m0 40v4m0 6v2m1-50v4m0 38v2m0 2v2m0 2v2m1-58v2m0 54v4m1-70v10m0 6v2m0 6v2m1-10v2m0 6v2m1-6v6m0 10v2m1-16v2m0 6v8"/>
<path stroke="#b6ff49" d="M133.5 376v2m1-2v2m3-2v2m1-4v2m0 2v2m1-6v2m0 2v2m1-6v2m0 2v2m1-6v2m1-2v2m0 2v2m1-6v2m1 0v2m3-2v2m1-4v2m1 0v2m1-2v2m83-2v2m25-4v2m32-12v4m1-12v2m0 2v2m0 6v2m1-8v2m0 6v2m1-20v2m0 8v2m1-12v4m0 2v2m1-6v2m0 2v2m0 4v2m0 6v2m1-14v2m0 12v2m1-20v2m0 18v2m1-20v2m0 14v2m1-16v2m0 12v2m1-14v2m0 2v6m0 2v2m1-8v8m1-2v6m1-24v4m1-16v6m0 4v2m1-14v2m0 20v2m1-24v2m0 18v2m1-20v2m0 20v4m1-26v2m0 24v2m1-28v2m0 26v2m1-28v2m0 26v2m1-32v2m1 30v2m2 2v2m1-36v2m1 2v2m0 30v2m1-2v2m1-32v2m0 30v2m1-2v8m1-38v4m1-4v2m0 34v2m1-4v10m1-10v4m1-4v2m0 10v2m1-46v2m0 32v2m0 2v2m1-38v2m0 38v8m1-48v4m0 34v2m0 8v2m1-50v2m0 40v2m1-42v2m0 24v6m1-30v2m0 22v2m0 4v4m0 2v10m1-44v4m0 18v2m0 4v4m0 8v4m1-42v2m0 28v2m1-40v2m0 2v2m0 2v4m0 14v2m0 10v4m1-42v4m0 2v6m0 10v2m0 18v2m1-44v2m0 18v2m1-20v2m0 16v2m0 24v2m1-4v4m2-46v2m0 14v2m1-16v2m0 12v2m1-14v2m2 6v2m1 0v2m1 0v2m7-22v2m0 2v4m2-6v2m2 0v2m1 0v2m2-4v2m0 18v2m1-16v6m0 10v2m1-26v2m0 6v2m0 8v2m0 2v2m1-26v2m0 18v2m2-4v2m1-22v2m2 4v2m1 0v2m2 16v2m1-14v2m0 2v2m0 2v4m1-18v8m1 0v2m1-4v4m5-12v2m0 2v2m1-4v2m0 2v2m1-6v2m1-2v2m0 8v2m1-8v4m1-6v2m0 10v2m1-16v2m0 10v2m1-12v2m1 0v2m1-2v2m0 8v2m1-12v4m0 6v2m1-10v2m1 4v2m1-4v4m22-6v2m1-4v2m0 4v2m1-14v2m1-2v2m5 2v2m0 12v2m1-20v8m0 10v2m1-22v6m1-6v4m1 48v2m1-50v2m0 14v2m0 32v2m1-2v2m1-4v2m0 2v2m1-50v2m0 44v6m1-52v4m0 44v6m1-52v2m1-4v2m1-2v2m146-14v2m1-2v4m1-2v2m1-2v2m10 0v2m1 0v2m1-2v2m1-10v2m3 0v2m0 8v2m1-12v2m1 6v2m1-10v2m0 6v2m1-10v2m0 6v2m1-10v2m0 6v2m1-14v2m0 10v2m3-12v2m2 0v2m1-2v2m1-4v2m1-2v2m1 6v2m1-8v2m0 2v2m1-6v4m22-6v4m1-2v2m1-6v2m2 0v2m1-4v2m1 2v2m1-4v4m2-2v2m3-2v2m1-2v2m1-2v2m1-2v2m2-4v2m0 2v2m1-4v2m1 0v2m1-2v2m1-2v2m1-4v2m1 0v2m1-2v2m9 2v2m1-4v4m1-4v4m3-6v2m2 6v2m1 0v2m1-12v2m1 0v2m1 8v2m1-4v2m5-4v2m5-6v2m1-2v6m1-4v6m1-6v2m1-2v2m0 6v2m1-12v2m2-2v2m2-4v2m0 10v2m1 0v2m1-14v2m1 10v2m3 0v2m1-16v2m0 14v2m1-16v2m1 6v2m2-6v4m14-2v4m1-4v4m1-2v4m6-6v6m1-6v2m0 2v4m1-8v2m1 0v2m0 4v2m1-4v4m1-2v2m1-6v4m7 0v2m0 2v2m1-8v2m0 4v4m2-8v2m2-4v2m1-4v4m1 0v2m0 6v2m1-8v8m1-8v4m0 2v2m1-8v2m0 6v2m1-10v2m1-4v4m0 4v2m1-4v2m1-12v4m0 6v2m1-14v2m0 14v2m1-16v2m0 14v2m1 0v2m1-18v2m1-4v2m1-4v2m0 20v2m1-22v8m1-12v4m0 2v4m0 8v8m1-28v2m0 22v4m1-30v4m0 24v4m1-30v2m0 2v2m0 16v6m1-30v2m0 4v4m0 14v2m1-22v2m0 20v2m1-30v2m0 4v2m1-10v2m0 2v2m1-4v2m4 6v2m1-2v2m0 2v2m0 18v2m1-26v2m1 2v4m0 16v2m1-36v12m0 2v4m0 16v2m1-30v2m0 2v6m0 4v8m0 4v2m0 2v2m1-30v2m0 10v6m0 6v6m1-28v2m0 20v6m1-26v4m1-2v2m0 14v2m1-34v2m0 16v2m0 14v4m1-28v2m0 12v2m1-28v2m0 12v6m0 2v2m0 4v6m0 6v2m1-38v2m0 12v2m0 2v6m0 8v2m1-30v2m0 8v4m0 2v4m0 10v4m1-18v4m1-16v2m0 8v12m1-20v2m0 18v2m1-46v2m0 4v2m0 36v2m1-42v2m0 8v2m1-6v2m0 32v2m1-34v2m0 12v2m0 6v2m1-20v2m0 24v2m1-22v4m3 4v2m1 8v2m1-6v2m0 4v2m2-2v2m1-22v2m0 2v2m1-8v8m1-12v6m1-6v2m0 4v2m1-30v4m0 22v4m0 6v4m1-46v2m0 30v10m0 2v2m1-14v10m1-44v4m0 28v4m0 2v4m1-38v8m0 22v2m0 14v4m0 2v4m1-62v6m0 6v2m0 44v2m0 6v2m1-70v2m0 10v2m0 38v4m0 2v4m0 6v6m1-54v2m0 30v4m0 12v2m2-12v2m0 10v4m1 0v2m1-10v2m0 8v10m1-84v2m0 68v4m0 4v4m1-86v4m0 80v2m1-86v4m1-4v2m0 86v2m1-10v2m0 8v2m1 0v2m3-96v2m1 6v2m0 76v2m0 4v2m1-80v4m0 60v2m0 10v2m0 2v4m1-78v2m0 74v2m1-78v2m0 72v2m1-86v6m0 4v4m1-8v4m0 56v2m1-38v2m0 34v2m1-72v2m0 68v2m1-84v14m0 44v2m1-4v2m0 2v4m1-14v14m0 18v2m1-34v6m0 8v2m1-14v2m0 8v6m1-6v4m1-2v2m0 8v2m1-12v6m0 6v2m1-8v2m0 2v10m1-12v2m1-86v2m0 80v4m1-86v2m0 4v4m0 68v2m0 6v2m2 2v8m0 4v4m1-14v2m0 4v8m1-92v2m0 90v2m2-92v2m0 6v4m0 86v2m1-100v2m0 6v6m0 76v2m0 4v2m1-98v4m0 6v4m0 74v6m1-94v4m0 8v4m0 4v2m0 40v6m0 24v4m1-76v2m0 72v2m2-96v2m3 108v2m2 2v2m1-116v2m0 110v4m4 6v2m2-112v2m0 110v2m1-106v2m1 2v6m0 64v2m0 2v2m1-68v2m0 66v2m1-90v2m0 4v2m0 4v2m0 10v2m0 32v2m0 2v2m1-72v2m0 24v4m0 2v4m0 4v2m0 40v6m1-86v6m0 100v4m0 10v4m1-90v2m0 6v4m0 16v2m0 46v2m0 10v2m1-88v2m0 8v4m0 12v2m0 44v2m0 10v2m1-102v2m0 16v12m0 12v2m0 44v2m0 6v4m1-94v2m0 12v4m0 6v2m1-44v6m0 18v2m0 6v4m1-40v2m0 28v2m0 2v4m1-20v4m0 12v4m0 18v4m0 50v2m1-82v2m0 6v4m0 36v2m0 32v2m1-82v2m0 8v2m0 12v2m0 16v2m0 6v2m0 30v2m1-82v2m0 4v2m0 2v2m0 12v2m0 2v2m0 48v2m1-72v4m0 32v4m1-34v2m0 30v4m1-34v4m0 4v6m1-12v2m0 8v4m1-58v4m0 50v2m0 4v2m1-60v2m0 46v4m0 28v2m1-82v2m0 2v4m0 48v4m1-52v2m0 8v2m1-4v4m0 44v2m1-52v4m0 4v2m0 42v2m1-50v10m1-28v2m0 26v2m0 32v2m1-54v2m0 2v4m0 46v2m1-46v2m0 6v4m0 4v2m0 2v2m0 24v2m1-28v2m0 24v6"/>
<path stroke="#c7ff38" d="M138.5 376v2m1-2v2m1-2v2m1-2v2m1-2v2m1-2v4m1-2v2m4-4v2m143-16v2m1 4v2m1-2v4m1-10v8m0 2v2m1-18v2m0 8v6m1-16v4m0 2v4m0 2v6m1-16v2m0 12v4m1-16v2m0 10v2m1-12v10m1-8v2m0 6v2m1-10v4m3-12v8m1-10v6m0 2v2m1-20v2m1 0v2m0 16v2m1-20v2m0 20v2m3-24v4m1-6v2m1 0v2m0 28v2m1-32v2m0 30v2m1-32v2m0 30v2m1-30v2m1-2v2m1 0v2m0 26v2m1-28v2m0 24v2m1-26v2m0 24v8m1-34v6m0 24v2m1-34v2m0 2v4m1 6v2m1-16v2m0 18v2m1 2v4m0 4v2m0 6v8m1-26v8m0 2v10m1-36v2m0 14v4m0 12v2m1-36v4m0 20v4m0 10v2m1-38v2m0 20v2m0 6v4m0 4v4m1-38v2m0 28v2m1-8v2m1-24v2m0 20v6m1-26v2m1-10v2m1-4v2m0 14v2m0 20v6m1-42v2m0 38v2m1-44v2m1-2v2m3 4v2m1 0v4m0 4v2m1-4v4m1-2v2m8-20v2m1-2v4m0 2v4m1-8v2m1-2v2m1 0v2m0 10v2m1 0v2m1-14v2m0 12v2m1-18v2m0 2v4m1-10v6m0 6v6m0 2v2m1-22v6m0 2v2m0 2v4m0 2v2m1-22v6m0 2v2m1-14v4m0 2v6m0 8v2m1-22v2m0 16v2m1-2v4m1-20v2m0 16v2m1-14v2m0 10v2m1 0v2m1-16v2m0 14v2m1-18v2m0 6v2m0 6v2m1-18v6m0 6v2m8-14v2m2 0v8m1-8v8m1-2v4m1-12v2m0 2v6m0 2v2m1-12v2m0 6v2m1-8v2m0 4v2m2-6v4m0 2v2m1-6v6m1-6v6m1-8v4m24 0v2m1-10v2m0 8v2m1 0v2m1-14v2m1-2v4m1-4v2m1-2v2m0 12v2m1-12v4m1-2v2m1-6v4m1-6v2m0 14v2m1-18v2m0 12v2m1-14v2m0 10v2m1-14v2m0 10v2m1-12v2m0 8v2m0 34v2m1-42v2m1-4v2m149-16v2m13-2v2m1-4v2m1-4v2m2 8v2m1-2v2m2-8v2m0 4v2m1-10v2m2 0v2m0 2v2m1-6v2m1-6v2m1-2v2m0 6v2m1-10v2m2 0v2m0 4v2m1-6v4m1-2v2m1-6v2m0 2v2m1 0v2m1-8v2m0 2v2m1-4v2m24-6v2m1-2v2m1-2v2m3-2v2m2-2v2m8 0v2m1-2v2m2-2v2m3 0v2m3-2v2m14-2v4m1-4v2m1-2v2m2 2v2m0 4v2m1-6v6m14-4v2m0 2v2m1-6v2m1-4v4m0 4v2m1-10v2m0 4v2m1-8v2m0 4v2m1-10v2m0 6v2m2-10v2m2-2v2m1 10v2m1-2v2m1-14v2m0 10v2m2-2v4m1-12v2m0 2v2m1-4v6m24-2v2m1-2v6m1-4v2m3 2v2m7 0v2m1-4v2m1 0v6m2-8v2m1-2v2m0 4v2m1-8v10m1-8v6m2-2v2m1-4v2m0 2v2m1-2v2m1-6v4m1-8v6m1-2v2m1-10v4m0 8v2m2-12v2m0 12v2m1-14v2m0 10v2m1-16v8m1-10v12m0 2v2m0 2v2m1-12v12m1-20v2m0 4v8m1-18v2m0 4v16m1-22v2m0 4v2m0 6v10m1-24v2m0 2v2m0 12v2m1-22v4m1 0v4m1 2v2m0 14v4m1-34v2m0 2v4m0 8v2m0 14v2m1-32v2m1-2v2m0 28v2m1-28v4m0 20v2m1-24v2m0 22v2m1-2v2m1-24v2m0 2v4m1-8v8m0 12v2m1-16v2m0 2v2m1-6v8m0 2v2m0 2v2m1-26v2m0 6v4m0 14v2m1-26v8m1-6v4m0 4v4m1 0v2m1-34v4m0 20v2m0 10v2m1-36v4m0 20v4m1-18v4m0 16v2m0 6v4m1-6v6m1-24v2m0 2v2m0 16v4m1-26v2m0 4v2m1-14v2m0 8v4m1-4v2m1 6v6m1-42v4m0 22v2m1-24v8m0 30v2m1-28v2m0 12v2m1-10v2m0 10v2m1-10v2m2-4v2m1 0v2m2 4v2m7-18v4m2-36v2m0 2v2m0 12v2m0 24v2m0 2v2m1-50v4m0 20v2m0 18v6m1-20v2m0 10v2m0 4v2m1-18v2m0 2v8m0 4v2m0 4v2m1-6v2m0 2v2m1-54v2m0 6v10m0 26v2m0 4v2m1-52v8m0 4v2m0 2v2m0 26v2m0 4v12m1-66v2m0 54v2m0 8v2m1-14v2m0 2v6m1-64v2m0 56v6m0 4v4m1-72v2m0 58v4m0 2v8m1-72v2m0 4v4m0 52v6m0 4v4m1-78v4m0 6v4m0 2v2m0 48v10m0 2v2m1-80v2m0 8v2m0 2v6m0 48v6m1-76v2m0 6v2m0 6v4m0 56v2m1-80v2m0 14v4m0 58v2m0 2v2m1-4v4m1-2v2m0 8v2m1-96v2m0 92v2m1-94v10m0 72v2m0 4v6m1-24v4m0 4v2m0 6v2m0 4v2m1-78v2m0 52v2m1-52v6m0 48v2m1-56v6m0 48v2m1-54v8m0 44v2m1-70v2m0 4v2m0 4v2m0 14v4m1-32v2m0 28v2m0 2v4m1-38v2m0 32v4m1-8v6m0 6v2m0 22v2m1-86v4m0 4v8m0 34v4m0 4v2m1-8v2m0 14v2m1-18v2m0 6v8m0 2v4m1-20v2m0 2v2m0 2v4m0 6v2m1-18v2m0 12v10m1-14v2m0 2v4m0 2v2m0 2v2m1-8v6m0 2v2m1-92v2m0 82v2m1-86v2m0 74v2m1-2v2m1-74v2m0 74v6m1-76v2m0 74v2m1 0v2m1-2v4m0 2v4m1-2v10m1-8v6m1-84v4m0 4v2m0 70v10m0 8v2m1-98v2m0 78v4m0 2v4m0 2v4m1-98v6m0 4v4m0 44v2m0 30v4m0 2v2m1-98v8m0 4v4m0 68v4m0 4v2m0 4v4m1-94v8m0 2v2m0 42v2m0 24v2m0 4v8m1-10v2m1 8v2m1 0v2m3 0v2m1 0v2m1 2v2m3-112v2m0 112v2m2-114v4m0 110v2m1-110v6m1 76v2m2 28v2m1-114v4m0 2v4m0 14v2m0 52v2m0 8v2m0 22v2m1-122v6m0 34v2m0 30v2m0 4v2m0 24v2m0 14v2m1-116v2m0 20v2m0 32v2m0 46v2m0 6v2m1-8v2m0 4v4m1-106v2m0 16v2m0 78v2m0 2v2m1-96v2m0 8v4m0 12v4m1-20v4m0 6v6m0 2v2m1-26v4m0 2v2m0 26v2m0 48v2m1-108v4m0 4v2m0 26v2m0 16v2m1-42v2m0 4v2m0 14v2m1 70v2m1-82v2m0 12v2m0 30v2m1-46v2m0 2v2m0 18v2m0 2v2m0 10v2m0 2v2m1-74v2m0 44v2m0 6v2m0 2v2m0 12v2m1-72v2m0 6v2m0 38v2m0 2v4m0 16v2m1-74v2m0 6v4m1-12v8m1-2v2m0 40v2m0 10v2m1-56v6m0 46v2m0 2v2m1-58v2m0 4v2m0 38v4m0 8v2m1-52v8m0 10v4m0 20v2m1-34v4m1 0v2m0 32v2m1-46v4m0 10v4m0 28v2m1-68v6m0 12v6m0 12v2m1-30v8m0 2v2m0 14v4m0 4v4m0 22v2m1-54v2m0 6v2m0 12v4m0 14v2m0 12v2m1-44v2m0 18v10m0 10v4"/>
<path stroke="#d8ff27" d="M291.5 364v4m1-4v4m1-4v4m1 2v2m2-6v2m1-8v4m0 4v4m1-10v2m0 4v4m1 0v2m6-22v2m0 6v2m1-2v2m1 0v2m1-16v2m1-4v2m1 0v2m0 22v2m1-24v2m0 22v2m1-30v4m2 26v2m1 0v2m1 0v2m1-2v2m1-2v2m1-2v2m1 0v2m1-28v2m0 6v2m0 20v2m1-24v2m0 20v2m1-32v2m0 10v2m0 2v2m0 2v2m0 8v2m1-18v6m0 2v2m0 6v2m1-30v2m0 16v4m0 4v4m1-28v2m0 14v2m0 8v2m1-24v4m0 8v2m0 4v12m1-30v4m0 14v2m0 4v10m1-34v4m0 14v2m0 12v4m1-36v2m0 2v2m1-2v2m0 2v6m1-8v10m0 4v2m1-14v2m0 8v2m1-14v2m0 4v4m0 18v2m1-38v8m0 2v4m1-12v2m0 10v2m1-16v4m0 10v2m1-16v2m0 12v2m1-16v2m1 0v2m1 10v2m1-6v2m11-12v2m1 6v2m1-10v2m0 8v2m2-10v2m1 0v2m1-4v2m0 4v4m0 4v2m1-2v2m1-10v2m1-8v2m0 2v8m1-18v2m0 6v8m1-4v2m2-14v2m0 12v2m2 0v2m1-12v8m1-8v6m14 2v2m1-8v6m1-4v2m1-2v6m1-2v2m3-2v2m24-4v2m1 0v2m1-10v2m0 6v4m1-10v6m1-4v4m1-6v4m1-4v2m1 4v2m1-2v2m1-4v2m0 8v2m1-16v4m0 8v2m1-14v2m2 0v2m0 6v2m1-2v2m1-8v4m164-16v4m1-6v2m0 2v2m1-6v2m0 4v2m1-8v4m1-4v2m1 0v2m0 2v4m1-6v4m1-6v6m1-6v6m1-4v2m1-2v4m1-8v2m0 4v2m4-6v2m2-2v2m2-4v2m0 2v2m1-4v2m29-6v4m3-2v2m31 4v2m1-4v2m0 2v2m1-6v2m1-2v2m0 4v2m1-4v4m15 0v2m1-2v4m1-4v4m1-6v4m1-4v4m1-6v6m1-8v2m0 4v4m1 0v2m1-10v2m0 6v2m1-10v2m0 6v2m1-12v2m0 6v4m1-12v2m0 6v4m1-4v4m1-10v2m0 2v10m1-12v8m1-6v2m27 6v2m11 2v2m2-2v2m0 2v2m1-2v2m1-6v4m5 0v2m1-4v4m3-8v4m1-4v2m0 2v4m1-10v2m1 0v2m2 4v2m0 6v2m1-8v2m0 2v2m3-20v4m1-4v4m0 2v6m1-8v2m0 8v2m1-12v2m0 10v2m1-14v2m0 12v2m1-20v6m0 2v4m1-12v8m0 2v2m1-16v6m0 12v4m0 6v2m1-30v2m0 18v6m1-2v2m1 0v2m1-22v8m0 12v2m1-2v2m1-14v2m0 8v2m1-12v2m0 2v2m0 2v2m0 2v2m1-8v2m0 2v2m2-14v2m1-4v4m1-4v2m0 2v4m1-6v6m0 2v2m1-6v2m0 6v2m1-36v2m0 4v2m0 22v4m1-32v2m0 8v2m1-8v4m0 4v2m2 2v2m2-4v2m0 8v2m1 2v4m1-14v2m1-20v2m0 2v2m1-4v2m0 6v2m0 14v4m1-24v2m1 10v2m1 0v2m1 0v2m4 4v2m7-50v2m0 4v6m1-14v2m0 14v4m1-20v2m0 38v4m1-18v2m0 12v4m1-36v2m0 20v2m0 2v2m0 4v6m0 2v2m1-56v4m1-4v4m0 8v4m1-14v2m0 10v6m0 32v4m0 2v8m1-66v2m0 20v8m0 34v4m1-66v2m0 50v4m0 6v4m1-66v4m0 2v6m0 44v2m1-56v4m0 4v8m0 6v4m1-26v6m0 4v2m0 2v2m0 56v2m1-76v8m0 2v2m0 6v2m0 44v2m0 6v2m0 4v4m1-84v6m0 2v6m0 4v2m0 52v2m0 2v2m0 4v2m1-86v2m0 2v10m0 4v4m0 60v6m1-80v12m0 62v2m0 4v2m1-8v2m1-42v4m1-4v8m0 18v4m1-64v6m0 32v2m0 2v4m0 20v2m0 10v2m1-22v2m0 2v4m0 14v2m1-34v2m0 30v4m1-68v4m0 32v2m1-34v6m1-28v4m0 8v6m0 4v4m0 4v2m1-30v8m0 16v2m1-28v4m0 24v4m0 30v4m1-68v2m0 26v2m0 6v6m0 4v2m1-62v4m0 8v2m0 26v6m0 4v4m1-8v2m2 0v2m0 6v2m0 12v2m1-22v2m0 2v8m1-10v2m0 6v2m0 8v2m1-82v2m0 64v2m0 4v2m1-8v8m1-2v2m2-74v2m0 72v2m1 2v6m1 0v2m1-4v4m1 0v8m1-80v2m0 4v6m0 68v2m0 6v4m1-90v2m0 54v4m0 18v4m1-82v4m0 8v2m0 44v4m1-46v2m0 40v2m0 2v2m0 20v2m0 10v2m0 2v2m1-82v2m0 44v2m0 16v2m0 10v4m1-102v4m0 4v4m0 12v2m0 42v4m1-50v2m0 70v2m0 2v2m1-26v2m0 2v2m5 30v2m1-2v2m1 6v2m4-108v2m2 80v2m0 28v2m1-2v2m1-92v2m0 34v2m0 20v2m0 30v2m1-84v2m0 80v2m1-114v2m0 10v6m0 38v2m0 10v4m0 28v4m0 8v2m1-94v2m0 2v4m0 8v2m0 68v2m0 2v2m1-110v4m0 36v2m0 66v2m1-100v2m0 96v2m2-88v4m0 20v2m0 54v2m1-68v4m0 2v10m0 50v2m1-102v4m0 42v4m0 2v2m0 48v2m1-108v4m0 4v6m0 24v2m0 10v4m1-52v2m0 12v4m0 2v6m0 12v2m0 8v4m1-28v2m0 82v2m1-84v2m0 14v4m0 24v2m0 38v2m1-78v4m0 12v4m0 2v2m1-54v2m0 6v2m0 24v4m0 6v2m0 2v2m1-50v2m0 2v2m0 4v2m0 26v4m1-36v4m0 28v2m1-34v2m0 36v2m0 10v2m1-48v2m0 36v2m0 8v2m1-48v2m0 14v2m1-8v8m0 4v2m0 12v6m1-28v4m0 2v4m0 14v2m0 4v2m1-30v2m0 28v2m1-18v6m1-54v2m0 38v2m0 10v4m0 12v2m1-70v6m0 2v2m0 30v4m0 10v2m0 12v2m1-70v2m0 6v10m0 2v6m0 24v2m0 4v2m0 2v2m0 8v2m1-64v8m0 12v2m0 30v4"/>
<path stroke="#e9ff16" d="M297.5 364v4m1-4v4m7-24v8m1-6v2m0 10v2m1-12v2m1 16v2m1-20v6m0 16v2m1-22v2m1 0v2m1-4v4m0 20v2m1-2v2m1-28v2m0 24v2m1-26v4m0 20v4m1-24v2m0 22v2m3-22v2m1 0v4m1 2v2m1-10v2m0 6v6m1-8v4m0 6v2m0 2v2m1-12v2m0 10v2m2-20v2m1 4v2m1 8v4m1-14v2m1 0v4m0 2v2m0 6v2m1-16v2m0 6v4m0 2v2m1-6v2m1-8v8m1-10v4m1-6v2m1-6v2m1-2v2m0 6v2m1-12v2m0 6v4m1-6v6m1-10v2m0 2v6m1-8v4m1 2v2m12-14v2m0 4v2m3-4v2m0 6v2m2-2v4m5-22v14m1-14v2m0 12v2m1-12v2m1 10v2m1-10v2m1 10v2m1-6v2m0 2v2m16-8v2m30-6v6m1-6v6m3-2v2m1-4v4m1 2v2m0 2v2m1-6v6m1-8v2m1-4v4m0 2v2m1-10v2m0 6v2m1-10v2m0 4v4m1-8v2m0 2v2m1-6v2m0 2v2m166-18v2m1-2v4m1-2v4m1-6v2m0 2v2m1-4v2m6-4v4m1-6v2m0 2v2m1 0v2m1-2v2m1-4v2m3-4v2m1-2v2m65 2v2m2-2v4m22-2v4m1-4v4m1-2v2m1-2v2m0 2v2m1-8v2m0 2v2m1-6v2m1-2v2m0 2v2m1-4v2m42 14v2m1-4v4m11-4v2m1-4v2m0 4v6m1-8v8m1-10v6m0 2v2m1-4v6m6-14v2m0 4v2m1-8v2m0 6v2m1-10v2m1 10v4m1-10v8m0 2v2m1-22v2m0 8v2m0 4v4m1-24v6m0 10v2m0 6v2m1-22v4m0 2v6m0 2v4m1-18v4m0 2v6m1-4v4m1-4v2m0 8v2m1-10v8m1-4v2m0 2v2m5-14v2m1 4v2m1-2v6m1-32v4m0 28v2m1-32v2m0 2v4m1-2v4m1-4v2m0 2v2m1-4v2m0 2v2m1-4v2m0 2v2m1 4v2m1 2v2m1 2v2m1-30v2m0 18v2m1-20v2m0 2v2m0 20v2m1-24v2m0 4v2m1-2v4m1-2v2m1 0v2m1 0v2m0 2v2m1 0v2m1-2v4m1 0v2m7-50v2m2-4v6m0 12v6m1-18v2m1 4v2m0 16v2m0 2v4m1-24v2m0 20v4m1-26v2m1-20v10m0 6v10m1-28v20m0 8v2m0 20v2m1-50v8m0 12v4m1-22v2m0 6v6m0 6v8m0 2v2m1-18v2m0 8v8m0 22v4m1-44v2m0 4v2m1-6v4m0 50v4m1-60v6m0 42v2m0 8v4m1-82v2m0 18v4m0 2v2m0 2v2m1-36v10m0 12v10m0 4v4m0 38v2m0 6v4m1-72v10m0 8v2m0 42v2m0 4v2m0 2v2m1-44v2m0 20v2m0 12v2m0 4v2m1-40v4m0 18v2m0 4v2m0 2v4m1-72v2m0 32v2m0 16v2m0 4v2m1-28v10m1-2v2m0 2v2m0 8v4m1-16v4m0 2v4m1-4v4m1-42v4m0 38v2m1-62v2m0 8v2m0 4v2m0 2v6m0 34v4m1-60v2m0 10v2m0 8v2m0 8v4m0 18v4m1-60v2m0 20v2m0 20v2m0 14v2m1-50v6m0 28v2m0 12v4m1-88v2m0 8v6m0 28v8m0 20v4m1-24v2m1 26v2m0 4v2m1-2v2m1-28v6m0 18v4m1-30v4m0 2v4m0 18v2m2-92v2m0 64v6m1-72v4m0 68v2m1-2v2m1 2v2m1-68v2m0 64v8m1-72v2m0 62v6m1 2v2m1-70v4m0 6v2m0 44v2m0 12v8m1-66v2m0 46v2m0 10v6m0 20v2m1-86v2m0 46v2m0 18v2m0 16v2m1-84v2m0 44v2m0 16v2m1-62v2m0 34v2m0 8v2m0 10v4m1-82v4m0 18v4m0 32v4m0 6v2m0 12v6m1-90v2m0 10v8m0 2v6m0 38v8m0 16v2m0 6v2m0 2v2m1-34v2m0 2v2m1-42v4m0 34v6m1-40v2m0 66v2m4-108v2m1 0v2m0 106v4m3 4v2m2-102v2m0 100v2m1-102v6m0 94v2m1-94v2m0 68v2m1-66v2m0 34v2m0 48v2m1-84v2m0 26v2m0 6v2m0 10v4m0 12v8m0 8v4m1-102v2m0 92v8m1-110v2m0 14v2m0 18v2m0 68v2m1-104v6m0 14v2m0 12v2m0 66v2m1-96v2m0 28v2m0 8v2m1-36v2m0 2v2m0 28v2m1-34v2m0 28v4m1-14v2m0 10v2m1-18v4m0 6v2m1-46v2m0 42v2m1-46v2m0 4v6m0 4v2m0 20v2m1-26v4m0 2v2m0 18v2m0 6v2m1-32v6m0 24v2m1-50v2m0 22v8m0 14v2m1-44v4m0 4v2m1-10v2m0 8v4m1-4v2m0 22v2m0 4v2m1-36v2m0 28v2m1-28v2m0 8v2m1-10v10m0 2v2m0 2v4m0 12v4m1-14v2m0 8v2m1-18v2m0 4v2m0 10v2m0 2v4m1-26v8m0 2v4m0 6v4m1-20v2m0 24v2m1-26v2m0 6v2m0 14v2m1-62v2m0 40v6m0 2v4m0 4v4m1-62v2m0 44v4m0 6v2m0 4v2m1-70v2m0 4v2m0 8v2m0 6v4m0 38v4"/>
<path stroke="#f9ff06" d="M306.5 356v2m1 2v2m1-12v2m0 12v2m1-12v2m0 12v2m1-18v4m1-2v2m1-2v2m1-8v2m2 4v2m0 16v2m1 2v2m1-24v2m0 22v2m1-24v2m0 20v2m2-16v2m0 14v2m1 0v4m2-28v2m0 20v2m1-24v2m0 22v4m1-12v2m2-6v6m1-8v4m0 4v2m1-8v2m0 8v2m1-8v2m0 2v6m1-2v2m1-2v2m4-16v2m0 2v4m1-8v2m1-4v2m0 2v2m1-8v2m0 2v2m1-2v2m1 2v4m13-12v2m1-2v2m0 4v2m1-8v2m0 6v2m1-2v2m1-6v10m7-20v4m0 2v2m0 2v2m1-8v2m1 0v2m1 0v2m0 2v4m1-2v4m1-2v2m48-4v6m1-6v2m0 2v2m1-6v2m0 2v2m1-6v6m1-2v2m2-4v6m1-6v2m1-6v6m1-6v4m1-2v2m1-2v2m169-14v2m8-4v2m1-4v2m1-2v2m71 4v6m24 0v4m1-4v4m1-4v2m1-4v2m1-2v4m1-4v2m56 12v4m1-4v2m1 4v2m7-8v4m1-2v4m1-6v4m0 4v2m1-6v6m1 2v2m1-18v8m0 10v2m1-20v4m0 4v2m1-8v2m0 6v2m1-10v2m0 6v8m1-2v2m1-10v8m11-28v2m2 4v2m1 0v2m1 0v2m1 0v2m0 2v2m1-4v2m0 4v2m1 2v2m1-6v2m1-20v2m1 2v4m2 4v2m1 0v2m1 0v2m1 0v2m9-42v2m1-6v4m3 4v4m0 14v2m1-12v2m1-2v2m1 4v2m0 16v4m1-20v2m1-22v8m0 2v2m0 4v8m1-14v4m0 8v2m0 2v2m1-18v4m0 12v6m1-22v4m0 2v2m0 6v4m0 4v4m0 16v2m1-40v2m0 12v8m1-22v6m0 10v16m0 12v2m1-48v2m0 2v2m0 2v2m0 12v6m0 2v2m0 16v2m1-46v4m0 4v4m0 12v4m1-60v12m0 16v8m0 2v10m0 14v6m0 20v2m1-90v10m0 8v14m0 10v2m0 6v2m0 10v8m0 2v2m0 6v4m0 2v4m1-80v2m0 30v2m0 20v6m1-34v2m0 2v8m0 8v2m0 6v4m1-50v8m0 16v6m0 10v2m0 6v2m1-42v2m0 16v12m0 6v2m0 2v4m1-22v2m0 6v2m0 10v6m1-38v4m0 22v2m0 4v2m1-6v4m0 2v2m1-52v4m0 2v2m0 36v4m0 4v2m1-60v10m0 2v4m0 2v2m0 14v4m0 12v2m1-58v2m0 2v4m0 2v14m0 32v6m1-64v2m0 12v2m0 6v4m0 36v2m1-82v4m0 2v2m0 6v2m0 22v2m0 42v4m1-90v2m0 50v2m0 24v2m0 8v2m1-36v2m0 24v2m1-82v2m0 54v2m0 26v2m1-86v2m0 56v2m2-62v2m0 62v2m1-64v2m1 0v6m0 60v2m1-64v2m1 64v2m1-2v2m1-2v2m1 4v4m1-16v2m0 4v2m0 8v2m1-56v2m0 6v4m0 28v2m0 6v2m0 4v4m1-56v4m0 2v4m0 30v2m0 6v2m0 2v2m0 4v8m1-62v4m0 42v4m0 4v8m1-58v4m0 42v2m0 4v4m1-52v4m0 46v6m1-86v2m0 2v10m0 16v4m0 44v2m0 22v2m1-82v18m0 28v4m0 8v2m0 16v2m1-70v6m0 4v2m0 30v2m0 6v2m0 24v2m1-72v4m0 2v2m0 32v6m1-42v2m0 2v2m2-44v2m2 112v2m1 0v2m2-112v4m1 108v2m1-2v2m1-94v2m0 68v2m1-68v2m0 68v4m0 16v2m1-86v2m0 34v2m0 26v2m0 16v2m1-36v2m0 24v2m1-100v8m1-6v2m0 4v8m1-6v2m0 8v4m0 28v2m1-40v4m0 2v6m0 18v2m1-26v2m0 2v2m0 20v2m1 0v2m2-10v6m1-42v2m0 32v2m0 2v4m1-42v4m0 34v6m1-48v2m0 6v8m0 4v2m0 22v6m1-32v2m0 26v4m1-46v4m0 12v6m1 0v12m1-8v6m0 2v4m1-28v2m0 2v4m0 2v2m0 12v2m0 4v2m1-32v2m0 2v8m0 14v2m0 4v2m1-30v8m0 2v6m0 12v6m1-24v2m0 18v2m1-2v2m1-8v4m0 4v2m1-10v2m0 4v6m0 4v4m1-22v2m0 2v2m0 6v12m1-22v6m0 6v4m0 4v2m1-6v4m1-62v4m0 58v4m1-66v4m0 12v6m0 40v2"/>
<path stroke="#fff400" d="M306.5 348v2m0 4v2m1-6v2m1 0v2m3 2v2m2-6v4m0 8v2m1-16v2m0 10v2m0 8v2m1-8v6m1-6v2m0 2v6m1 0v2m1-2v2m1-18v2m0 16v2m1-14v2m1 0v4m0 8v2m1-10v2m0 4v4m1-22v4m0 18v2m2-24v2m0 10v2m1-10v4m0 6v2m2-4v4m1-4v8m7-10v2m1-2v4m1-6v2m1-4v2m15-2v2m1 0v2m1-4v2m1 0v4m8-10v2m0 2v2m1-4v2m0 2v4m1-6v2m0 2v2m1-4v2m51 4v2m1-2v2m187-18v4m1-4v4m166 18v2m1 2v4m4-8v4m3 2v6m17-14v2m2 0v2m1 4v6m17-48v4m0 4v2m1-8v2m0 6v2m1-8v2m0 2v2m0 8v2m1-10v2m0 8v2m1 6v4m1-18v6m0 12v4m2-14v2m1-16v2m0 14v4m0 12v2m1-34v2m0 18v2m0 14v2m1-14v4m0 2v2m0 6v2m1-30v6m0 4v4m0 4v4m1-24v2m0 6v4m0 8v10m0 6v2m1-34v2m0 6v2m0 24v2m1-34v2m0 4v6m0 6v2m0 2v4m0 2v2m1-24v12m0 4v8m1-56v6m0 30v4m0 4v6m0 6v4m1-62v2m0 20v6m0 2v2m0 18v2m0 12v2m0 2v2m1-68v12m0 2v2m0 2v8m0 24v2m0 12v4m1-42v2m0 22v2m1-24v2m0 18v6m1-38v2m0 34v2m1-36v6m0 8v4m0 2v6m1-2v8m0 8v4m1-34v4m0 14v2m0 2v2m0 8v2m1-30v4m0 14v2m1-34v2m0 30v2m1-48v2m1-10v6m0 4v2m0 44v4m1-76v2m0 10v2m0 14v6m0 2v2m0 38v2m1-76v8m0 20v6m0 2v6m1-52v2m0 44v4m1-48v2m0 42v4m3 10v2m1-60v2m1 4v2m0 8v2m0 46v2m1 0v2m1-2v4m1-2v2m2-60v2m0 60v4m1-52v2m0 34v4m0 2v2m0 4v2m0 4v2m1-52v4m0 6v2m0 24v2m0 10v4m1-48v2m0 4v2m0 26v2m0 10v2m0 2v4m1-50v8m0 24v2m0 12v4m1-2v4m1-4v2m0 2v2m1-46v6m0 26v2m0 8v2m0 2v12m1-90v2m0 10v8m0 74v2m0 2v6m1-84v2m0 18v2m1-14v2m0 2v2m0 8v4m0 26v2m0 6v4m1-48v2m0 2v2m0 2v4m0 26v8m0 24v2m1-108v2m0 46v4m0 54v2m1-106v4m0 40v2m1-46v2m2 0v2m1 110v2m1-108v2m0 104v2m1-106v6m1 74v4m0 2v2m1-2v6m0 14v2m1-16v2m0 12v2m1-54v2m0 34v8m1-68v2m0 32v8m0 28v2m0 2v2m1-72v2m0 12v2m1-46v4m0 32v2m0 10v2m1-38v4m0 22v2m1-26v2m5 20v2m2-40v2m0 2v2m1-8v2m0 14v2m1-10v8m0 2v2m1-4v4m0 4v2m1-6v2m0 2v6m0 6v2m1-16v2m0 4v10m1-22v2m0 8v4m0 8v2m0 4v2m1-4v4m1-8v10m1-6v6m1-2v4m2-8v2m1 14v4"/>
<path stroke="#ffe400" d="M306.5 350v4m2 0v2m0 6v2m1-8v2m1-2v2m0 12v2m1-14v2m0 12v2m1-18v10m1-16v2m0 4v8m0 2v2m1-10v4m0 2v8m1-10v4m1-2v2m0 2v2m1-14v2m0 12v6m1-18v2m0 12v4m1-14v2m1 4v4m0 6v2m2-6v4m0 4v4m1-2v2m1-26v2m0 2v4m1 2v2m1-4v2m0 2v2m29-8v2m1 0v4m10-6v2m1 0v2m433 10v4m1 0v4m18-40v4m1-4v2m0 2v2m0 2v2m1-8v2m0 2v2m0 2v4m1-6v2m0 2v4m1-6v6m2 0v4m1 0v2m0 10v4m2-10v2m0 10v2m1-8v2m0 2v2m0 2v2m1-6v2m0 6v4m1-34v4m1 0v6m0 18v2m1-24v4m0 20v2m1 2v2m0 6v2m1-26v4m0 22v2m1-68v6m0 20v2m0 12v4m0 2v2m1-36v2m0 2v2m0 8v4m0 14v6m1-40v4m0 4v6m0 22v4m2-20v2m2 4v2m0 2v2m1 2v2m0 2v2m1-4v4m1-4v2m1 2v2m1-50v4m1-12v8m0 4v2m0 42v2m0 2v2m1-78v4m0 8v4m0 14v2m0 6v2m0 36v2m0 2v2m1-86v2m0 34v2m0 4v2m0 4v4m0 30v2m1-32v2m0 30v2m1-86v2m0 52v2m1-58v2m0 56v2m1-60v2m1 2v6m0 52v2m1-54v2m0 2v4m0 46v2m1-58v2m0 4v6m0 46v2m1-60v2m0 32v4m0 20v2m1-18v4m1 16v2m1-58v10m0 38v2m0 6v4m1-46v4m0 28v2m0 14v4m1-46v2m0 24v6m1-24v4m1 0v4m1-8v8m1-4v4m0 22v2m0 14v2m1-36v2m1-40v2m0 34v4m0 38v14m1-94v2m0 14v4m0 2v6m0 52v10m0 6v8m1-74v2m0 14v2m0 36v2m0 18v2m1-72v2m0 12v2m0 32v2m1-82v2m0 34v2m0 2v2m0 2v2m0 32v4m1-42v4m0 2v4m0 30v2m0 22v2m1-104v2m1-2v2m0 102v2m1 2v4m1-4v4m2-20v4m0 16v2m1-22v2m0 2v2m0 14v2m1-14v2m0 8v4m1-50v4m0 18v2m0 14v4m0 6v2m1-38v4m0 32v2m1-74v2m0 10v4m0 54v2m1-68v2m0 12v4m1-16v2m1-28v4m2 32v4m6-48v2m1-4v14m1 0v2m1 2v4m1-2v2m1 2v2m1 2v8m1-4v8"/>
<path stroke="#ffd400" d="M307.5 352v8m2 6v2m1-10v2m0 8v2m1-10v4m1 2v2m1 0v2m1-18v6m1-2v6m1-6v2m0 2v4m1 4v2m1-10v2m0 8v2m1-8v14m1-6v6m1-6v8m3-18v2m1-2v4m0 2v2m1 0v2m475 10v2m19-34v2m1 4v2m1 0v2m1 4v8m1-8v2m0 6v4m1 0v4m1-10v2m1 0v4m0 6v2m1-8v4m0 2v4m1 0v2m1 0v4m1-26v2m0 22v2m0 2v2m1-2v4m1-2v2m0 2v4m1-6v2m1 0v4m1-20v2m0 18v2m2-60v4m1 4v14m1 0v2m1 0v2m1-4v4m0 6v2m1-6v2m1 8v2m1-6v2m0 6v2m1-6v2m1 0v6m1-50v2m0 48v2m1-80v4m0 16v2m0 10v2m0 44v2m0 2v2m1-50v2m0 2v4m0 42v2m1-44v2m0 4v4m1-8v10m1-54v2m0 46v8m1 0v2m1-50v2m0 48v2m1-42v2m1-12v2m0 26v6m0 20v2m1-50v4m0 26v6m1-10v2m0 2v4m0 4v2m0 12v2m1-58v2m0 32v2m0 4v6m1-34v2m0 30v6m0 2v6m1-38v2m0 4v2m2 6v4m0 16v2m1-18v2m0 16v2m1-20v2m1-2v2m0 2v2m1-4v2m0 2v2m0 18v2m1-60v8m0 52v2m1-52v2m0 26v4m0 20v4m0 20v6m1-76v8m0 20v2m0 36v2m0 12v4m1-104v2m0 18v6m0 2v2m0 2v2m0 50v2m0 18v2m1-102v2m0 14v6m0 8v4m0 2v2m0 2v2m0 6v2m0 24v2m0 4v2m1-80v2m0 72v2m0 2v2m1-80v2m0 34v6m0 40v2m0 16v2m1-96v2m0 76v2m1 18v2m1-106v4m0 82v2m1-82v2m0 80v2m0 18v2m1-98v2m0 72v4m0 4v2m1-82v6m1 2v4m0 46v2m0 32v2m1-82v4m0 30v2m0 10v4m0 28v6m1-78v2m0 14v6m0 14v2m0 2v2m0 4v6m0 20v2m1-58v2m0 4v2m1-4v2m1-6v2m0 4v4m1-8v2"/>
<path stroke="#ffc500" d="M308.5 356v2m0 2v2m1 2v2m1-6v2m1 2v2m2 4v4m3-16v2m1-2v10m1-6v2m0 4v2m7-4v2m499-2v2m0 2v2m1-4v8m1-4v4m0 2v2m1-2v4m1-2v2m2 4v2m1 4v2m1-2v2m1 4v2m1 0v4m1 0v2m3-52v4m2 0v6m1 0v6m1 2v4m1-4v2m0 2v2m1-2v4m1 2v4m1 0v4m2-46v2m1-10v6m1-26v4m0 6v2m0 18v2m1-32v2m0 30v8m2 4v2m1-48v6m0 44v6m1-44v6m0 34v2m1-44v2m0 8v2m0 14v4m0 20v2m1-52v2m0 6v2m0 14v2m0 6v2m0 2v4m1-42v6m0 22v4m0 10v2m0 10v2m1-56v4m0 30v2m0 20v2m1-20v4m0 6v2m1-14v2m0 4v4m1-22v4m0 2v2m0 16v2m1-18v4m1 18v2m2-14v4m0 14v2m1-20v2m0 2v4m1-2v4m0 12v2m1-20v2m1-42v2m0 2v4m0 2v2m0 32v2m1-48v2m0 14v4m0 50v2m0 16v4m0 6v2m1-84v4m0 6v2m0 2v2m0 18v2m0 20v2m0 28v2m1-98v2m0 10v2m0 6v2m0 4v2m0 70v2m1-98v4m0 10v8m0 10v2m0 10v2m1-46v4m0 38v2m0 30v6m1-82v6m0 2v2m0 70v4m1-84v4m0 2v2m0 76v4m1-84v2m0 18v4m0 56v2m0 2v2m0 14v2m1-98v2m0 16v4m0 56v2m0 2v2m2-72v2m0 74v2m0 10v2m1-48v2m0 6v2m0 28v2m0 2v2m1-76v2m0 12v4m0 18v2m0 2v2m0 4v2m0 4v2m1-50v2m0 8v4m0 22v2m0 34v4m1-70v4m0 12v4m1-16v2m0 2v4m1-2v2m1 4v2m1-6v2m0 2v2"/>
<path stroke="#ffb500" d="M309.5 358v2m1 2v6m1-2v6m1-4v2m0 2v2m6-10v4m506 0v2m2 6v2m1-2v2m13-14v4m3 10v6m1-4v4m5-42v4m1-26v6m0 2v8m2-20v2m0 38v2m1 0v2m1-40v2m0 28v4m0 6v4m1-40v2m0 6v2m0 16v4m0 10v2m0 2v4m1-24v2m0 4v4m0 14v2m1-40v2m0 22v2m0 4v2m0 8v2m1-44v2m0 32v2m0 6v2m1-26v4m0 14v2m0 6v2m1-52v6m0 22v4m0 14v4m0 2v4m1-22v2m1 2v2m0 2v2m1-12v2m0 10v2m1-10v2m0 8v2m1-10v4m3 6v2m1-6v4m1-44v2m0 4v2m0 42v2m1-54v4m0 8v2m0 34v2m0 40v2m0 2v2m1-96v4m0 8v2m0 70v2m0 12v2m1-94v2m0 6v2m0 10v4m0 42v4m0 8v2m1-68v2m0 8v2m0 6v2m0 14v2m0 22v2m0 6v4m1-78v2m0 8v8m0 18v2m0 2v4m0 34v2m1-76v2m0 6v6m0 12v6m0 44v2m1-84v2m0 2v4m0 2v18m0 48v4m0 18v2m1-98v2m0 6v2m0 6v2m0 4v4m0 58v2m1-82v2m0 18v4m0 26v2m0 30v2m0 12v2m1-94v4m0 8v4m0 2v2m0 74v2m1-84v2m0 4v2m0 36v2m0 26v2m0 6v2m1-82v2m0 8v8m0 16v2m0 2v2m0 2v2m0 4v2m0 8v2m0 16v2m1-64v4m0 4v6m0 14v2m0 8v4m1-28v6m1-16v4m1-2v2m1 4v2m1 0v2m1-2v2"/>
<path stroke="#ffa500" d="M308.5 358v2m1 0v4m3 6v2m538-36v10m1-28v2m0 26v2m1 2v6m1-40v2m0 32v4m1-32v6m0 30v2m1-12v2m0 4v4m0 2v4m1-28v2m0 22v12m1-36v4m0 6v2m0 18v2m0 4v2m1-26v2m0 18v2m1-44v6m0 38v2m0 2v2m1-44v2m0 16v2m0 24v2m1-40v4m0 8v2m0 4v2m0 4v2m1-8v6m0 4v2m1-8v2m0 6v2m1 0v2m0 2v2m1 2v2m1-12v2m0 10v2m1-10v4m0 6v2m2-10v10m0 4v2m1-16v6m0 2v2m0 6v2m1-60v4m0 2v2m0 54v2m0 24v2m1-90v2m0 4v2m0 38v2m0 16v2m0 16v2m0 6v4m1-90v2m0 2v2m0 38v2m0 32v2m0 6v2m0 2v4m1-92v2m0 2v4m0 12v6m0 18v2m0 46v2m1-92v8m0 8v2m0 8v2m0 14v2m0 22v2m1-64v6m0 6v12m0 6v4m0 2v2m0 28v2m0 20v2m1-70v4m0 52v2m1-82v2m0 6v2m0 14v4m0 22v2m0 32v2m1-82v4m0 8v2m0 8v4m0 20v2m0 2v2m0 30v2m1-66v2m0 2v4m0 20v10m0 28v2m0 8v2m1-86v4m0 2v2m0 6v4m0 26v4m0 2v4m0 24v6m1-78v2m0 14v4m0 28v8m1-52v2m0 2v4m0 14v2m0 2v2m1-24v8m4 8v2"/>
<path stroke="#ff9500" d="M851.5 320v2m1-4v4m0 26v2m1-32v4m0 2v2m0 22v2m0 4v4m1-30v4m0 16v2m0 4v4m1-24v2m0 22v2m1-2v2m1-20v2m0 26v4m1-38v2m0 2v2m0 30v4m1-42v2m0 38v2m1-40v2m0 16v2m1-12v2m0 8v4m1-2v2m0 6v2m1-2v4m1 2v2m1-2v2m0 6v2m1-8v2m2 4v4m0 4v2m1-2v4m1-4v2m0 2v2m1-54v2m0 40v2m0 4v2m0 2v2m0 2v2m1-60v4m0 50v8m0 20v6m1-84v2m0 42v2m0 10v6m0 20v2m0 2v2m1-86v2m0 74v2m0 6v2m1-68v2m0 2v4m0 18v2m0 32v2m1-42v2m0 2v4m1-42v2m0 22v6m0 6v2m0 2v8m0 30v2m1-82v2m0 6v4m0 14v4m0 20v4m0 16v4m1-68v2m0 4v2m0 14v2m0 24v2m0 18v2m0 10v2m0 6v2m1-88v2m0 4v2m0 12v2m0 34v4m0 20v8m1-76v2m0 2v2m0 4v4m0 14v8m0 10v10m1-56v4m0 14v2m0 8v2m0 6v2m1-34v2m0 20v2"/>
<path stroke="#ff8500" d="M851.5 322v2m1-2v2m1-2v2m0 2v2m1 4v2m2 4v2m0 6v2m2-12v2m0 2v2m0 4v2m1-14v2m1 0v2m1 6v2m2 20v2m1-4v4m1 2v2m1 0v2m0 4v2m1 0v2m1-2v4m2 2v2m1-8v4m0 2v2m0 2v2m1-12v2m0 2v4m1-4v2m0 30v4m1-36v2m0 8v4m0 4v2m0 14v6m0 2v4m1-70v2m0 42v2m1-20v4m0 30v2m1-48v6m0 2v2m0 8v2m0 30v2m1-82v2m0 26v8m0 8v2m0 6v2m0 28v6m0 2v2m1-86v2m0 20v6m0 10v2m0 8v2m0 6v2m0 22v6m1-84v4m0 16v4m0 12v2m0 10v6m0 4v2m0 4v2m1-42v4m0 8v2m1-24v2m0 14v8"/>
<path stroke="#ff7500" d="M851.5 324v2m0 4v16m1-22v2m1 2v4m1 2v2m1 0v2m2 4v2m2-8v4m0 8v2m2-2v2m4 22v4m1-2v4m1-2v4m5 2v2m1 2v8m1 4v4m1-6v8m0 16v12m1-42v2m0 6v4m0 6v2m0 12v4m1-32v2m0 2v4m0 8v2m0 14v6m1-52v2m0 4v2m0 10v8m0 26v2m1-82v2m0 24v2m0 20v6m0 2v2m1-34v2m0 8v2m0 24v4m1-36v4m0 2v2"/>
<path stroke="#ff6500" d="M851.5 326v4m1-4v12m0 8v2m1-16v6m2 8v2m1-8v2m1 2v2m1-4v4m1-6v2m0 4v2m1-10v4m0 6v2m1-4v2m13 38v8m1-8v10m1-4v6m0 4v6m0 18v6m1-36v2m0 4v4m0 26v2m1-52v4m0 20v6m1-32v2m0 2v4m0 22v6m1-38v8m1-2v2"/>
<path stroke="#ff5500" d="M852.5 338v8m1 0v2m1-12v2m0 8v2m1-10v2m1 2v4m3-4v2m1-2v2m0 2v2m17 58v4m2-28v2"/>
<path stroke="#ff4500" d="M853.5 338v4m0 2v2m1-8v2m1 0v6m4-2v2m1-2v2"/>
<path stroke="#ff3500" d="M853.5 342v2m1-4v6"/>
</g>
<g fill="none" stroke-width="1" shape-rendering="crispEdges">
<path stroke="#1818e8" d="M439.5 569v2M500.5 571v2M477.5 577v2M245.5 570v2M281.5 569v2M110.5 581v2M420.5 585v5M208.5 597v2M210.5 604v5M406.5 603v2M297.5 611v5M298.5 620v2M270.5 614v2M271.5 615v2M275.5 620v2M274.5 620v2M341.5 617v5M340.5 619v2M346.5 610v2M345.5 612v2M405.5 616v5M405.5 614v2M176.5 624v5M177.5 627v2M182.5 628v2M184.5 630v2M188.5 623v2M187.5 624v2M201.5 621v2M470.5 620v2M476.5 618v2M474.5 619v2M396.5 626v2M397.5 626v2M354.5 626v5M353.5 629v2M358.5 624v2M370.5 628v5M369.5 627v2M371.5 630v2M372.5 632v2M368.5 629v2M377.5 626v5M335.5 631v2M274.5 630v2M262.5 634v2M197.5 634v5M196.5 636v2M236.5 635v5M206.5 639v2M209.5 640v2M205.5 638v2M433.5 631v2M431.5 636v2M432.5 634v2M383.5 637v2M462.5 639v5M387.5 644v2M121.5 644v5M121.5 649v5M122.5 647v2M120.5 653v2M196.5 649v2M195.5 650v2M239.5 648v5M163.5 653v2M164.5 654v2M176.5 657v5M380.5 660v2M485.5 666v5M484.5 667v2M853.5 566v2M583.5 579v2M643.5 590v2M684.5 582v2M685.5 583v2M683.5 580v2M705.5 579v5M775.5 586v2M755.5 586v2M754.5 591v2M797.5 593v2M798.5 592v2M532.5 594v2M806.5 607v5M726.5 616v5M743.5 612v2M744.5 618v2M744.5 615v2M739.5 619v2M780.5 614v2M781.5 612v2M786.5 623v2M792.5 621v2M790.5 620v2M779.5 625v5M780.5 626v5M757.5 622v5M734.5 624v2M642.5 622v2M607.5 624v2M606.5 625v2M670.5 629v2M703.5 636v5M743.5 636v2M803.5 635v5M804.5 634v2M874.5 619v2M877.5 622v2M894.5 622v5M895.5 621v2M896.5 620v2M899.5 617v5M911.5 619v2M883.5 628v2M876.5 642v2M557.5 650v5M557.5 648v2M528.5 657v2M638.5 657v2M691.5 654v2M697.5 652v2M702.5 654v2M815.5 658v5M832.5 665v2"/>
<path stroke="#00e8ff" d="M345.5 511v2M398.5 551v2M442.5 560v2M144.5 586v2M436.5 595v2M297.5 612v2M152.5 620v2M176.5 626v2M236.5 636v2M462.5 640v2M121.5 645v2M121.5 650v2M434.5 657v2M485.5 666v2M204.5 670v2M205.5 668v2M636.5 488v2M639.5 488v2M643.5 581v2M767.5 581v2M531.5 591v2M787.5 619v2M637.5 620v2M581.5 628v2M510.5 628v2M899.5 618v2M723.5 659v2M815.5 659v2"/>
<path stroke="#5a5aa8" d="M238.5 621v2M358.5 642v2M276.5 644v2M399.5 648v2M479.5 647v2M172.5 654v2M176.5 655v2M289.5 652v2M369.5 650v2M458.5 659v2M492.5 634v2M714.5 624v2M766.5 626v2M601.5 624v2M625.5 633v2M846.5 624v2M894.5 636v2M524.5 649v2M766.5 648v2M741.5 655v2M763.5 659v2M842.5 657v2M899.5 652v2"/>
<path stroke="#1414e0" d="M699.5 606v8M700.5 604v10M701.5 603v11M702.5 611v6M703.5 613v4"/>
<path stroke="#00f0f0" d="M688.5 596v6M689.5 599v5"/>
<path stroke="#a0ff60" d="M689.5 604v8M690.5 606v10M691.5 611v4"/>
</g>
<rect x="104.5" y="53" width="809" height="627" fill="none" stroke="#000" stroke-width="1.4"/>
<path d="M123.5 680v-3M123.5 53v3M146.0 680v-3M146.0 53v3M168.5 680v-3M168.5 53v3M191.0 680v-3M191.0 53v3M213.5 680v-3M213.5 53v3M236.0 680v-6M236.0 53v6M258.5 680v-3M258.5 53v3M281.0 680v-3M281.0 53v3M303.5 680v-3M303.5 53v3M326.0 680v-3M326.0 53v3M348.5 680v-3M348.5 53v3M371.0 680v-6M371.0 53v6M393.5 680v-3M393.5 53v3M416.0 680v-3M416.0 53v3M438.5 680v-3M438.5 53v3M461.0 680v-3M461.0 53v3M483.5 680v-3M483.5 53v3M506.0 680v-6M506.0 53v6M528.5 680v-3M528.5 53v3M551.0 680v-3M551.0 53v3M573.5 680v-3M573.5 53v3M596.0 680v-3M596.0 53v3M618.5 680v-3M618.5 53v3M641.0 680v-6M641.0 53v6M663.5 680v-3M663.5 53v3M686.0 680v-3M686.0 53v3M708.5 680v-3M708.5 53v3M731.0 680v-3M731.0 53v3M753.5 680v-3M753.5 53v3M776.0 680v-6M776.0 53v6M798.5 680v-3M798.5 53v3M821.0 680v-3M821.0 53v3M843.5 680v-3M843.5 53v3M866.0 680v-3M866.0 53v3M888.5 680v-3M888.5 53v3M911.0 680v-6M911.0 53v6M104 53.00h7M914 53.00h-7M104 79.12h3.8M914 79.12h-3.8M104 105.25h3.8M914 105.25h-3.8M104 131.38h3.8M914 131.38h-3.8M104 157.50h7M914 157.50h-7M104 183.62h3.8M914 183.62h-3.8M104 209.75h3.8M914 209.75h-3.8M104 235.88h3.8M914 235.88h-3.8M104 262.00h7M914 262.00h-7M104 288.12h3.8M914 288.12h-3.8M104 314.25h3.8M914 314.25h-3.8M104 340.38h3.8M914 340.38h-3.8M104 366.50h7M914 366.50h-7M104 392.62h3.8M914 392.62h-3.8M104 418.75h3.8M914 418.75h-3.8M104 444.88h3.8M914 444.88h-3.8M104 471.00h7M914 471.00h-7M104 497.12h3.8M914 497.12h-3.8M104 523.25h3.8M914 523.25h-3.8M104 549.38h3.8M914 549.38h-3.8M104 575.50h7M914 575.50h-7M104 601.62h3.8M914 601.62h-3.8M104 627.75h3.8M914 627.75h-3.8M104 653.88h3.8M914 653.88h-3.8M104 680.00h7M914 680.00h-7" stroke="#111" stroke-width="1" fill="none" shape-rendering="crispEdges"/>
<defs><linearGradient id="cb" x1="0" y1="0" x2="0" y2="1">
<stop offset="0.0000" stop-color="#800000"/>
<stop offset="0.1119" stop-color="#ff0000"/>
<stop offset="0.3754" stop-color="#ffff00"/>
<stop offset="0.6235" stop-color="#00ffff"/>
<stop offset="0.7478" stop-color="#0000ff"/>
<stop offset="0.7624" stop-color="#0808f4"/>
<stop offset="1.0000" stop-color="#666666"/>
</linearGradient></defs>
<rect x="922.5" y="127.5" width="26" height="478" fill="url(#cb)" stroke="#222" stroke-width="1"/>
<path d="M948.5 127.50h-2M948.5 154.06h-2M948.5 180.62h-2M948.5 207.19h-2M948.5 233.75h-2M948.5 260.31h-2M948.5 286.88h-2M948.5 313.44h-2M948.5 340.00h-2M948.5 366.56h-2M948.5 393.12h-2M948.5 419.69h-2M948.5 446.25h-2M948.5 472.81h-2M948.5 499.38h-2M948.5 525.94h-2M948.5 552.50h-2M948.5 579.06h-2M948.5 605.62h-2" stroke="#000" stroke-width="1"/>
<g style="font-family:'Liberation Sans',sans-serif;font-size:20px" fill="#000">
<text x="50" y="39.5" style="white-space:pre">Equivalent Radar Reflectivity Factor Ze of Hydrometeors   12:01 25.08.2022 - 15:00 25.08.2022 Muenchen</text>
<text x="236" y="704.7" text-anchor="middle">12:30</text>
<text x="371" y="704.7" text-anchor="middle">13:00</text>
<text x="506" y="704.7" text-anchor="middle">13:30</text>
<text x="641" y="704.7" text-anchor="middle">14:00</text>
<text x="776" y="704.7" text-anchor="middle">14:30</text>
<text x="911" y="704.7" text-anchor="middle">15:00</text>
<text x="509" y="726.5" text-anchor="middle">Time UTC</text>
<text x="100" y="65" text-anchor="end">12</text>
<text x="100" y="164" text-anchor="end">10</text>
<text x="100" y="268.5" text-anchor="end">8</text>
<text x="100" y="373" text-anchor="end">6</text>
<text x="100" y="477.5" text-anchor="end">4</text>
<text x="100" y="582" text-anchor="end">2</text>
<text x="100" y="680" text-anchor="end">0</text>
<text transform="translate(62 364) rotate(-90)" text-anchor="middle">Height km</text>
<text x="953.3" y="187">20</text>
<text x="953.3" y="293.2">0</text>
<text x="953.3" y="399.4">-20</text>
<text x="953.3" y="505.7">-40</text>
<text x="953.3" y="605">-60</text>
<text transform="translate(1000 366.3) rotate(-90)" text-anchor="middle">Ze dBZ</text>
</g>
</svg>
</body></html>
